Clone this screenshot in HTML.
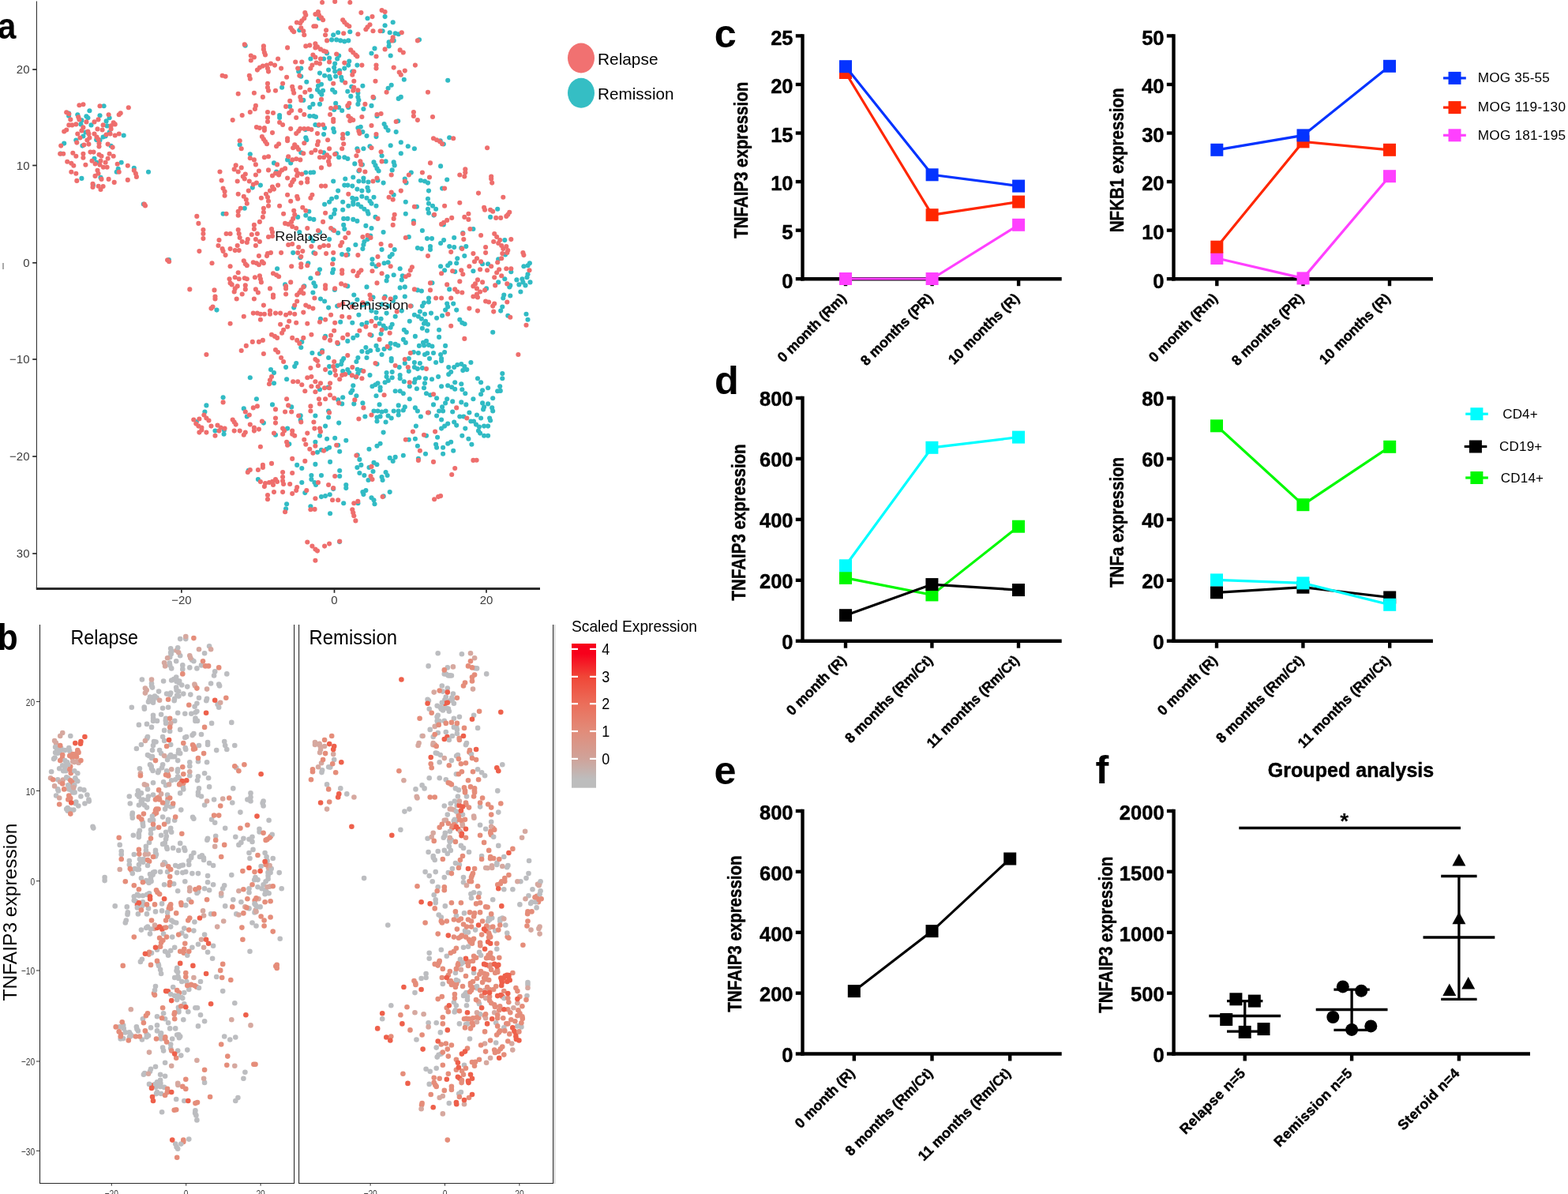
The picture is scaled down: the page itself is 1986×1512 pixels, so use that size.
<!DOCTYPE html>
<html lang="en"><head><meta charset="utf-8"><title>Figure</title>
<style>html,body{margin:0;padding:0;background:#fff}body{width:1986px;height:1512px;overflow:hidden}svg{display:block}text{white-space:pre}</style>
</head><body>
<svg width="1986" height="1512" viewBox="0 0 1986 1512" font-family='"Liberation Sans", sans-serif'>
<rect width="1986" height="1512" fill="#fff"/>
<g id="panel-c">
<text x="904.8" y="60.2" font-size="50.4" fill="#000" font-weight="bold">c</text>
<line x1="1016.5" y1="43.199999999999996" x2="1016.5" y2="355.4" stroke="#000" stroke-width="4.4" stroke-linecap="butt"/>
<line x1="1014.3" y1="353.2" x2="1344.7" y2="353.2" stroke="#000" stroke-width="4.4" stroke-linecap="butt"/>
<g font-weight="bold" stroke="#000" stroke-width="0.45" stroke-linejoin="round">
<line x1="1007.8" y1="353.2" x2="1016.5" y2="353.2" stroke="#000" stroke-width="4.4" stroke-linecap="butt"/>
<text x="1004.5" y="364.5" font-size="25.5" fill="#000" text-anchor="end">0</text>
<line x1="1007.8" y1="291.64" x2="1016.5" y2="291.64" stroke="#000" stroke-width="4.4" stroke-linecap="butt"/>
<text x="1004.5" y="302.94" font-size="25.5" fill="#000" text-anchor="end">5</text>
<line x1="1007.8" y1="230.07999999999998" x2="1016.5" y2="230.07999999999998" stroke="#000" stroke-width="4.4" stroke-linecap="butt"/>
<text x="1004.5" y="241.38" font-size="25.5" fill="#000" text-anchor="end">10</text>
<line x1="1007.8" y1="168.51999999999998" x2="1016.5" y2="168.51999999999998" stroke="#000" stroke-width="4.4" stroke-linecap="butt"/>
<text x="1004.5" y="179.82" font-size="25.5" fill="#000" text-anchor="end">15</text>
<line x1="1007.8" y1="106.95999999999998" x2="1016.5" y2="106.95999999999998" stroke="#000" stroke-width="4.4" stroke-linecap="butt"/>
<text x="1004.5" y="118.25999999999998" font-size="25.5" fill="#000" text-anchor="end">20</text>
<line x1="1007.8" y1="45.39999999999998" x2="1016.5" y2="45.39999999999998" stroke="#000" stroke-width="4.4" stroke-linecap="butt"/>
<text x="1004.5" y="56.699999999999974" font-size="25.5" fill="#000" text-anchor="end">25</text>
<line x1="1071" y1="353.2" x2="1071" y2="362.2" stroke="#000" stroke-width="4.4" stroke-linecap="butt"/>
<text x="1073" y="378.7" font-size="17.8" fill="#000" text-anchor="end" transform="rotate(-45 1073 378.7)">0 month (Rm)</text>
<line x1="1180.6" y1="353.2" x2="1180.6" y2="362.2" stroke="#000" stroke-width="4.4" stroke-linecap="butt"/>
<text x="1182.6" y="378.7" font-size="17.8" fill="#000" text-anchor="end" transform="rotate(-45 1182.6 378.7)">8 months (PR)</text>
<line x1="1290.1" y1="353.2" x2="1290.1" y2="362.2" stroke="#000" stroke-width="4.4" stroke-linecap="butt"/>
<text x="1292.1" y="378.7" font-size="17.8" fill="#000" text-anchor="end" transform="rotate(-45 1292.1 378.7)">10 months (R)</text>
<text font-size="23" text-anchor="middle" textLength="198" lengthAdjust="spacingAndGlyphs" transform="translate(947 202.8) rotate(-90)">TNFAIP3 expression</text>
</g>
<polyline points="1071.0,353.0 1180.6,353.0 1290.1,284.8" fill="none" stroke="#ff40ff" stroke-width="3.2"/>
<rect x="1063.0" y="345.0" width="16" height="16" fill="#ff40ff"/>
<rect x="1172.6" y="345.0" width="16" height="16" fill="#ff40ff"/>
<rect x="1282.1" y="276.8" width="16" height="16" fill="#ff40ff"/>
<polyline points="1071.0,92.0 1180.6,272.2 1290.1,255.6" fill="none" stroke="#ff2600" stroke-width="3.2"/>
<rect x="1063.0" y="84.0" width="16" height="16" fill="#ff2600"/>
<rect x="1172.6" y="264.2" width="16" height="16" fill="#ff2600"/>
<rect x="1282.1" y="247.6" width="16" height="16" fill="#ff2600"/>
<polyline points="1071.0,84.2 1180.6,221.3 1290.1,235.6" fill="none" stroke="#0433ff" stroke-width="3.2"/>
<rect x="1063.0" y="76.2" width="16" height="16" fill="#0433ff"/>
<rect x="1172.6" y="213.3" width="16" height="16" fill="#0433ff"/>
<rect x="1282.1" y="227.6" width="16" height="16" fill="#0433ff"/>
<line x1="1486.5" y1="43.199999999999996" x2="1486.5" y2="355.4" stroke="#000" stroke-width="4.4" stroke-linecap="butt"/>
<line x1="1484.3" y1="353.2" x2="1814.9" y2="353.2" stroke="#000" stroke-width="4.4" stroke-linecap="butt"/>
<g font-weight="bold" stroke="#000" stroke-width="0.45" stroke-linejoin="round">
<line x1="1477.8" y1="353.2" x2="1486.5" y2="353.2" stroke="#000" stroke-width="4.4" stroke-linecap="butt"/>
<text x="1474.5" y="364.5" font-size="25.5" fill="#000" text-anchor="end">0</text>
<line x1="1477.8" y1="291.64" x2="1486.5" y2="291.64" stroke="#000" stroke-width="4.4" stroke-linecap="butt"/>
<text x="1474.5" y="302.94" font-size="25.5" fill="#000" text-anchor="end">10</text>
<line x1="1477.8" y1="230.07999999999998" x2="1486.5" y2="230.07999999999998" stroke="#000" stroke-width="4.4" stroke-linecap="butt"/>
<text x="1474.5" y="241.38" font-size="25.5" fill="#000" text-anchor="end">20</text>
<line x1="1477.8" y1="168.51999999999998" x2="1486.5" y2="168.51999999999998" stroke="#000" stroke-width="4.4" stroke-linecap="butt"/>
<text x="1474.5" y="179.82" font-size="25.5" fill="#000" text-anchor="end">30</text>
<line x1="1477.8" y1="106.95999999999998" x2="1486.5" y2="106.95999999999998" stroke="#000" stroke-width="4.4" stroke-linecap="butt"/>
<text x="1474.5" y="118.25999999999998" font-size="25.5" fill="#000" text-anchor="end">40</text>
<line x1="1477.8" y1="45.39999999999998" x2="1486.5" y2="45.39999999999998" stroke="#000" stroke-width="4.4" stroke-linecap="butt"/>
<text x="1474.5" y="56.699999999999974" font-size="25.5" fill="#000" text-anchor="end">50</text>
<line x1="1541.3" y1="353.2" x2="1541.3" y2="362.2" stroke="#000" stroke-width="4.4" stroke-linecap="butt"/>
<text x="1543.3" y="378.7" font-size="17.8" fill="#000" text-anchor="end" transform="rotate(-45 1543.3 378.7)">0 month (Rm)</text>
<line x1="1650.5" y1="353.2" x2="1650.5" y2="362.2" stroke="#000" stroke-width="4.4" stroke-linecap="butt"/>
<text x="1652.5" y="378.7" font-size="17.8" fill="#000" text-anchor="end" transform="rotate(-45 1652.5 378.7)">8 months (PR)</text>
<line x1="1760" y1="353.2" x2="1760" y2="362.2" stroke="#000" stroke-width="4.4" stroke-linecap="butt"/>
<text x="1762" y="378.7" font-size="17.8" fill="#000" text-anchor="end" transform="rotate(-45 1762 378.7)">10 months (R)</text>
<text font-size="23" text-anchor="middle" textLength="183" lengthAdjust="spacingAndGlyphs" transform="translate(1423 202.8) rotate(-90)">NFKB1 expression</text>
</g>
<polyline points="1541.3,327.0 1650.5,352.4 1760.0,223.2" fill="none" stroke="#ff40ff" stroke-width="3.2"/>
<rect x="1533.3" y="319.0" width="16" height="16" fill="#ff40ff"/>
<rect x="1642.5" y="344.4" width="16" height="16" fill="#ff40ff"/>
<rect x="1752.0" y="215.2" width="16" height="16" fill="#ff40ff"/>
<polyline points="1541.3,312.7 1650.5,179.4 1760.0,189.8" fill="none" stroke="#ff2600" stroke-width="3.2"/>
<rect x="1533.3" y="304.7" width="16" height="16" fill="#ff2600"/>
<rect x="1642.5" y="171.4" width="16" height="16" fill="#ff2600"/>
<rect x="1752.0" y="181.8" width="16" height="16" fill="#ff2600"/>
<polyline points="1541.3,189.8 1650.5,171.4 1760.0,83.8" fill="none" stroke="#0433ff" stroke-width="3.2"/>
<rect x="1533.3" y="181.8" width="16" height="16" fill="#0433ff"/>
<rect x="1642.5" y="163.4" width="16" height="16" fill="#0433ff"/>
<rect x="1752.0" y="75.8" width="16" height="16" fill="#0433ff"/>
<line x1="1828" y1="98.9" x2="1856.8" y2="98.9" stroke="#0433ff" stroke-width="3.2" stroke-linecap="butt"/>
<rect x="1834.5" y="90.9" width="16" height="16" fill="#0433ff"/>
<text x="1871.8" y="104.4" font-size="17.2" textLength="91" lengthAdjust="spacing">MOG 35-55</text>
<line x1="1828" y1="136.1" x2="1856.8" y2="136.1" stroke="#ff2600" stroke-width="3.2" stroke-linecap="butt"/>
<rect x="1834.5" y="128.1" width="16" height="16" fill="#ff2600"/>
<text x="1871.8" y="141.1" font-size="17.2" textLength="111.2" lengthAdjust="spacing">MOG 119-130</text>
<line x1="1828" y1="171.3" x2="1856.8" y2="171.3" stroke="#ff40ff" stroke-width="3.2" stroke-linecap="butt"/>
<rect x="1834.5" y="163.3" width="16" height="16" fill="#ff40ff"/>
<text x="1871.8" y="177.4" font-size="17.2" textLength="111.2" lengthAdjust="spacing">MOG 181-195</text>
</g>
<g id="panel-d">
<text x="904.9" y="498.6" font-size="50.4" fill="#000" font-weight="bold">d</text>
<line x1="1016.5" y1="501.8" x2="1016.5" y2="813.9000000000001" stroke="#000" stroke-width="4.4" stroke-linecap="butt"/>
<line x1="1014.3" y1="811.7" x2="1344.7" y2="811.7" stroke="#000" stroke-width="4.4" stroke-linecap="butt"/>
<g font-weight="bold" stroke="#000" stroke-width="0.45" stroke-linejoin="round">
<line x1="1007.8" y1="811.7" x2="1016.5" y2="811.7" stroke="#000" stroke-width="4.4" stroke-linecap="butt"/>
<text x="1004.5" y="822.0" font-size="25.5" fill="#000" text-anchor="end">0</text>
<line x1="1007.8" y1="734.7750000000001" x2="1016.5" y2="734.7750000000001" stroke="#000" stroke-width="4.4" stroke-linecap="butt"/>
<text x="1004.5" y="745.075" font-size="25.5" fill="#000" text-anchor="end">200</text>
<line x1="1007.8" y1="657.85" x2="1016.5" y2="657.85" stroke="#000" stroke-width="4.4" stroke-linecap="butt"/>
<text x="1004.5" y="668.15" font-size="25.5" fill="#000" text-anchor="end">400</text>
<line x1="1007.8" y1="580.925" x2="1016.5" y2="580.925" stroke="#000" stroke-width="4.4" stroke-linecap="butt"/>
<text x="1004.5" y="591.2249999999999" font-size="25.5" fill="#000" text-anchor="end">600</text>
<line x1="1007.8" y1="504.0" x2="1016.5" y2="504.0" stroke="#000" stroke-width="4.4" stroke-linecap="butt"/>
<text x="1004.5" y="514.3" font-size="25.5" fill="#000" text-anchor="end">800</text>
<line x1="1071" y1="811.7" x2="1071" y2="820.7" stroke="#000" stroke-width="4.4" stroke-linecap="butt"/>
<text x="1073" y="837.2" font-size="17.8" fill="#000" text-anchor="end" transform="rotate(-45 1073 837.2)">0 month (R)</text>
<line x1="1180.4" y1="811.7" x2="1180.4" y2="820.7" stroke="#000" stroke-width="4.4" stroke-linecap="butt"/>
<text x="1182.4" y="837.2" font-size="17.8" fill="#000" text-anchor="end" transform="rotate(-45 1182.4 837.2)">8 months (Rm/Ct)</text>
<line x1="1290" y1="811.7" x2="1290" y2="820.7" stroke="#000" stroke-width="4.4" stroke-linecap="butt"/>
<text x="1292" y="837.2" font-size="17.8" fill="#000" text-anchor="end" transform="rotate(-45 1292 837.2)">11 months (Rm/Ct)</text>
<text font-size="23" text-anchor="middle" textLength="198" lengthAdjust="spacingAndGlyphs" transform="translate(944 661.4) rotate(-90)">TNFAIP3 expression</text>
</g>
<polyline points="1071.0,731.9 1180.4,753.4 1290.0,666.7" fill="none" stroke="#00f900" stroke-width="3.2"/>
<rect x="1063.0" y="723.9" width="16" height="16" fill="#00f900"/>
<rect x="1172.4" y="745.4" width="16" height="16" fill="#00f900"/>
<rect x="1282.0" y="658.7" width="16" height="16" fill="#00f900"/>
<polyline points="1071.0,779.2 1180.4,740.1 1290.0,747.1" fill="none" stroke="#000000" stroke-width="3.2"/>
<rect x="1063.0" y="771.2" width="16" height="16" fill="#000000"/>
<rect x="1172.4" y="732.1" width="16" height="16" fill="#000000"/>
<rect x="1282.0" y="739.1" width="16" height="16" fill="#000000"/>
<polyline points="1071.0,716.3 1180.4,566.8 1290.0,553.6" fill="none" stroke="#00fdff" stroke-width="3.2"/>
<rect x="1063.0" y="708.3" width="16" height="16" fill="#00fdff"/>
<rect x="1172.4" y="558.8" width="16" height="16" fill="#00fdff"/>
<rect x="1282.0" y="545.6" width="16" height="16" fill="#00fdff"/>
<line x1="1486.5" y1="501.8" x2="1486.5" y2="813.9000000000001" stroke="#000" stroke-width="4.4" stroke-linecap="butt"/>
<line x1="1484.3" y1="811.7" x2="1814.9" y2="811.7" stroke="#000" stroke-width="4.4" stroke-linecap="butt"/>
<g font-weight="bold" stroke="#000" stroke-width="0.45" stroke-linejoin="round">
<line x1="1477.8" y1="811.7" x2="1486.5" y2="811.7" stroke="#000" stroke-width="4.4" stroke-linecap="butt"/>
<text x="1474.5" y="822.0" font-size="25.5" fill="#000" text-anchor="end">0</text>
<line x1="1477.8" y1="734.7750000000001" x2="1486.5" y2="734.7750000000001" stroke="#000" stroke-width="4.4" stroke-linecap="butt"/>
<text x="1474.5" y="745.075" font-size="25.5" fill="#000" text-anchor="end">20</text>
<line x1="1477.8" y1="657.85" x2="1486.5" y2="657.85" stroke="#000" stroke-width="4.4" stroke-linecap="butt"/>
<text x="1474.5" y="668.15" font-size="25.5" fill="#000" text-anchor="end">40</text>
<line x1="1477.8" y1="580.925" x2="1486.5" y2="580.925" stroke="#000" stroke-width="4.4" stroke-linecap="butt"/>
<text x="1474.5" y="591.2249999999999" font-size="25.5" fill="#000" text-anchor="end">60</text>
<line x1="1477.8" y1="504.0" x2="1486.5" y2="504.0" stroke="#000" stroke-width="4.4" stroke-linecap="butt"/>
<text x="1474.5" y="514.3" font-size="25.5" fill="#000" text-anchor="end">80</text>
<line x1="1541" y1="811.7" x2="1541" y2="820.7" stroke="#000" stroke-width="4.4" stroke-linecap="butt"/>
<text x="1543" y="837.2" font-size="17.8" fill="#000" text-anchor="end" transform="rotate(-45 1543 837.2)">0 month (R)</text>
<line x1="1650.4" y1="811.7" x2="1650.4" y2="820.7" stroke="#000" stroke-width="4.4" stroke-linecap="butt"/>
<text x="1652.4" y="837.2" font-size="17.8" fill="#000" text-anchor="end" transform="rotate(-45 1652.4 837.2)">8 months (Rm/Ct)</text>
<line x1="1760.2" y1="811.7" x2="1760.2" y2="820.7" stroke="#000" stroke-width="4.4" stroke-linecap="butt"/>
<text x="1762.2" y="837.2" font-size="17.8" fill="#000" text-anchor="end" transform="rotate(-45 1762.2 837.2)">11 months (Rm/Ct)</text>
<text font-size="23" text-anchor="middle" textLength="165" lengthAdjust="spacingAndGlyphs" transform="translate(1423 661.4) rotate(-90)">TNFa expression</text>
</g>
<polyline points="1541.0,539.3 1650.4,639.2 1760.2,565.8" fill="none" stroke="#00f900" stroke-width="3.2"/>
<rect x="1533.0" y="531.3" width="16" height="16" fill="#00f900"/>
<rect x="1642.4" y="631.2" width="16" height="16" fill="#00f900"/>
<rect x="1752.2" y="557.8" width="16" height="16" fill="#00f900"/>
<polyline points="1541.0,750.3 1650.4,743.7 1760.2,756.5" fill="none" stroke="#000000" stroke-width="3.2"/>
<rect x="1533.0" y="742.3" width="16" height="16" fill="#000000"/>
<rect x="1642.4" y="735.7" width="16" height="16" fill="#000000"/>
<rect x="1752.2" y="748.5" width="16" height="16" fill="#000000"/>
<polyline points="1541.0,734.4 1650.4,738.4 1760.2,765.8" fill="none" stroke="#00fdff" stroke-width="3.2"/>
<rect x="1533.0" y="726.4" width="16" height="16" fill="#00fdff"/>
<rect x="1642.4" y="730.4" width="16" height="16" fill="#00fdff"/>
<rect x="1752.2" y="757.8" width="16" height="16" fill="#00fdff"/>
<line x1="1856.2" y1="524.2" x2="1884.8000000000002" y2="524.2" stroke="#00fdff" stroke-width="3.2" stroke-linecap="butt"/>
<rect x="1862.4" y="516.2" width="16" height="16" fill="#00fdff"/>
<text x="1903.3" y="529.5" font-size="17" textLength="44.3" lengthAdjust="spacing">CD4+</text>
<line x1="1854.7" y1="565.5" x2="1883.3000000000002" y2="565.5" stroke="#000000" stroke-width="3.2" stroke-linecap="butt"/>
<rect x="1860.9" y="557.5" width="16" height="16" fill="#000000"/>
<text x="1899.1" y="570.6" font-size="17" textLength="54.1" lengthAdjust="spacing">CD19+</text>
<line x1="1856.2" y1="605.0" x2="1884.8000000000002" y2="605.0" stroke="#00f900" stroke-width="3.2" stroke-linecap="butt"/>
<rect x="1862.4" y="597.0" width="16" height="16" fill="#00f900"/>
<text x="1900.8" y="610.6" font-size="17" textLength="54.2" lengthAdjust="spacing">CD14+</text>
</g>
<g id="panel-e">
<text x="904.5" y="992.7" font-size="50.4" fill="#000" font-weight="bold">e</text>
<line x1="1016.5" y1="1024.8" x2="1016.5" y2="1336.7" stroke="#000" stroke-width="4.4" stroke-linecap="butt"/>
<line x1="1014.3" y1="1334.5" x2="1344.7" y2="1334.5" stroke="#000" stroke-width="4.4" stroke-linecap="butt"/>
<g font-weight="bold" stroke="#000" stroke-width="0.45" stroke-linejoin="round">
<line x1="1007.8" y1="1334.5" x2="1016.5" y2="1334.5" stroke="#000" stroke-width="4.4" stroke-linecap="butt"/>
<text x="1004.5" y="1345.3" font-size="25.5" fill="#000" text-anchor="end">0</text>
<line x1="1007.8" y1="1257.625" x2="1016.5" y2="1257.625" stroke="#000" stroke-width="4.4" stroke-linecap="butt"/>
<text x="1004.5" y="1268.425" font-size="25.5" fill="#000" text-anchor="end">200</text>
<line x1="1007.8" y1="1180.75" x2="1016.5" y2="1180.75" stroke="#000" stroke-width="4.4" stroke-linecap="butt"/>
<text x="1004.5" y="1191.55" font-size="25.5" fill="#000" text-anchor="end">400</text>
<line x1="1007.8" y1="1103.875" x2="1016.5" y2="1103.875" stroke="#000" stroke-width="4.4" stroke-linecap="butt"/>
<text x="1004.5" y="1114.675" font-size="25.5" fill="#000" text-anchor="end">600</text>
<line x1="1007.8" y1="1027.0" x2="1016.5" y2="1027.0" stroke="#000" stroke-width="4.4" stroke-linecap="butt"/>
<text x="1004.5" y="1037.8" font-size="25.5" fill="#000" text-anchor="end">800</text>
<line x1="1081.8" y1="1334.5" x2="1081.8" y2="1343.5" stroke="#000" stroke-width="4.4" stroke-linecap="butt"/>
<text x="1083.8" y="1360.0" font-size="17.8" fill="#000" text-anchor="end" transform="rotate(-45 1083.8 1360.0)">0 month (R)</text>
<line x1="1180.5" y1="1334.5" x2="1180.5" y2="1343.5" stroke="#000" stroke-width="4.4" stroke-linecap="butt"/>
<text x="1182.5" y="1360.0" font-size="17.8" fill="#000" text-anchor="end" transform="rotate(-45 1182.5 1360.0)">8 months (Rm/Ct)</text>
<line x1="1279.2" y1="1334.5" x2="1279.2" y2="1343.5" stroke="#000" stroke-width="4.4" stroke-linecap="butt"/>
<text x="1281.2" y="1360.0" font-size="17.8" fill="#000" text-anchor="end" transform="rotate(-45 1281.2 1360.0)">11 months (Rm/Ct)</text>
<text font-size="23" text-anchor="middle" textLength="198" lengthAdjust="spacingAndGlyphs" transform="translate(939 1182.5) rotate(-90)">TNFAIP3 expression</text>
</g>
<polyline points="1081.8,1255.1 1180.5,1179.1 1279.2,1087.5" fill="none" stroke="#000000" stroke-width="3.2"/>
<rect x="1073.8" y="1247.1" width="16" height="16" fill="#000000"/>
<rect x="1172.5" y="1171.1" width="16" height="16" fill="#000000"/>
<rect x="1271.2" y="1079.5" width="16" height="16" fill="#000000"/>
</g>
<g id="panel-f">
<text x="1387.4" y="992.3" font-size="50.4" fill="#000" font-weight="bold">f</text>
<text x="1711" y="983.5" font-size="25" font-weight="bold" text-anchor="middle" stroke="#000" stroke-width="0.45" textLength="210.5" lengthAdjust="spacing">Grouped analysis</text>
<line x1="1486.6" y1="1024.8" x2="1486.6" y2="1336.7" stroke="#000" stroke-width="4.4" stroke-linecap="butt"/>
<line x1="1484.3999999999999" y1="1334.5" x2="1938" y2="1334.5" stroke="#000" stroke-width="4.4" stroke-linecap="butt"/>
<g font-weight="bold" stroke="#000" stroke-width="0.45" stroke-linejoin="round">
<line x1="1477.8999999999999" y1="1334.5" x2="1486.6" y2="1334.5" stroke="#000" stroke-width="4.4" stroke-linecap="butt"/>
<text x="1474.6" y="1345.3" font-size="25.5" fill="#000" text-anchor="end">0</text>
<line x1="1477.8999999999999" y1="1257.625" x2="1486.6" y2="1257.625" stroke="#000" stroke-width="4.4" stroke-linecap="butt"/>
<text x="1474.6" y="1268.425" font-size="25.5" fill="#000" text-anchor="end">500</text>
<line x1="1477.8999999999999" y1="1180.75" x2="1486.6" y2="1180.75" stroke="#000" stroke-width="4.4" stroke-linecap="butt"/>
<text x="1474.6" y="1191.55" font-size="25.5" fill="#000" text-anchor="end">1000</text>
<line x1="1477.8999999999999" y1="1103.875" x2="1486.6" y2="1103.875" stroke="#000" stroke-width="4.4" stroke-linecap="butt"/>
<text x="1474.6" y="1114.675" font-size="25.5" fill="#000" text-anchor="end">1500</text>
<line x1="1477.8999999999999" y1="1027.0" x2="1486.6" y2="1027.0" stroke="#000" stroke-width="4.4" stroke-linecap="butt"/>
<text x="1474.6" y="1037.8" font-size="25.5" fill="#000" text-anchor="end">2000</text>
<line x1="1576.7" y1="1334.5" x2="1576.7" y2="1343.5" stroke="#000" stroke-width="4.4" stroke-linecap="butt"/>
<text x="1578.7" y="1360.0" font-size="17.8" fill="#000" text-anchor="end" transform="rotate(-45 1578.7 1360.0)" letter-spacing="0.45">Relapse n=5</text>
<line x1="1712.1" y1="1334.5" x2="1712.1" y2="1343.5" stroke="#000" stroke-width="4.4" stroke-linecap="butt"/>
<text x="1714.1" y="1360.0" font-size="17.8" fill="#000" text-anchor="end" transform="rotate(-45 1714.1 1360.0)" letter-spacing="0.45">Remission n=5</text>
<line x1="1847.9" y1="1334.5" x2="1847.9" y2="1343.5" stroke="#000" stroke-width="4.4" stroke-linecap="butt"/>
<text x="1849.9" y="1360.0" font-size="17.8" fill="#000" text-anchor="end" transform="rotate(-45 1849.9 1360.0)" letter-spacing="0.45">Steroid n=4</text>
<text font-size="23" text-anchor="middle" textLength="198" lengthAdjust="spacingAndGlyphs" transform="translate(1409 1183.8) rotate(-90)">TNFAIP3 expression</text>
</g>
<line x1="1569.3" y1="1048.5" x2="1850" y2="1048.5" stroke="#000" stroke-width="3.4" stroke-linecap="butt"/>
<text x="1702.8" y="1049" font-size="28" fill="#000" font-weight="bold" text-anchor="middle">*</text>
<line x1="1531.3" y1="1286.5" x2="1622.1000000000001" y2="1286.5" stroke="#000" stroke-width="3.5" stroke-linecap="butt"/>
<line x1="1554.0" y1="1267.6" x2="1599.4" y2="1267.6" stroke="#000" stroke-width="3.3" stroke-linecap="butt"/>
<line x1="1554.0" y1="1306.2" x2="1599.4" y2="1306.2" stroke="#000" stroke-width="3.3" stroke-linecap="butt"/>
<line x1="1576.7" y1="1267.6" x2="1576.7" y2="1306.2" stroke="#000" stroke-width="3.3" stroke-linecap="butt"/>
<rect x="1557.4" y="1257.3" width="16" height="16" fill="#000"/>
<rect x="1580.8" y="1259.6" width="16" height="16" fill="#000"/>
<rect x="1545.2" y="1283.0" width="16" height="16" fill="#000"/>
<rect x="1568.7" y="1298.9" width="16" height="16" fill="#000"/>
<rect x="1592.5" y="1295.1" width="16" height="16" fill="#000"/>
<line x1="1666.6999999999998" y1="1278.6" x2="1757.5" y2="1278.6" stroke="#000" stroke-width="3.5" stroke-linecap="butt"/>
<line x1="1689.3999999999999" y1="1253.2" x2="1734.8" y2="1253.2" stroke="#000" stroke-width="3.3" stroke-linecap="butt"/>
<line x1="1689.3999999999999" y1="1304.3" x2="1734.8" y2="1304.3" stroke="#000" stroke-width="3.3" stroke-linecap="butt"/>
<line x1="1712.1" y1="1253.2" x2="1712.1" y2="1304.3" stroke="#000" stroke-width="3.3" stroke-linecap="butt"/>
<circle cx="1700.8" cy="1249.4" r="8"/>
<circle cx="1724.2" cy="1254.7" r="8"/>
<circle cx="1688.3" cy="1288" r="8"/>
<circle cx="1712.1" cy="1303.9" r="8"/>
<circle cx="1736.3" cy="1299.4" r="8"/>
<line x1="1802.5" y1="1187" x2="1893.3000000000002" y2="1187" stroke="#000" stroke-width="3.5" stroke-linecap="butt"/>
<line x1="1825.2" y1="1109.5" x2="1870.6000000000001" y2="1109.5" stroke="#000" stroke-width="3.3" stroke-linecap="butt"/>
<line x1="1825.2" y1="1265.3" x2="1870.6000000000001" y2="1265.3" stroke="#000" stroke-width="3.3" stroke-linecap="butt"/>
<line x1="1847.9" y1="1109.5" x2="1847.9" y2="1265.3" stroke="#000" stroke-width="3.3" stroke-linecap="butt"/>
<polygon points="1847.9,1080.9 1856.4,1096.4 1839.4,1096.4"/>
<polygon points="1847.9,1154.7 1856.4,1170.2 1839.4,1170.2"/>
<polygon points="1835.8,1245.5 1844.3,1261 1827.3,1261"/>
<polygon points="1859.7,1237.1 1868.2,1252.6 1851.2,1252.6"/>
</g>
<g id="panel-a">
<text font-size="46.7" font-weight="bold" transform="translate(-3.1 48.6) scale(0.9 1)">a</text>
<line x1="46.4" y1="1.5" x2="46.4" y2="745" stroke="#2e2e2e" stroke-width="1.1" stroke-linecap="butt"/>
<line x1="45.8" y1="745.5" x2="684" y2="745.5" stroke="#2a2a2a" stroke-width="2.9" stroke-linecap="butt"/>
<line x1="41.2" y1="88" x2="46.4" y2="88" stroke="#2a2a2a" stroke-width="1.7" stroke-linecap="butt"/>
<text x="37.5" y="93.2" font-size="15" fill="#3c3c3c" text-anchor="end">20</text>
<line x1="41.2" y1="209.5" x2="46.4" y2="209.5" stroke="#2a2a2a" stroke-width="1.7" stroke-linecap="butt"/>
<text x="37.5" y="214.7" font-size="15" fill="#3c3c3c" text-anchor="end">10</text>
<line x1="41.2" y1="332.8" x2="46.4" y2="332.8" stroke="#2a2a2a" stroke-width="1.7" stroke-linecap="butt"/>
<text x="37.5" y="338.0" font-size="15" fill="#3c3c3c" text-anchor="end">0</text>
<line x1="41.2" y1="455" x2="46.4" y2="455" stroke="#2a2a2a" stroke-width="1.7" stroke-linecap="butt"/>
<text x="37.5" y="460.2" font-size="15" fill="#3c3c3c" text-anchor="end">−10</text>
<line x1="41.2" y1="578" x2="46.4" y2="578" stroke="#2a2a2a" stroke-width="1.7" stroke-linecap="butt"/>
<text x="37.5" y="583.2" font-size="15" fill="#3c3c3c" text-anchor="end">−20</text>
<line x1="41.2" y1="701" x2="46.4" y2="701" stroke="#2a2a2a" stroke-width="1.7" stroke-linecap="butt"/>
<text x="37.5" y="706.2" font-size="15" fill="#3c3c3c" text-anchor="end">30</text>
<line x1="229.9" y1="745.5" x2="229.9" y2="750.8" stroke="#2a2a2a" stroke-width="1.7" stroke-linecap="butt"/>
<text x="229.9" y="764.8" font-size="15" fill="#3c3c3c" text-anchor="middle">−20</text>
<line x1="423.5" y1="745.5" x2="423.5" y2="750.8" stroke="#2a2a2a" stroke-width="1.7" stroke-linecap="butt"/>
<text x="423.5" y="764.8" font-size="15" fill="#3c3c3c" text-anchor="middle">0</text>
<line x1="616" y1="745.5" x2="616" y2="750.8" stroke="#2a2a2a" stroke-width="1.7" stroke-linecap="butt"/>
<text x="616" y="764.8" font-size="15" fill="#3c3c3c" text-anchor="middle">20</text>
<line x1="4" y1="333" x2="4" y2="341" stroke="#555" stroke-width="1" stroke-linecap="butt"/>
<ellipse cx="736" cy="73.5" rx="17" ry="19" fill="#f17171"/>
<ellipse cx="736" cy="117.8" rx="17" ry="19" fill="#35bec4"/>
<text x="757" y="82" font-size="21" fill="#000" textLength="76.5" lengthAdjust="spacingAndGlyphs">Relapse</text>
<text x="757" y="125.5" font-size="21" fill="#000" textLength="96.5" lengthAdjust="spacingAndGlyphs">Remission</text>
<g fill="#31bbc4"><circle cx="87.1" cy="143.5" r="3.05"/><circle cx="531.0" cy="50.2" r="3.05"/><circle cx="407.4" cy="119.7" r="3.05"/><circle cx="473.3" cy="124.0" r="3.05"/><circle cx="310.7" cy="57.8" r="3.05"/><circle cx="430.1" cy="89.3" r="3.05"/><circle cx="122.1" cy="177.1" r="3.05"/><circle cx="87.1" cy="146.7" r="3.05"/><circle cx="117.9" cy="234.6" r="3.05"/><circle cx="140.6" cy="184.7" r="3.05"/><circle cx="76.8" cy="194.5" r="3.05"/><circle cx="181.8" cy="258.5" r="3.05"/><circle cx="403.3" cy="158.7" r="3.05"/><circle cx="456.8" cy="160.8" r="3.05"/><circle cx="426.0" cy="194.5" r="3.05"/><circle cx="458.9" cy="208.6" r="3.05"/><circle cx="514.5" cy="231.4" r="3.05"/><circle cx="549.5" cy="272.6" r="3.05"/><circle cx="561.8" cy="284.5" r="3.05"/><circle cx="421.8" cy="291.0" r="3.05"/><circle cx="440.4" cy="234.6" r="3.05"/><circle cx="434.2" cy="174.9" r="3.05"/><circle cx="440.4" cy="201.0" r="3.05"/><circle cx="397.1" cy="218.3" r="3.05"/><circle cx="469.2" cy="298.6" r="3.05"/><circle cx="504.2" cy="153.2" r="3.05"/><circle cx="386.8" cy="164.1" r="3.05"/><circle cx="557.7" cy="178.2" r="3.05"/><circle cx="561.8" cy="182.5" r="3.05"/><circle cx="213.9" cy="329.0" r="3.05"/><circle cx="576.3" cy="344.1" r="3.05"/><circle cx="547.4" cy="358.2" r="3.05"/><circle cx="423.9" cy="366.9" r="3.05"/><circle cx="428.0" cy="435.3" r="3.05"/><circle cx="469.2" cy="444.0" r="3.05"/><circle cx="452.7" cy="467.8" r="3.05"/><circle cx="440.4" cy="322.4" r="3.05"/><circle cx="570.1" cy="333.3" r="3.05"/><circle cx="403.3" cy="346.3" r="3.05"/><circle cx="487.7" cy="375.6" r="3.05"/><circle cx="498.0" cy="381.0" r="3.05"/><circle cx="446.5" cy="385.4" r="3.05"/><circle cx="458.9" cy="386.5" r="3.05"/><circle cx="465.1" cy="384.3" r="3.05"/><circle cx="483.6" cy="385.4" r="3.05"/><circle cx="491.8" cy="387.5" r="3.05"/><circle cx="520.7" cy="387.5" r="3.05"/><circle cx="588.6" cy="410.3" r="3.05"/><circle cx="485.7" cy="412.5" r="3.05"/><circle cx="504.2" cy="437.5" r="3.05"/><circle cx="537.1" cy="437.5" r="3.05"/><circle cx="547.4" cy="438.5" r="3.05"/><circle cx="541.3" cy="447.2" r="3.05"/><circle cx="432.1" cy="461.3" r="3.05"/><circle cx="640.0" cy="322.4" r="3.05"/><circle cx="670.9" cy="333.3" r="3.05"/><circle cx="475.4" cy="487.3" r="3.05"/><circle cx="481.6" cy="490.6" r="3.05"/><circle cx="380.7" cy="526.4" r="3.05"/><circle cx="481.6" cy="527.4" r="3.05"/><circle cx="413.6" cy="568.7" r="3.05"/><circle cx="380.7" cy="531.8" r="3.05"/><circle cx="417.7" cy="626.2" r="3.05"/><circle cx="450.7" cy="477.5" r="3.05"/><circle cx="491.8" cy="481.9" r="3.05"/><circle cx="415.7" cy="490.6" r="3.05"/><circle cx="283.9" cy="544.8" r="3.05"/><circle cx="452.7" cy="576.3" r="3.05"/><circle cx="477.4" cy="588.2" r="3.05"/><circle cx="314.8" cy="595.8" r="3.05"/><circle cx="485.7" cy="628.4" r="3.05"/><circle cx="248.9" cy="534.0" r="3.05"/><circle cx="366.3" cy="562.2" r="3.05"/><circle cx="576.2" cy="492.7" r="3.05"/><circle cx="633.8" cy="494.9" r="3.05"/><circle cx="430.1" cy="686.1" r="3.05"/></g>
<g fill="#31bbc4"><circle cx="131.6" cy="134.2" r="3.05"/><circle cx="113.4" cy="140.3" r="3.05"/><circle cx="98.3" cy="145.3" r="3.05"/><circle cx="109.4" cy="147.3" r="3.05"/><circle cx="111.4" cy="149.3" r="3.05"/><circle cx="126.5" cy="146.3" r="3.05"/><circle cx="138.6" cy="149.3" r="3.05"/><circle cx="103.4" cy="152.4" r="3.05"/><circle cx="134.6" cy="153.4" r="3.05"/><circle cx="102.4" cy="157.4" r="3.05"/><circle cx="115.5" cy="158.4" r="3.05"/><circle cx="135.6" cy="159.4" r="3.05"/><circle cx="108.4" cy="167.5" r="3.05"/><circle cx="138.6" cy="167.5" r="3.05"/><circle cx="156.7" cy="171.5" r="3.05"/><circle cx="105.4" cy="172.5" r="3.05"/><circle cx="130.6" cy="173.5" r="3.05"/><circle cx="133.6" cy="172.5" r="3.05"/><circle cx="96.3" cy="177.5" r="3.05"/><circle cx="126.5" cy="177.5" r="3.05"/><circle cx="104.4" cy="184.6" r="3.05"/><circle cx="81.2" cy="181.6" r="3.05"/><circle cx="119.5" cy="200.7" r="3.05"/><circle cx="122.5" cy="205.7" r="3.05"/><circle cx="153.7" cy="205.7" r="3.05"/><circle cx="149.7" cy="213.8" r="3.05"/><circle cx="147.7" cy="217.8" r="3.05"/><circle cx="169.8" cy="212.8" r="3.05"/><circle cx="188.0" cy="217.8" r="3.05"/><circle cx="103.4" cy="225.9" r="3.05"/><circle cx="127.5" cy="224.9" r="3.05"/><circle cx="379.3" cy="38.3" r="3.05"/><circle cx="393.4" cy="74.5" r="3.05"/><circle cx="381.3" cy="86.6" r="3.05"/><circle cx="378.2" cy="90.6" r="3.05"/><circle cx="381.3" cy="96.7" r="3.05"/><circle cx="388.3" cy="103.7" r="3.05"/><circle cx="357.1" cy="110.8" r="3.05"/><circle cx="394.4" cy="121.9" r="3.05"/><circle cx="384.3" cy="126.9" r="3.05"/><circle cx="367.2" cy="134.9" r="3.05"/><circle cx="392.3" cy="136.0" r="3.05"/><circle cx="396.4" cy="131.9" r="3.05"/><circle cx="354.1" cy="146.0" r="3.05"/><circle cx="354.1" cy="149.0" r="3.05"/><circle cx="392.3" cy="147.0" r="3.05"/><circle cx="397.4" cy="147.0" r="3.05"/><circle cx="404.0" cy="23.2" r="3.05"/><circle cx="465.5" cy="23.2" r="3.05"/><circle cx="487.6" cy="21.1" r="3.05"/><circle cx="497.7" cy="28.2" r="3.05"/><circle cx="487.6" cy="32.2" r="3.05"/><circle cx="443.3" cy="40.3" r="3.05"/><circle cx="428.2" cy="41.3" r="3.05"/><circle cx="422.2" cy="44.3" r="3.05"/><circle cx="484.6" cy="39.3" r="3.05"/><circle cx="493.7" cy="41.3" r="3.05"/><circle cx="500.7" cy="42.3" r="3.05"/><circle cx="504.7" cy="43.3" r="3.05"/><circle cx="420.1" cy="50.4" r="3.05"/><circle cx="426.2" cy="50.4" r="3.05"/><circle cx="431.2" cy="51.4" r="3.05"/><circle cx="436.3" cy="52.4" r="3.05"/><circle cx="441.3" cy="51.4" r="3.05"/><circle cx="498.7" cy="51.4" r="3.05"/><circle cx="492.6" cy="53.4" r="3.05"/><circle cx="492.6" cy="58.4" r="3.05"/><circle cx="474.5" cy="61.4" r="3.05"/><circle cx="470.5" cy="67.5" r="3.05"/><circle cx="414.1" cy="67.5" r="3.05"/><circle cx="429.2" cy="70.5" r="3.05"/><circle cx="427.2" cy="74.5" r="3.05"/><circle cx="417.1" cy="73.5" r="3.05"/><circle cx="410.1" cy="74.5" r="3.05"/><circle cx="494.7" cy="70.5" r="3.05"/><circle cx="442.3" cy="77.5" r="3.05"/><circle cx="441.3" cy="82.6" r="3.05"/><circle cx="436.3" cy="86.6" r="3.05"/><circle cx="452.4" cy="82.6" r="3.05"/><circle cx="424.2" cy="80.6" r="3.05"/><circle cx="423.2" cy="85.6" r="3.05"/><circle cx="424.2" cy="90.6" r="3.05"/><circle cx="416.1" cy="88.6" r="3.05"/><circle cx="446.3" cy="90.6" r="3.05"/><circle cx="405.0" cy="92.6" r="3.05"/><circle cx="411.1" cy="95.7" r="3.05"/><circle cx="417.1" cy="96.7" r="3.05"/><circle cx="418.1" cy="99.7" r="3.05"/><circle cx="425.2" cy="96.7" r="3.05"/><circle cx="432.2" cy="97.7" r="3.05"/><circle cx="433.2" cy="101.7" r="3.05"/><circle cx="511.8" cy="100.7" r="3.05"/><circle cx="567.2" cy="101.7" r="3.05"/><circle cx="407.0" cy="106.7" r="3.05"/><circle cx="403.0" cy="108.8" r="3.05"/><circle cx="445.3" cy="109.8" r="3.05"/><circle cx="459.4" cy="108.8" r="3.05"/><circle cx="495.7" cy="107.8" r="3.05"/><circle cx="491.6" cy="111.8" r="3.05"/><circle cx="402.0" cy="113.8" r="3.05"/><circle cx="405.0" cy="116.8" r="3.05"/><circle cx="409.1" cy="114.8" r="3.05"/><circle cx="421.1" cy="113.8" r="3.05"/><circle cx="424.2" cy="116.8" r="3.05"/><circle cx="440.3" cy="115.8" r="3.05"/><circle cx="453.4" cy="117.8" r="3.05"/><circle cx="453.4" cy="122.9" r="3.05"/><circle cx="454.4" cy="126.9" r="3.05"/><circle cx="453.4" cy="131.9" r="3.05"/><circle cx="444.3" cy="121.9" r="3.05"/><circle cx="504.7" cy="124.9" r="3.05"/><circle cx="507.8" cy="122.9" r="3.05"/><circle cx="405.0" cy="131.9" r="3.05"/><circle cx="425.2" cy="130.9" r="3.05"/><circle cx="470.5" cy="133.9" r="3.05"/><circle cx="460.4" cy="138.0" r="3.05"/><circle cx="441.3" cy="136.0" r="3.05"/><circle cx="429.2" cy="136.0" r="3.05"/><circle cx="433.2" cy="140.0" r="3.05"/><circle cx="423.2" cy="139.0" r="3.05"/><circle cx="477.5" cy="147.0" r="3.05"/><circle cx="400.0" cy="148.0" r="3.05"/><circle cx="399.4" cy="158.0" r="3.05"/><circle cx="387.3" cy="174.2" r="3.05"/><circle cx="388.3" cy="177.2" r="3.05"/><circle cx="303.7" cy="183.2" r="3.05"/><circle cx="381.3" cy="193.3" r="3.05"/><circle cx="316.8" cy="195.3" r="3.05"/><circle cx="347.0" cy="206.4" r="3.05"/><circle cx="364.1" cy="202.4" r="3.05"/><circle cx="368.2" cy="206.4" r="3.05"/><circle cx="350.1" cy="217.5" r="3.05"/><circle cx="387.3" cy="218.5" r="3.05"/><circle cx="393.4" cy="218.5" r="3.05"/><circle cx="329.9" cy="234.6" r="3.05"/><circle cx="319.8" cy="237.6" r="3.05"/><circle cx="309.8" cy="263.8" r="3.05"/><circle cx="282.6" cy="270.8" r="3.05"/><circle cx="391.3" cy="267.8" r="3.05"/><circle cx="387.3" cy="272.8" r="3.05"/><circle cx="377.2" cy="274.9" r="3.05"/><circle cx="392.3" cy="276.9" r="3.05"/><circle cx="397.4" cy="277.9" r="3.05"/><circle cx="379.3" cy="294.0" r="3.05"/><circle cx="393.4" cy="301.0" r="3.05"/><circle cx="486.6" cy="157.0" r="3.05"/><circle cx="488.6" cy="161.1" r="3.05"/><circle cx="491.6" cy="165.1" r="3.05"/><circle cx="411.1" cy="162.1" r="3.05"/><circle cx="422.2" cy="163.1" r="3.05"/><circle cx="423.2" cy="167.1" r="3.05"/><circle cx="453.4" cy="162.1" r="3.05"/><circle cx="459.4" cy="167.1" r="3.05"/><circle cx="501.7" cy="167.1" r="3.05"/><circle cx="410.1" cy="170.1" r="3.05"/><circle cx="440.3" cy="169.1" r="3.05"/><circle cx="464.5" cy="172.1" r="3.05"/><circle cx="476.5" cy="173.1" r="3.05"/><circle cx="569.2" cy="174.2" r="3.05"/><circle cx="507.8" cy="180.2" r="3.05"/><circle cx="494.7" cy="184.2" r="3.05"/><circle cx="516.8" cy="185.2" r="3.05"/><circle cx="524.9" cy="188.3" r="3.05"/><circle cx="468.5" cy="185.2" r="3.05"/><circle cx="452.4" cy="188.3" r="3.05"/><circle cx="460.4" cy="188.3" r="3.05"/><circle cx="507.8" cy="194.3" r="3.05"/><circle cx="410.1" cy="193.3" r="3.05"/><circle cx="483.6" cy="197.3" r="3.05"/><circle cx="429.2" cy="199.3" r="3.05"/><circle cx="436.3" cy="199.3" r="3.05"/><circle cx="488.6" cy="204.4" r="3.05"/><circle cx="498.7" cy="205.4" r="3.05"/><circle cx="499.7" cy="209.4" r="3.05"/><circle cx="449.3" cy="207.4" r="3.05"/><circle cx="473.5" cy="205.4" r="3.05"/><circle cx="475.5" cy="209.4" r="3.05"/><circle cx="477.5" cy="213.4" r="3.05"/><circle cx="479.6" cy="216.5" r="3.05"/><circle cx="558.1" cy="210.4" r="3.05"/><circle cx="496.7" cy="215.4" r="3.05"/><circle cx="454.4" cy="216.5" r="3.05"/><circle cx="520.8" cy="218.5" r="3.05"/><circle cx="447.3" cy="224.5" r="3.05"/><circle cx="454.4" cy="229.5" r="3.05"/><circle cx="460.4" cy="225.5" r="3.05"/><circle cx="460.4" cy="229.5" r="3.05"/><circle cx="466.5" cy="230.5" r="3.05"/><circle cx="437.3" cy="226.5" r="3.05"/><circle cx="422.2" cy="229.5" r="3.05"/><circle cx="478.5" cy="228.5" r="3.05"/><circle cx="485.6" cy="231.6" r="3.05"/><circle cx="512.8" cy="226.5" r="3.05"/><circle cx="532.9" cy="228.5" r="3.05"/><circle cx="538.0" cy="229.5" r="3.05"/><circle cx="542.0" cy="231.6" r="3.05"/><circle cx="566.2" cy="227.5" r="3.05"/><circle cx="436.3" cy="234.6" r="3.05"/><circle cx="446.3" cy="235.6" r="3.05"/><circle cx="452.4" cy="239.6" r="3.05"/><circle cx="458.4" cy="241.6" r="3.05"/><circle cx="465.5" cy="237.6" r="3.05"/><circle cx="466.5" cy="241.6" r="3.05"/><circle cx="560.1" cy="238.6" r="3.05"/><circle cx="543.0" cy="241.6" r="3.05"/><circle cx="428.2" cy="241.6" r="3.05"/><circle cx="498.7" cy="246.7" r="3.05"/><circle cx="473.5" cy="249.7" r="3.05"/><circle cx="458.4" cy="248.7" r="3.05"/><circle cx="464.5" cy="250.7" r="3.05"/><circle cx="468.5" cy="254.7" r="3.05"/><circle cx="470.5" cy="257.7" r="3.05"/><circle cx="476.5" cy="260.8" r="3.05"/><circle cx="426.2" cy="249.7" r="3.05"/><circle cx="420.1" cy="251.7" r="3.05"/><circle cx="417.1" cy="255.7" r="3.05"/><circle cx="411.1" cy="258.7" r="3.05"/><circle cx="446.3" cy="250.7" r="3.05"/><circle cx="451.4" cy="251.7" r="3.05"/><circle cx="447.3" cy="255.7" r="3.05"/><circle cx="447.3" cy="258.7" r="3.05"/><circle cx="453.4" cy="258.7" r="3.05"/><circle cx="434.2" cy="255.7" r="3.05"/><circle cx="441.3" cy="260.8" r="3.05"/><circle cx="457.4" cy="261.8" r="3.05"/><circle cx="461.4" cy="264.8" r="3.05"/><circle cx="465.5" cy="267.8" r="3.05"/><circle cx="466.5" cy="270.8" r="3.05"/><circle cx="542.0" cy="251.7" r="3.05"/><circle cx="543.0" cy="257.7" r="3.05"/><circle cx="513.8" cy="255.7" r="3.05"/><circle cx="548.0" cy="260.8" r="3.05"/><circle cx="552.1" cy="264.8" r="3.05"/><circle cx="542.0" cy="264.8" r="3.05"/><circle cx="527.9" cy="261.8" r="3.05"/><circle cx="424.2" cy="265.8" r="3.05"/><circle cx="423.2" cy="270.8" r="3.05"/><circle cx="434.2" cy="265.8" r="3.05"/><circle cx="513.8" cy="270.8" r="3.05"/><circle cx="543.0" cy="269.8" r="3.05"/><circle cx="419.1" cy="274.9" r="3.05"/><circle cx="475.5" cy="274.9" r="3.05"/><circle cx="435.2" cy="276.9" r="3.05"/><circle cx="440.3" cy="276.9" r="3.05"/><circle cx="447.3" cy="277.9" r="3.05"/><circle cx="452.4" cy="279.9" r="3.05"/><circle cx="523.9" cy="279.9" r="3.05"/><circle cx="435.2" cy="284.9" r="3.05"/><circle cx="436.3" cy="290.0" r="3.05"/><circle cx="463.4" cy="285.9" r="3.05"/><circle cx="470.5" cy="289.0" r="3.05"/><circle cx="534.9" cy="292.0" r="3.05"/><circle cx="428.2" cy="295.0" r="3.05"/><circle cx="485.6" cy="294.0" r="3.05"/><circle cx="405.0" cy="294.0" r="3.05"/><circle cx="517.8" cy="300.0" r="3.05"/><circle cx="541.0" cy="302.1" r="3.05"/><circle cx="547.0" cy="302.1" r="3.05"/><circle cx="562.1" cy="304.1" r="3.05"/><circle cx="575.2" cy="301.0" r="3.05"/><circle cx="465.5" cy="303.1" r="3.05"/><circle cx="417.1" cy="303.1" r="3.05"/><circle cx="586.3" cy="295.0" r="3.05"/><circle cx="599.4" cy="290.0" r="3.05"/><circle cx="630.2" cy="264.8" r="3.05"/><circle cx="621.1" cy="274.9" r="3.05"/><circle cx="639.3" cy="304.1" r="3.05"/><circle cx="396.4" cy="305.0" r="3.05"/><circle cx="371.2" cy="320.1" r="3.05"/><circle cx="397.4" cy="320.1" r="3.05"/><circle cx="380.3" cy="326.2" r="3.05"/><circle cx="390.3" cy="333.2" r="3.05"/><circle cx="351.1" cy="340.3" r="3.05"/><circle cx="393.4" cy="352.3" r="3.05"/><circle cx="397.4" cy="358.4" r="3.05"/><circle cx="399.4" cy="362.4" r="3.05"/><circle cx="361.1" cy="360.4" r="3.05"/><circle cx="385.3" cy="362.4" r="3.05"/><circle cx="396.4" cy="370.5" r="3.05"/><circle cx="372.2" cy="389.6" r="3.05"/><circle cx="274.5" cy="392.6" r="3.05"/><circle cx="382.3" cy="432.9" r="3.05"/><circle cx="381.3" cy="440.0" r="3.05"/><circle cx="395.4" cy="447.0" r="3.05"/><circle cx="461.4" cy="306.0" r="3.05"/><circle cx="460.4" cy="310.0" r="3.05"/><circle cx="450.4" cy="310.0" r="3.05"/><circle cx="459.4" cy="315.1" r="3.05"/><circle cx="441.3" cy="316.1" r="3.05"/><circle cx="483.6" cy="316.1" r="3.05"/><circle cx="499.7" cy="316.1" r="3.05"/><circle cx="433.2" cy="322.1" r="3.05"/><circle cx="496.7" cy="322.1" r="3.05"/><circle cx="493.7" cy="325.1" r="3.05"/><circle cx="528.9" cy="314.1" r="3.05"/><circle cx="533.9" cy="315.1" r="3.05"/><circle cx="545.0" cy="312.1" r="3.05"/><circle cx="545.0" cy="316.1" r="3.05"/><circle cx="558.1" cy="308.0" r="3.05"/><circle cx="569.2" cy="312.1" r="3.05"/><circle cx="575.2" cy="313.1" r="3.05"/><circle cx="590.3" cy="312.1" r="3.05"/><circle cx="584.3" cy="314.1" r="3.05"/><circle cx="588.3" cy="324.1" r="3.05"/><circle cx="579.3" cy="327.2" r="3.05"/><circle cx="471.5" cy="328.2" r="3.05"/><circle cx="422.2" cy="328.2" r="3.05"/><circle cx="471.5" cy="334.2" r="3.05"/><circle cx="476.5" cy="337.2" r="3.05"/><circle cx="486.6" cy="333.2" r="3.05"/><circle cx="491.6" cy="332.2" r="3.05"/><circle cx="578.2" cy="333.2" r="3.05"/><circle cx="558.1" cy="337.2" r="3.05"/><circle cx="567.2" cy="336.2" r="3.05"/><circle cx="563.1" cy="342.3" r="3.05"/><circle cx="506.7" cy="340.3" r="3.05"/><circle cx="405.0" cy="341.3" r="3.05"/><circle cx="422.2" cy="341.3" r="3.05"/><circle cx="421.1" cy="345.3" r="3.05"/><circle cx="599.4" cy="343.3" r="3.05"/><circle cx="498.7" cy="348.3" r="3.05"/><circle cx="490.6" cy="350.3" r="3.05"/><circle cx="489.6" cy="355.4" r="3.05"/><circle cx="509.8" cy="349.3" r="3.05"/><circle cx="508.8" cy="354.4" r="3.05"/><circle cx="464.5" cy="363.4" r="3.05"/><circle cx="440.3" cy="362.4" r="3.05"/><circle cx="506.7" cy="364.4" r="3.05"/><circle cx="512.8" cy="363.4" r="3.05"/><circle cx="528.9" cy="367.4" r="3.05"/><circle cx="533.9" cy="368.5" r="3.05"/><circle cx="569.2" cy="366.4" r="3.05"/><circle cx="448.3" cy="373.5" r="3.05"/><circle cx="452.4" cy="379.5" r="3.05"/><circle cx="406.0" cy="378.5" r="3.05"/><circle cx="411.1" cy="381.5" r="3.05"/><circle cx="472.5" cy="376.5" r="3.05"/><circle cx="500.7" cy="376.5" r="3.05"/><circle cx="512.8" cy="375.5" r="3.05"/><circle cx="543.0" cy="377.5" r="3.05"/><circle cx="543.0" cy="382.5" r="3.05"/><circle cx="537.0" cy="383.6" r="3.05"/><circle cx="534.9" cy="387.6" r="3.05"/><circle cx="566.2" cy="384.6" r="3.05"/><circle cx="567.2" cy="388.6" r="3.05"/><circle cx="564.1" cy="392.6" r="3.05"/><circle cx="574.2" cy="384.6" r="3.05"/><circle cx="427.2" cy="387.6" r="3.05"/><circle cx="416.1" cy="389.6" r="3.05"/><circle cx="578.2" cy="392.6" r="3.05"/><circle cx="470.5" cy="393.6" r="3.05"/><circle cx="476.5" cy="395.6" r="3.05"/><circle cx="489.6" cy="396.6" r="3.05"/><circle cx="508.8" cy="393.6" r="3.05"/><circle cx="531.9" cy="394.6" r="3.05"/><circle cx="538.0" cy="397.7" r="3.05"/><circle cx="546.0" cy="396.6" r="3.05"/><circle cx="454.4" cy="398.7" r="3.05"/><circle cx="500.7" cy="400.7" r="3.05"/><circle cx="476.5" cy="402.7" r="3.05"/><circle cx="482.6" cy="403.7" r="3.05"/><circle cx="524.9" cy="398.7" r="3.05"/><circle cx="529.9" cy="400.7" r="3.05"/><circle cx="533.9" cy="403.7" r="3.05"/><circle cx="539.0" cy="406.7" r="3.05"/><circle cx="542.0" cy="410.7" r="3.05"/><circle cx="537.0" cy="409.7" r="3.05"/><circle cx="553.1" cy="402.7" r="3.05"/><circle cx="560.1" cy="399.7" r="3.05"/><circle cx="582.3" cy="404.7" r="3.05"/><circle cx="585.3" cy="408.7" r="3.05"/><circle cx="518.8" cy="406.7" r="3.05"/><circle cx="406.0" cy="403.7" r="3.05"/><circle cx="431.2" cy="407.7" r="3.05"/><circle cx="446.3" cy="408.7" r="3.05"/><circle cx="458.4" cy="410.7" r="3.05"/><circle cx="464.5" cy="408.7" r="3.05"/><circle cx="480.6" cy="409.7" r="3.05"/><circle cx="496.7" cy="410.7" r="3.05"/><circle cx="494.7" cy="414.8" r="3.05"/><circle cx="488.6" cy="415.8" r="3.05"/><circle cx="534.9" cy="415.8" r="3.05"/><circle cx="541.0" cy="418.8" r="3.05"/><circle cx="511.8" cy="417.8" r="3.05"/><circle cx="514.8" cy="420.8" r="3.05"/><circle cx="556.1" cy="417.8" r="3.05"/><circle cx="482.6" cy="422.8" r="3.05"/><circle cx="525.9" cy="425.9" r="3.05"/><circle cx="556.1" cy="426.9" r="3.05"/><circle cx="452.4" cy="424.8" r="3.05"/><circle cx="447.3" cy="427.9" r="3.05"/><circle cx="440.3" cy="431.9" r="3.05"/><circle cx="412.1" cy="425.9" r="3.05"/><circle cx="470.5" cy="424.8" r="3.05"/><circle cx="510.8" cy="429.9" r="3.05"/><circle cx="513.8" cy="433.9" r="3.05"/><circle cx="536.0" cy="433.9" r="3.05"/><circle cx="540.0" cy="431.9" r="3.05"/><circle cx="543.0" cy="436.9" r="3.05"/><circle cx="530.9" cy="437.9" r="3.05"/><circle cx="564.1" cy="437.9" r="3.05"/><circle cx="494.7" cy="434.9" r="3.05"/><circle cx="500.7" cy="435.9" r="3.05"/><circle cx="476.5" cy="437.9" r="3.05"/><circle cx="478.5" cy="443.0" r="3.05"/><circle cx="463.4" cy="440.0" r="3.05"/><circle cx="458.4" cy="445.0" r="3.05"/><circle cx="465.5" cy="446.0" r="3.05"/><circle cx="486.6" cy="442.0" r="3.05"/><circle cx="493.7" cy="441.0" r="3.05"/><circle cx="408.1" cy="444.0" r="3.05"/><circle cx="405.0" cy="448.0" r="3.05"/><circle cx="483.6" cy="449.0" r="3.05"/><circle cx="523.9" cy="446.0" r="3.05"/><circle cx="529.9" cy="447.0" r="3.05"/><circle cx="538.0" cy="449.0" r="3.05"/><circle cx="549.0" cy="447.0" r="3.05"/><circle cx="563.1" cy="446.0" r="3.05"/><circle cx="558.1" cy="449.0" r="3.05"/><circle cx="416.1" cy="453.0" r="3.05"/><circle cx="435.2" cy="454.1" r="3.05"/><circle cx="453.4" cy="453.0" r="3.05"/><circle cx="464.5" cy="453.0" r="3.05"/><circle cx="495.7" cy="454.1" r="3.05"/><circle cx="517.8" cy="454.1" r="3.05"/><circle cx="544.0" cy="454.1" r="3.05"/><circle cx="559.1" cy="454.1" r="3.05"/><circle cx="631.2" cy="328.2" r="3.05"/><circle cx="611.1" cy="334.2" r="3.05"/><circle cx="618.1" cy="334.2" r="3.05"/><circle cx="647.3" cy="344.3" r="3.05"/><circle cx="663.4" cy="337.2" r="3.05"/><circle cx="668.5" cy="336.2" r="3.05"/><circle cx="668.5" cy="347.3" r="3.05"/><circle cx="667.5" cy="351.3" r="3.05"/><circle cx="639.3" cy="353.3" r="3.05"/><circle cx="631.2" cy="357.4" r="3.05"/><circle cx="654.4" cy="354.4" r="3.05"/><circle cx="657.4" cy="360.4" r="3.05"/><circle cx="661.4" cy="353.3" r="3.05"/><circle cx="662.4" cy="357.4" r="3.05"/><circle cx="665.5" cy="361.4" r="3.05"/><circle cx="671.5" cy="357.4" r="3.05"/><circle cx="646.3" cy="361.4" r="3.05"/><circle cx="645.3" cy="363.4" r="3.05"/><circle cx="616.1" cy="365.4" r="3.05"/><circle cx="659.4" cy="369.5" r="3.05"/><circle cx="638.3" cy="373.5" r="3.05"/><circle cx="637.3" cy="377.5" r="3.05"/><circle cx="646.3" cy="374.5" r="3.05"/><circle cx="636.3" cy="388.6" r="3.05"/><circle cx="634.2" cy="393.6" r="3.05"/><circle cx="643.3" cy="399.7" r="3.05"/><circle cx="666.5" cy="397.7" r="3.05"/><circle cx="668.5" cy="404.7" r="3.05"/><circle cx="624.2" cy="420.8" r="3.05"/><circle cx="375.2" cy="460.0" r="3.05"/><circle cx="373.2" cy="464.1" r="3.05"/><circle cx="362.1" cy="465.1" r="3.05"/><circle cx="343.0" cy="468.1" r="3.05"/><circle cx="347.0" cy="472.1" r="3.05"/><circle cx="316.8" cy="478.2" r="3.05"/><circle cx="363.1" cy="480.2" r="3.05"/><circle cx="347.0" cy="485.2" r="3.05"/><circle cx="282.6" cy="503.3" r="3.05"/><circle cx="324.9" cy="505.3" r="3.05"/><circle cx="261.4" cy="513.4" r="3.05"/><circle cx="345.0" cy="512.4" r="3.05"/><circle cx="308.8" cy="517.4" r="3.05"/><circle cx="259.4" cy="521.5" r="3.05"/><circle cx="369.2" cy="515.4" r="3.05"/><circle cx="312.8" cy="527.5" r="3.05"/><circle cx="399.4" cy="526.5" r="3.05"/><circle cx="333.9" cy="535.6" r="3.05"/><circle cx="272.5" cy="545.6" r="3.05"/><circle cx="283.6" cy="549.7" r="3.05"/><circle cx="364.1" cy="542.6" r="3.05"/><circle cx="349.0" cy="550.7" r="3.05"/><circle cx="399.4" cy="559.7" r="3.05"/><circle cx="376.2" cy="588.9" r="3.05"/><circle cx="382.3" cy="593.0" r="3.05"/><circle cx="399.4" cy="587.9" r="3.05"/><circle cx="394.4" cy="602.0" r="3.05"/><circle cx="394.4" cy="607.1" r="3.05"/><circle cx="326.9" cy="607.1" r="3.05"/><circle cx="433.2" cy="457.0" r="3.05"/><circle cx="451.4" cy="458.0" r="3.05"/><circle cx="495.7" cy="457.0" r="3.05"/><circle cx="512.8" cy="460.0" r="3.05"/><circle cx="524.9" cy="459.0" r="3.05"/><circle cx="531.9" cy="460.0" r="3.05"/><circle cx="552.1" cy="459.0" r="3.05"/><circle cx="559.1" cy="457.0" r="3.05"/><circle cx="596.4" cy="459.0" r="3.05"/><circle cx="417.1" cy="464.1" r="3.05"/><circle cx="427.2" cy="463.0" r="3.05"/><circle cx="477.5" cy="461.0" r="3.05"/><circle cx="505.7" cy="465.1" r="3.05"/><circle cx="524.9" cy="465.1" r="3.05"/><circle cx="528.9" cy="467.1" r="3.05"/><circle cx="534.9" cy="466.1" r="3.05"/><circle cx="568.2" cy="465.1" r="3.05"/><circle cx="575.2" cy="465.1" r="3.05"/><circle cx="579.3" cy="462.0" r="3.05"/><circle cx="584.3" cy="461.0" r="3.05"/><circle cx="588.3" cy="464.1" r="3.05"/><circle cx="591.3" cy="468.1" r="3.05"/><circle cx="586.3" cy="469.1" r="3.05"/><circle cx="571.2" cy="471.1" r="3.05"/><circle cx="568.2" cy="474.1" r="3.05"/><circle cx="440.3" cy="468.1" r="3.05"/><circle cx="434.2" cy="470.1" r="3.05"/><circle cx="442.3" cy="472.1" r="3.05"/><circle cx="418.1" cy="472.1" r="3.05"/><circle cx="457.4" cy="469.1" r="3.05"/><circle cx="453.4" cy="473.1" r="3.05"/><circle cx="517.8" cy="470.1" r="3.05"/><circle cx="489.6" cy="472.1" r="3.05"/><circle cx="496.7" cy="471.1" r="3.05"/><circle cx="468.5" cy="475.1" r="3.05"/><circle cx="489.6" cy="477.1" r="3.05"/><circle cx="496.7" cy="478.2" r="3.05"/><circle cx="506.7" cy="475.1" r="3.05"/><circle cx="506.7" cy="479.2" r="3.05"/><circle cx="555.1" cy="477.1" r="3.05"/><circle cx="530.9" cy="478.2" r="3.05"/><circle cx="525.9" cy="480.2" r="3.05"/><circle cx="524.9" cy="484.2" r="3.05"/><circle cx="539.0" cy="479.2" r="3.05"/><circle cx="538.0" cy="485.2" r="3.05"/><circle cx="547.0" cy="480.2" r="3.05"/><circle cx="511.8" cy="483.2" r="3.05"/><circle cx="487.6" cy="484.2" r="3.05"/><circle cx="478.5" cy="485.2" r="3.05"/><circle cx="471.5" cy="489.2" r="3.05"/><circle cx="447.3" cy="488.2" r="3.05"/><circle cx="518.8" cy="489.2" r="3.05"/><circle cx="527.9" cy="492.3" r="3.05"/><circle cx="537.0" cy="491.2" r="3.05"/><circle cx="559.1" cy="489.2" r="3.05"/><circle cx="567.2" cy="488.2" r="3.05"/><circle cx="572.2" cy="490.2" r="3.05"/><circle cx="576.2" cy="484.2" r="3.05"/><circle cx="584.3" cy="486.2" r="3.05"/><circle cx="585.3" cy="493.3" r="3.05"/><circle cx="589.3" cy="498.3" r="3.05"/><circle cx="405.0" cy="493.3" r="3.05"/><circle cx="446.3" cy="494.3" r="3.05"/><circle cx="444.3" cy="497.3" r="3.05"/><circle cx="451.4" cy="501.3" r="3.05"/><circle cx="481.6" cy="494.3" r="3.05"/><circle cx="500.7" cy="495.3" r="3.05"/><circle cx="506.7" cy="495.3" r="3.05"/><circle cx="510.8" cy="498.3" r="3.05"/><circle cx="476.5" cy="501.3" r="3.05"/><circle cx="434.2" cy="503.3" r="3.05"/><circle cx="540.0" cy="498.3" r="3.05"/><circle cx="545.0" cy="500.3" r="3.05"/><circle cx="553.1" cy="504.3" r="3.05"/><circle cx="518.8" cy="505.3" r="3.05"/><circle cx="566.2" cy="505.3" r="3.05"/><circle cx="564.1" cy="510.4" r="3.05"/><circle cx="573.2" cy="508.4" r="3.05"/><circle cx="584.3" cy="509.4" r="3.05"/><circle cx="590.3" cy="512.4" r="3.05"/><circle cx="599.4" cy="505.3" r="3.05"/><circle cx="428.2" cy="506.4" r="3.05"/><circle cx="433.2" cy="511.4" r="3.05"/><circle cx="448.3" cy="511.4" r="3.05"/><circle cx="459.4" cy="510.4" r="3.05"/><circle cx="480.6" cy="512.4" r="3.05"/><circle cx="504.7" cy="513.4" r="3.05"/><circle cx="549.0" cy="512.4" r="3.05"/><circle cx="512.8" cy="515.4" r="3.05"/><circle cx="510.8" cy="519.4" r="3.05"/><circle cx="525.9" cy="516.4" r="3.05"/><circle cx="528.9" cy="520.5" r="3.05"/><circle cx="560.1" cy="515.4" r="3.05"/><circle cx="561.1" cy="520.5" r="3.05"/><circle cx="556.1" cy="520.5" r="3.05"/><circle cx="473.5" cy="520.5" r="3.05"/><circle cx="478.5" cy="520.5" r="3.05"/><circle cx="483.6" cy="521.5" r="3.05"/><circle cx="488.6" cy="520.5" r="3.05"/><circle cx="498.7" cy="520.5" r="3.05"/><circle cx="504.7" cy="520.5" r="3.05"/><circle cx="504.7" cy="525.5" r="3.05"/><circle cx="573.2" cy="521.5" r="3.05"/><circle cx="594.4" cy="522.5" r="3.05"/><circle cx="416.1" cy="520.5" r="3.05"/><circle cx="416.1" cy="528.5" r="3.05"/><circle cx="462.4" cy="527.5" r="3.05"/><circle cx="477.5" cy="528.5" r="3.05"/><circle cx="477.5" cy="533.5" r="3.05"/><circle cx="491.6" cy="526.5" r="3.05"/><circle cx="495.7" cy="529.5" r="3.05"/><circle cx="532.9" cy="527.5" r="3.05"/><circle cx="543.0" cy="522.5" r="3.05"/><circle cx="553.1" cy="526.5" r="3.05"/><circle cx="559.1" cy="531.5" r="3.05"/><circle cx="582.3" cy="527.5" r="3.05"/><circle cx="587.3" cy="527.5" r="3.05"/><circle cx="596.4" cy="533.5" r="3.05"/><circle cx="429.2" cy="535.6" r="3.05"/><circle cx="488.6" cy="534.5" r="3.05"/><circle cx="412.1" cy="539.6" r="3.05"/><circle cx="567.2" cy="536.6" r="3.05"/><circle cx="563.1" cy="539.6" r="3.05"/><circle cx="559.1" cy="542.6" r="3.05"/><circle cx="575.2" cy="534.5" r="3.05"/><circle cx="578.2" cy="538.6" r="3.05"/><circle cx="526.9" cy="539.6" r="3.05"/><circle cx="589.3" cy="542.6" r="3.05"/><circle cx="485.6" cy="547.6" r="3.05"/><circle cx="405.0" cy="551.7" r="3.05"/><circle cx="414.1" cy="555.7" r="3.05"/><circle cx="424.2" cy="554.7" r="3.05"/><circle cx="438.3" cy="557.7" r="3.05"/><circle cx="540.0" cy="551.7" r="3.05"/><circle cx="554.1" cy="553.7" r="3.05"/><circle cx="585.3" cy="551.7" r="3.05"/><circle cx="525.9" cy="555.7" r="3.05"/><circle cx="517.8" cy="556.7" r="3.05"/><circle cx="593.4" cy="555.7" r="3.05"/><circle cx="571.2" cy="559.7" r="3.05"/><circle cx="567.2" cy="561.7" r="3.05"/><circle cx="597.4" cy="562.7" r="3.05"/><circle cx="428.2" cy="563.8" r="3.05"/><circle cx="481.6" cy="561.7" r="3.05"/><circle cx="477.5" cy="564.8" r="3.05"/><circle cx="552.1" cy="562.7" r="3.05"/><circle cx="553.1" cy="566.8" r="3.05"/><circle cx="528.9" cy="564.8" r="3.05"/><circle cx="561.1" cy="566.8" r="3.05"/><circle cx="417.1" cy="566.8" r="3.05"/><circle cx="467.5" cy="568.8" r="3.05"/><circle cx="407.0" cy="569.8" r="3.05"/><circle cx="430.2" cy="571.8" r="3.05"/><circle cx="402.0" cy="572.8" r="3.05"/><circle cx="574.2" cy="570.8" r="3.05"/><circle cx="539.0" cy="574.8" r="3.05"/><circle cx="561.1" cy="574.8" r="3.05"/><circle cx="510.8" cy="576.8" r="3.05"/><circle cx="493.7" cy="579.9" r="3.05"/><circle cx="500.7" cy="578.9" r="3.05"/><circle cx="497.7" cy="583.9" r="3.05"/><circle cx="455.4" cy="581.9" r="3.05"/><circle cx="529.9" cy="580.9" r="3.05"/><circle cx="418.1" cy="584.9" r="3.05"/><circle cx="473.5" cy="585.9" r="3.05"/><circle cx="457.4" cy="588.9" r="3.05"/><circle cx="452.4" cy="592.0" r="3.05"/><circle cx="467.5" cy="592.0" r="3.05"/><circle cx="430.2" cy="596.0" r="3.05"/><circle cx="472.5" cy="597.0" r="3.05"/><circle cx="488.6" cy="598.0" r="3.05"/><circle cx="490.6" cy="602.0" r="3.05"/><circle cx="455.4" cy="599.0" r="3.05"/><circle cx="461.4" cy="602.0" r="3.05"/><circle cx="407.0" cy="602.0" r="3.05"/><circle cx="430.2" cy="603.0" r="3.05"/><circle cx="483.6" cy="604.0" r="3.05"/><circle cx="636.3" cy="473.1" r="3.05"/><circle cx="636.3" cy="479.2" r="3.05"/><circle cx="605.0" cy="479.2" r="3.05"/><circle cx="609.1" cy="484.2" r="3.05"/><circle cx="633.2" cy="489.2" r="3.05"/><circle cx="630.2" cy="495.3" r="3.05"/><circle cx="618.1" cy="491.2" r="3.05"/><circle cx="611.1" cy="494.3" r="3.05"/><circle cx="609.1" cy="499.3" r="3.05"/><circle cx="624.2" cy="504.3" r="3.05"/><circle cx="611.1" cy="510.4" r="3.05"/><circle cx="618.1" cy="511.4" r="3.05"/><circle cx="613.1" cy="515.4" r="3.05"/><circle cx="612.1" cy="518.4" r="3.05"/><circle cx="623.2" cy="516.4" r="3.05"/><circle cx="624.2" cy="520.5" r="3.05"/><circle cx="604.0" cy="525.5" r="3.05"/><circle cx="609.1" cy="529.5" r="3.05"/><circle cx="620.1" cy="529.5" r="3.05"/><circle cx="621.1" cy="532.5" r="3.05"/><circle cx="600.0" cy="533.5" r="3.05"/><circle cx="603.0" cy="537.6" r="3.05"/><circle cx="607.0" cy="540.6" r="3.05"/><circle cx="613.1" cy="539.6" r="3.05"/><circle cx="618.1" cy="539.6" r="3.05"/><circle cx="606.0" cy="545.6" r="3.05"/><circle cx="608.1" cy="548.6" r="3.05"/><circle cx="613.1" cy="551.7" r="3.05"/><circle cx="618.1" cy="551.7" r="3.05"/><circle cx="382.3" cy="611.0" r="3.05"/><circle cx="398.4" cy="611.0" r="3.05"/><circle cx="386.3" cy="624.1" r="3.05"/><circle cx="363.1" cy="638.2" r="3.05"/><circle cx="362.1" cy="644.3" r="3.05"/><circle cx="393.4" cy="641.2" r="3.05"/><circle cx="400.0" cy="614.0" r="3.05"/><circle cx="466.5" cy="608.0" r="3.05"/><circle cx="484.6" cy="608.0" r="3.05"/><circle cx="422.2" cy="619.1" r="3.05"/><circle cx="438.3" cy="614.0" r="3.05"/><circle cx="438.3" cy="618.1" r="3.05"/><circle cx="459.4" cy="623.1" r="3.05"/><circle cx="463.4" cy="621.1" r="3.05"/><circle cx="460.4" cy="626.1" r="3.05"/><circle cx="493.7" cy="623.1" r="3.05"/><circle cx="407.0" cy="629.1" r="3.05"/><circle cx="412.1" cy="628.1" r="3.05"/><circle cx="470.5" cy="630.2" r="3.05"/><circle cx="473.5" cy="633.2" r="3.05"/><circle cx="474.5" cy="638.2" r="3.05"/><circle cx="435.2" cy="637.2" r="3.05"/><circle cx="453.4" cy="637.2" r="3.05"/><circle cx="418.1" cy="650.3" r="3.05"/></g>
<g fill="#ee6e6d"><circle cx="100.4" cy="133.2" r="3.05"/><circle cx="105.4" cy="132.2" r="3.05"/><circle cx="126.5" cy="134.2" r="3.05"/><circle cx="162.8" cy="136.3" r="3.05"/><circle cx="84.2" cy="142.3" r="3.05"/><circle cx="87.3" cy="144.3" r="3.05"/><circle cx="137.6" cy="145.3" r="3.05"/><circle cx="152.7" cy="143.3" r="3.05"/><circle cx="150.7" cy="145.3" r="3.05"/><circle cx="89.3" cy="151.4" r="3.05"/><circle cx="99.3" cy="148.3" r="3.05"/><circle cx="100.4" cy="151.4" r="3.05"/><circle cx="109.4" cy="154.4" r="3.05"/><circle cx="119.5" cy="154.4" r="3.05"/><circle cx="124.5" cy="151.4" r="3.05"/><circle cx="143.7" cy="155.4" r="3.05"/><circle cx="145.7" cy="157.4" r="3.05"/><circle cx="87.3" cy="158.4" r="3.05"/><circle cx="91.3" cy="158.4" r="3.05"/><circle cx="96.3" cy="157.4" r="3.05"/><circle cx="130.6" cy="158.4" r="3.05"/><circle cx="140.6" cy="159.4" r="3.05"/><circle cx="140.6" cy="163.4" r="3.05"/><circle cx="84.2" cy="164.5" r="3.05"/><circle cx="81.2" cy="166.5" r="3.05"/><circle cx="105.4" cy="161.4" r="3.05"/><circle cx="103.4" cy="165.5" r="3.05"/><circle cx="123.5" cy="163.4" r="3.05"/><circle cx="129.6" cy="164.5" r="3.05"/><circle cx="111.4" cy="166.5" r="3.05"/><circle cx="98.3" cy="169.5" r="3.05"/><circle cx="112.4" cy="169.5" r="3.05"/><circle cx="119.5" cy="169.5" r="3.05"/><circle cx="134.6" cy="170.5" r="3.05"/><circle cx="139.6" cy="169.5" r="3.05"/><circle cx="145.7" cy="171.5" r="3.05"/><circle cx="150.7" cy="169.5" r="3.05"/><circle cx="101.4" cy="174.5" r="3.05"/><circle cx="113.4" cy="174.5" r="3.05"/><circle cx="122.5" cy="173.5" r="3.05"/><circle cx="124.5" cy="176.5" r="3.05"/><circle cx="97.3" cy="180.6" r="3.05"/><circle cx="110.4" cy="177.5" r="3.05"/><circle cx="112.4" cy="182.6" r="3.05"/><circle cx="106.4" cy="183.6" r="3.05"/><circle cx="125.5" cy="181.6" r="3.05"/><circle cx="125.5" cy="185.6" r="3.05"/><circle cx="136.6" cy="182.6" r="3.05"/><circle cx="142.6" cy="186.6" r="3.05"/><circle cx="77.2" cy="184.6" r="3.05"/><circle cx="76.2" cy="194.7" r="3.05"/><circle cx="80.2" cy="194.7" r="3.05"/><circle cx="92.3" cy="193.7" r="3.05"/><circle cx="96.3" cy="197.7" r="3.05"/><circle cx="105.4" cy="194.7" r="3.05"/><circle cx="105.4" cy="199.7" r="3.05"/><circle cx="114.5" cy="192.6" r="3.05"/><circle cx="118.5" cy="192.6" r="3.05"/><circle cx="125.5" cy="195.7" r="3.05"/><circle cx="128.5" cy="197.7" r="3.05"/><circle cx="138.6" cy="194.7" r="3.05"/><circle cx="143.7" cy="197.7" r="3.05"/><circle cx="136.6" cy="200.7" r="3.05"/><circle cx="85.2" cy="204.7" r="3.05"/><circle cx="90.3" cy="206.7" r="3.05"/><circle cx="93.3" cy="209.8" r="3.05"/><circle cx="116.5" cy="203.7" r="3.05"/><circle cx="108.4" cy="208.8" r="3.05"/><circle cx="127.5" cy="203.7" r="3.05"/><circle cx="133.6" cy="205.7" r="3.05"/><circle cx="126.5" cy="208.8" r="3.05"/><circle cx="135.6" cy="211.8" r="3.05"/><circle cx="148.7" cy="207.8" r="3.05"/><circle cx="161.8" cy="209.8" r="3.05"/><circle cx="150.7" cy="217.8" r="3.05"/><circle cx="169.8" cy="215.8" r="3.05"/><circle cx="171.9" cy="219.8" r="3.05"/><circle cx="172.9" cy="223.9" r="3.05"/><circle cx="90.3" cy="217.8" r="3.05"/><circle cx="96.3" cy="219.8" r="3.05"/><circle cx="123.5" cy="215.8" r="3.05"/><circle cx="124.5" cy="219.8" r="3.05"/><circle cx="120.5" cy="222.9" r="3.05"/><circle cx="97.3" cy="228.9" r="3.05"/><circle cx="128.5" cy="226.9" r="3.05"/><circle cx="137.6" cy="226.9" r="3.05"/><circle cx="144.7" cy="230.9" r="3.05"/><circle cx="161.8" cy="227.9" r="3.05"/><circle cx="117.5" cy="232.9" r="3.05"/><circle cx="117.5" cy="237.0" r="3.05"/><circle cx="130.6" cy="236.0" r="3.05"/><circle cx="127.5" cy="240.0" r="3.05"/><circle cx="386.3" cy="16.1" r="3.05"/><circle cx="387.3" cy="19.1" r="3.05"/><circle cx="385.3" cy="23.2" r="3.05"/><circle cx="382.3" cy="26.2" r="3.05"/><circle cx="380.3" cy="29.2" r="3.05"/><circle cx="399.4" cy="18.1" r="3.05"/><circle cx="397.4" cy="33.2" r="3.05"/><circle cx="368.2" cy="35.2" r="3.05"/><circle cx="370.2" cy="38.3" r="3.05"/><circle cx="372.2" cy="40.3" r="3.05"/><circle cx="381.3" cy="35.2" r="3.05"/><circle cx="384.3" cy="39.3" r="3.05"/><circle cx="385.3" cy="44.3" r="3.05"/><circle cx="309.8" cy="56.4" r="3.05"/><circle cx="333.9" cy="58.4" r="3.05"/><circle cx="333.9" cy="62.4" r="3.05"/><circle cx="334.9" cy="66.5" r="3.05"/><circle cx="336.0" cy="69.5" r="3.05"/><circle cx="364.1" cy="60.4" r="3.05"/><circle cx="387.3" cy="58.4" r="3.05"/><circle cx="392.3" cy="57.4" r="3.05"/><circle cx="399.4" cy="55.4" r="3.05"/><circle cx="399.4" cy="60.4" r="3.05"/><circle cx="317.8" cy="70.5" r="3.05"/><circle cx="321.9" cy="72.5" r="3.05"/><circle cx="317.8" cy="76.5" r="3.05"/><circle cx="352.1" cy="74.5" r="3.05"/><circle cx="396.4" cy="69.5" r="3.05"/><circle cx="399.4" cy="72.5" r="3.05"/><circle cx="374.2" cy="78.5" r="3.05"/><circle cx="382.3" cy="78.5" r="3.05"/><circle cx="348.0" cy="82.6" r="3.05"/><circle cx="356.1" cy="86.6" r="3.05"/><circle cx="325.9" cy="88.6" r="3.05"/><circle cx="328.9" cy="85.6" r="3.05"/><circle cx="332.9" cy="83.6" r="3.05"/><circle cx="338.0" cy="82.6" r="3.05"/><circle cx="339.0" cy="86.6" r="3.05"/><circle cx="340.0" cy="90.6" r="3.05"/><circle cx="395.4" cy="82.6" r="3.05"/><circle cx="393.4" cy="86.6" r="3.05"/><circle cx="377.2" cy="86.6" r="3.05"/><circle cx="281.6" cy="95.7" r="3.05"/><circle cx="285.6" cy="96.7" r="3.05"/><circle cx="315.8" cy="95.7" r="3.05"/><circle cx="316.8" cy="99.7" r="3.05"/><circle cx="363.1" cy="97.7" r="3.05"/><circle cx="379.3" cy="95.7" r="3.05"/><circle cx="339.0" cy="105.7" r="3.05"/><circle cx="339.0" cy="110.8" r="3.05"/><circle cx="340.0" cy="114.8" r="3.05"/><circle cx="358.1" cy="105.7" r="3.05"/><circle cx="349.0" cy="114.8" r="3.05"/><circle cx="370.2" cy="109.8" r="3.05"/><circle cx="371.2" cy="113.8" r="3.05"/><circle cx="372.2" cy="117.8" r="3.05"/><circle cx="380.3" cy="110.8" r="3.05"/><circle cx="386.3" cy="116.8" r="3.05"/><circle cx="392.3" cy="113.8" r="3.05"/><circle cx="301.7" cy="118.8" r="3.05"/><circle cx="321.9" cy="117.8" r="3.05"/><circle cx="332.9" cy="122.9" r="3.05"/><circle cx="380.3" cy="122.9" r="3.05"/><circle cx="381.3" cy="126.9" r="3.05"/><circle cx="367.2" cy="127.9" r="3.05"/><circle cx="362.1" cy="134.9" r="3.05"/><circle cx="323.9" cy="133.9" r="3.05"/><circle cx="322.9" cy="138.0" r="3.05"/><circle cx="316.8" cy="142.0" r="3.05"/><circle cx="339.0" cy="142.0" r="3.05"/><circle cx="346.0" cy="143.0" r="3.05"/><circle cx="306.7" cy="146.0" r="3.05"/><circle cx="369.2" cy="140.0" r="3.05"/><circle cx="366.2" cy="143.0" r="3.05"/><circle cx="380.3" cy="140.0" r="3.05"/><circle cx="385.3" cy="145.0" r="3.05"/><circle cx="339.0" cy="149.0" r="3.05"/><circle cx="375.2" cy="149.0" r="3.05"/><circle cx="294.7" cy="152.1" r="3.05"/><circle cx="408.1" cy="3.0" r="3.05"/><circle cx="424.2" cy="2.0" r="3.05"/><circle cx="443.3" cy="3.0" r="3.05"/><circle cx="403.0" cy="15.1" r="3.05"/><circle cx="404.0" cy="19.1" r="3.05"/><circle cx="407.0" cy="22.2" r="3.05"/><circle cx="409.1" cy="25.2" r="3.05"/><circle cx="457.4" cy="16.1" r="3.05"/><circle cx="483.6" cy="13.1" r="3.05"/><circle cx="487.6" cy="15.1" r="3.05"/><circle cx="471.5" cy="21.1" r="3.05"/><circle cx="434.2" cy="25.2" r="3.05"/><circle cx="436.3" cy="28.2" r="3.05"/><circle cx="439.3" cy="31.2" r="3.05"/><circle cx="442.3" cy="33.2" r="3.05"/><circle cx="400.0" cy="33.2" r="3.05"/><circle cx="468.5" cy="31.2" r="3.05"/><circle cx="465.5" cy="34.2" r="3.05"/><circle cx="463.4" cy="37.3" r="3.05"/><circle cx="413.1" cy="38.3" r="3.05"/><circle cx="412.1" cy="44.3" r="3.05"/><circle cx="435.2" cy="42.3" r="3.05"/><circle cx="453.4" cy="43.3" r="3.05"/><circle cx="472.5" cy="39.3" r="3.05"/><circle cx="481.6" cy="39.3" r="3.05"/><circle cx="508.8" cy="41.3" r="3.05"/><circle cx="497.7" cy="47.3" r="3.05"/><circle cx="496.7" cy="51.4" r="3.05"/><circle cx="414.1" cy="51.4" r="3.05"/><circle cx="528.9" cy="51.4" r="3.05"/><circle cx="402.0" cy="59.4" r="3.05"/><circle cx="406.0" cy="62.4" r="3.05"/><circle cx="410.1" cy="64.5" r="3.05"/><circle cx="413.1" cy="65.5" r="3.05"/><circle cx="444.3" cy="63.4" r="3.05"/><circle cx="447.3" cy="66.5" r="3.05"/><circle cx="450.4" cy="69.5" r="3.05"/><circle cx="452.4" cy="71.5" r="3.05"/><circle cx="487.6" cy="62.4" r="3.05"/><circle cx="506.7" cy="63.4" r="3.05"/><circle cx="510.8" cy="66.5" r="3.05"/><circle cx="426.2" cy="68.5" r="3.05"/><circle cx="406.0" cy="74.5" r="3.05"/><circle cx="476.5" cy="71.5" r="3.05"/><circle cx="405.0" cy="80.6" r="3.05"/><circle cx="417.1" cy="78.5" r="3.05"/><circle cx="436.3" cy="79.6" r="3.05"/><circle cx="458.4" cy="82.6" r="3.05"/><circle cx="476.5" cy="82.6" r="3.05"/><circle cx="476.5" cy="86.6" r="3.05"/><circle cx="498.7" cy="85.6" r="3.05"/><circle cx="525.9" cy="82.6" r="3.05"/><circle cx="512.8" cy="89.6" r="3.05"/><circle cx="505.7" cy="91.6" r="3.05"/><circle cx="507.8" cy="94.7" r="3.05"/><circle cx="430.2" cy="92.6" r="3.05"/><circle cx="448.3" cy="90.6" r="3.05"/><circle cx="446.3" cy="94.7" r="3.05"/><circle cx="448.3" cy="102.7" r="3.05"/><circle cx="475.5" cy="102.7" r="3.05"/><circle cx="422.2" cy="105.7" r="3.05"/><circle cx="437.3" cy="104.7" r="3.05"/><circle cx="403.0" cy="102.7" r="3.05"/><circle cx="448.3" cy="110.8" r="3.05"/><circle cx="447.3" cy="114.8" r="3.05"/><circle cx="489.6" cy="116.8" r="3.05"/><circle cx="542.0" cy="116.8" r="3.05"/><circle cx="407.0" cy="125.9" r="3.05"/><circle cx="472.5" cy="122.9" r="3.05"/><circle cx="442.3" cy="130.9" r="3.05"/><circle cx="440.3" cy="133.9" r="3.05"/><circle cx="462.4" cy="131.9" r="3.05"/><circle cx="419.1" cy="137.0" r="3.05"/><circle cx="425.2" cy="136.0" r="3.05"/><circle cx="418.1" cy="145.0" r="3.05"/><circle cx="441.3" cy="147.0" r="3.05"/><circle cx="444.3" cy="150.1" r="3.05"/><circle cx="458.4" cy="148.0" r="3.05"/><circle cx="477.5" cy="145.0" r="3.05"/><circle cx="482.6" cy="144.0" r="3.05"/><circle cx="523.9" cy="142.0" r="3.05"/><circle cx="523.9" cy="147.0" r="3.05"/><circle cx="548.0" cy="148.0" r="3.05"/><circle cx="528.9" cy="152.1" r="3.05"/><circle cx="422.2" cy="151.1" r="3.05"/><circle cx="339.0" cy="154.0" r="3.05"/><circle cx="354.1" cy="155.0" r="3.05"/><circle cx="358.1" cy="158.0" r="3.05"/><circle cx="324.9" cy="161.1" r="3.05"/><circle cx="328.9" cy="162.1" r="3.05"/><circle cx="334.9" cy="162.1" r="3.05"/><circle cx="334.9" cy="165.1" r="3.05"/><circle cx="368.2" cy="163.1" r="3.05"/><circle cx="380.3" cy="163.1" r="3.05"/><circle cx="385.3" cy="163.1" r="3.05"/><circle cx="390.3" cy="163.1" r="3.05"/><circle cx="394.4" cy="164.1" r="3.05"/><circle cx="378.2" cy="166.1" r="3.05"/><circle cx="375.2" cy="169.1" r="3.05"/><circle cx="345.0" cy="168.1" r="3.05"/><circle cx="331.9" cy="173.1" r="3.05"/><circle cx="333.9" cy="176.2" r="3.05"/><circle cx="336.0" cy="179.2" r="3.05"/><circle cx="338.0" cy="182.2" r="3.05"/><circle cx="364.1" cy="175.2" r="3.05"/><circle cx="364.1" cy="178.2" r="3.05"/><circle cx="303.7" cy="178.2" r="3.05"/><circle cx="385.3" cy="181.2" r="3.05"/><circle cx="305.7" cy="188.3" r="3.05"/><circle cx="353.1" cy="182.2" r="3.05"/><circle cx="350.1" cy="185.2" r="3.05"/><circle cx="373.2" cy="183.2" r="3.05"/><circle cx="371.2" cy="187.2" r="3.05"/><circle cx="376.2" cy="186.2" r="3.05"/><circle cx="378.2" cy="189.3" r="3.05"/><circle cx="399.4" cy="190.3" r="3.05"/><circle cx="394.4" cy="193.3" r="3.05"/><circle cx="384.3" cy="194.3" r="3.05"/><circle cx="334.9" cy="199.3" r="3.05"/><circle cx="340.0" cy="198.3" r="3.05"/><circle cx="365.2" cy="198.3" r="3.05"/><circle cx="316.8" cy="200.3" r="3.05"/><circle cx="321.9" cy="202.4" r="3.05"/><circle cx="323.9" cy="208.4" r="3.05"/><circle cx="370.2" cy="202.4" r="3.05"/><circle cx="375.2" cy="201.3" r="3.05"/><circle cx="380.3" cy="202.4" r="3.05"/><circle cx="351.1" cy="208.4" r="3.05"/><circle cx="298.7" cy="209.4" r="3.05"/><circle cx="296.7" cy="214.4" r="3.05"/><circle cx="301.7" cy="217.5" r="3.05"/><circle cx="305.7" cy="212.4" r="3.05"/><circle cx="278.5" cy="217.5" r="3.05"/><circle cx="340.0" cy="215.4" r="3.05"/><circle cx="327.9" cy="216.5" r="3.05"/><circle cx="323.9" cy="221.5" r="3.05"/><circle cx="361.1" cy="213.4" r="3.05"/><circle cx="357.1" cy="215.4" r="3.05"/><circle cx="354.1" cy="218.5" r="3.05"/><circle cx="349.0" cy="219.5" r="3.05"/><circle cx="345.0" cy="222.5" r="3.05"/><circle cx="353.1" cy="221.5" r="3.05"/><circle cx="375.2" cy="215.4" r="3.05"/><circle cx="377.2" cy="219.5" r="3.05"/><circle cx="382.3" cy="220.5" r="3.05"/><circle cx="376.2" cy="222.5" r="3.05"/><circle cx="310.8" cy="220.5" r="3.05"/><circle cx="307.8" cy="223.5" r="3.05"/><circle cx="309.8" cy="226.5" r="3.05"/><circle cx="280.6" cy="228.5" r="3.05"/><circle cx="300.7" cy="229.5" r="3.05"/><circle cx="315.8" cy="229.5" r="3.05"/><circle cx="320.8" cy="233.6" r="3.05"/><circle cx="324.9" cy="231.6" r="3.05"/><circle cx="364.1" cy="225.5" r="3.05"/><circle cx="372.2" cy="227.5" r="3.05"/><circle cx="370.2" cy="230.5" r="3.05"/><circle cx="389.3" cy="226.5" r="3.05"/><circle cx="389.3" cy="230.5" r="3.05"/><circle cx="381.3" cy="231.6" r="3.05"/><circle cx="368.2" cy="234.6" r="3.05"/><circle cx="352.1" cy="234.6" r="3.05"/><circle cx="345.0" cy="236.6" r="3.05"/><circle cx="347.0" cy="239.6" r="3.05"/><circle cx="342.0" cy="241.6" r="3.05"/><circle cx="282.6" cy="238.6" r="3.05"/><circle cx="284.6" cy="242.6" r="3.05"/><circle cx="284.6" cy="247.7" r="3.05"/><circle cx="314.8" cy="241.6" r="3.05"/><circle cx="301.7" cy="245.7" r="3.05"/><circle cx="308.8" cy="248.7" r="3.05"/><circle cx="311.8" cy="252.7" r="3.05"/><circle cx="312.8" cy="257.7" r="3.05"/><circle cx="337.0" cy="245.7" r="3.05"/><circle cx="339.0" cy="249.7" r="3.05"/><circle cx="340.0" cy="254.7" r="3.05"/><circle cx="330.9" cy="250.7" r="3.05"/><circle cx="364.1" cy="246.7" r="3.05"/><circle cx="376.2" cy="248.7" r="3.05"/><circle cx="377.2" cy="251.7" r="3.05"/><circle cx="395.4" cy="246.7" r="3.05"/><circle cx="393.4" cy="250.7" r="3.05"/><circle cx="368.2" cy="254.7" r="3.05"/><circle cx="340.0" cy="260.8" r="3.05"/><circle cx="354.1" cy="260.8" r="3.05"/><circle cx="333.9" cy="263.8" r="3.05"/><circle cx="333.9" cy="268.8" r="3.05"/><circle cx="332.9" cy="274.9" r="3.05"/><circle cx="304.7" cy="263.8" r="3.05"/><circle cx="301.7" cy="267.8" r="3.05"/><circle cx="301.7" cy="272.8" r="3.05"/><circle cx="286.6" cy="270.8" r="3.05"/><circle cx="249.3" cy="273.9" r="3.05"/><circle cx="383.3" cy="262.8" r="3.05"/><circle cx="387.3" cy="266.8" r="3.05"/><circle cx="372.2" cy="266.8" r="3.05"/><circle cx="359.1" cy="270.8" r="3.05"/><circle cx="373.2" cy="271.8" r="3.05"/><circle cx="371.2" cy="276.9" r="3.05"/><circle cx="369.2" cy="280.9" r="3.05"/><circle cx="328.9" cy="280.9" r="3.05"/><circle cx="251.4" cy="282.9" r="3.05"/><circle cx="361.1" cy="282.9" r="3.05"/><circle cx="365.2" cy="283.9" r="3.05"/><circle cx="370.2" cy="286.9" r="3.05"/><circle cx="375.2" cy="289.0" r="3.05"/><circle cx="321.9" cy="284.9" r="3.05"/><circle cx="321.9" cy="290.0" r="3.05"/><circle cx="325.9" cy="296.0" r="3.05"/><circle cx="318.8" cy="297.0" r="3.05"/><circle cx="389.3" cy="289.0" r="3.05"/><circle cx="257.4" cy="291.0" r="3.05"/><circle cx="257.4" cy="296.0" r="3.05"/><circle cx="257.4" cy="302.1" r="3.05"/><circle cx="301.7" cy="291.0" r="3.05"/><circle cx="302.7" cy="296.0" r="3.05"/><circle cx="303.7" cy="301.0" r="3.05"/><circle cx="286.6" cy="296.0" r="3.05"/><circle cx="291.6" cy="296.0" r="3.05"/><circle cx="344.0" cy="290.0" r="3.05"/><circle cx="345.0" cy="294.0" r="3.05"/><circle cx="345.0" cy="299.0" r="3.05"/><circle cx="340.0" cy="300.0" r="3.05"/><circle cx="313.8" cy="303.1" r="3.05"/><circle cx="323.9" cy="303.1" r="3.05"/><circle cx="277.5" cy="304.1" r="3.05"/><circle cx="422.2" cy="154.0" r="3.05"/><circle cx="443.3" cy="153.0" r="3.05"/><circle cx="447.3" cy="152.0" r="3.05"/><circle cx="501.7" cy="154.0" r="3.05"/><circle cx="404.0" cy="158.0" r="3.05"/><circle cx="409.1" cy="158.0" r="3.05"/><circle cx="470.5" cy="159.0" r="3.05"/><circle cx="402.0" cy="169.1" r="3.05"/><circle cx="434.2" cy="170.1" r="3.05"/><circle cx="434.2" cy="175.2" r="3.05"/><circle cx="454.4" cy="166.1" r="3.05"/><circle cx="455.4" cy="169.1" r="3.05"/><circle cx="476.5" cy="170.1" r="3.05"/><circle cx="415.1" cy="177.2" r="3.05"/><circle cx="403.0" cy="179.2" r="3.05"/><circle cx="402.0" cy="183.2" r="3.05"/><circle cx="435.2" cy="182.2" r="3.05"/><circle cx="433.2" cy="188.3" r="3.05"/><circle cx="417.1" cy="188.3" r="3.05"/><circle cx="406.0" cy="192.3" r="3.05"/><circle cx="470.5" cy="187.2" r="3.05"/><circle cx="453.4" cy="191.3" r="3.05"/><circle cx="451.4" cy="197.3" r="3.05"/><circle cx="482.6" cy="192.3" r="3.05"/><circle cx="424.2" cy="195.3" r="3.05"/><circle cx="414.1" cy="196.3" r="3.05"/><circle cx="405.0" cy="199.3" r="3.05"/><circle cx="410.1" cy="199.3" r="3.05"/><circle cx="417.1" cy="199.3" r="3.05"/><circle cx="483.6" cy="204.4" r="3.05"/><circle cx="416.1" cy="204.4" r="3.05"/><circle cx="417.1" cy="208.4" r="3.05"/><circle cx="456.4" cy="204.4" r="3.05"/><circle cx="457.4" cy="208.4" r="3.05"/><circle cx="407.0" cy="212.4" r="3.05"/><circle cx="455.4" cy="215.4" r="3.05"/><circle cx="462.4" cy="217.5" r="3.05"/><circle cx="549.0" cy="175.2" r="3.05"/><circle cx="553.1" cy="177.2" r="3.05"/><circle cx="557.1" cy="179.2" r="3.05"/><circle cx="560.1" cy="182.2" r="3.05"/><circle cx="574.2" cy="175.2" r="3.05"/><circle cx="545.0" cy="206.4" r="3.05"/><circle cx="534.9" cy="218.5" r="3.05"/><circle cx="589.3" cy="214.4" r="3.05"/><circle cx="589.3" cy="218.5" r="3.05"/><circle cx="588.3" cy="223.5" r="3.05"/><circle cx="582.3" cy="221.5" r="3.05"/><circle cx="495.7" cy="221.5" r="3.05"/><circle cx="517.8" cy="221.5" r="3.05"/><circle cx="477.5" cy="225.5" r="3.05"/><circle cx="472.5" cy="229.5" r="3.05"/><circle cx="544.0" cy="224.5" r="3.05"/><circle cx="512.8" cy="229.5" r="3.05"/><circle cx="407.0" cy="235.6" r="3.05"/><circle cx="412.1" cy="235.6" r="3.05"/><circle cx="563.1" cy="238.6" r="3.05"/><circle cx="495.7" cy="243.6" r="3.05"/><circle cx="507.8" cy="241.6" r="3.05"/><circle cx="492.6" cy="249.7" r="3.05"/><circle cx="497.7" cy="252.7" r="3.05"/><circle cx="441.3" cy="245.7" r="3.05"/><circle cx="582.3" cy="256.7" r="3.05"/><circle cx="563.1" cy="260.8" r="3.05"/><circle cx="524.9" cy="261.8" r="3.05"/><circle cx="412.1" cy="269.8" r="3.05"/><circle cx="499.7" cy="271.8" r="3.05"/><circle cx="498.7" cy="276.9" r="3.05"/><circle cx="550.1" cy="271.8" r="3.05"/><circle cx="478.5" cy="276.9" r="3.05"/><circle cx="593.4" cy="270.8" r="3.05"/><circle cx="588.3" cy="274.9" r="3.05"/><circle cx="593.4" cy="277.9" r="3.05"/><circle cx="572.2" cy="275.9" r="3.05"/><circle cx="566.2" cy="278.9" r="3.05"/><circle cx="562.1" cy="281.9" r="3.05"/><circle cx="559.1" cy="283.9" r="3.05"/><circle cx="409.1" cy="280.9" r="3.05"/><circle cx="523.9" cy="282.9" r="3.05"/><circle cx="497.7" cy="284.9" r="3.05"/><circle cx="419.1" cy="289.0" r="3.05"/><circle cx="423.2" cy="292.0" r="3.05"/><circle cx="403.0" cy="292.0" r="3.05"/><circle cx="595.4" cy="290.0" r="3.05"/><circle cx="441.3" cy="295.0" r="3.05"/><circle cx="586.3" cy="296.0" r="3.05"/><circle cx="437.3" cy="301.0" r="3.05"/><circle cx="459.4" cy="300.0" r="3.05"/><circle cx="465.5" cy="298.0" r="3.05"/><circle cx="469.5" cy="301.0" r="3.05"/><circle cx="513.8" cy="301.0" r="3.05"/><circle cx="587.3" cy="303.1" r="3.05"/><circle cx="617.1" cy="187.2" r="3.05"/><circle cx="622.2" cy="223.5" r="3.05"/><circle cx="622.2" cy="226.5" r="3.05"/><circle cx="623.2" cy="231.6" r="3.05"/><circle cx="606.0" cy="244.6" r="3.05"/><circle cx="637.3" cy="249.7" r="3.05"/><circle cx="613.1" cy="262.8" r="3.05"/><circle cx="614.1" cy="265.8" r="3.05"/><circle cx="621.1" cy="265.8" r="3.05"/><circle cx="624.2" cy="267.8" r="3.05"/><circle cx="645.3" cy="268.8" r="3.05"/><circle cx="643.3" cy="271.8" r="3.05"/><circle cx="641.3" cy="273.9" r="3.05"/><circle cx="628.2" cy="275.9" r="3.05"/><circle cx="634.2" cy="275.9" r="3.05"/><circle cx="609.1" cy="298.0" r="3.05"/><circle cx="626.2" cy="296.0" r="3.05"/><circle cx="629.2" cy="300.0" r="3.05"/><circle cx="633.2" cy="304.1" r="3.05"/><circle cx="647.3" cy="303.1" r="3.05"/><circle cx="276.5" cy="311.0" r="3.05"/><circle cx="300.7" cy="311.0" r="3.05"/><circle cx="323.9" cy="311.0" r="3.05"/><circle cx="306.7" cy="306.0" r="3.05"/><circle cx="312.8" cy="307.0" r="3.05"/><circle cx="328.9" cy="306.0" r="3.05"/><circle cx="365.2" cy="310.0" r="3.05"/><circle cx="370.2" cy="309.0" r="3.05"/><circle cx="281.6" cy="315.1" r="3.05"/><circle cx="282.6" cy="318.1" r="3.05"/><circle cx="291.6" cy="315.1" r="3.05"/><circle cx="297.7" cy="317.1" r="3.05"/><circle cx="302.7" cy="317.1" r="3.05"/><circle cx="252.4" cy="318.1" r="3.05"/><circle cx="285.6" cy="323.1" r="3.05"/><circle cx="378.2" cy="313.1" r="3.05"/><circle cx="394.4" cy="312.1" r="3.05"/><circle cx="356.1" cy="320.1" r="3.05"/><circle cx="339.0" cy="321.1" r="3.05"/><circle cx="343.0" cy="320.1" r="3.05"/><circle cx="338.0" cy="324.1" r="3.05"/><circle cx="327.9" cy="324.1" r="3.05"/><circle cx="377.2" cy="320.1" r="3.05"/><circle cx="383.3" cy="318.1" r="3.05"/><circle cx="381.3" cy="325.1" r="3.05"/><circle cx="399.4" cy="321.1" r="3.05"/><circle cx="212.1" cy="329.2" r="3.05"/><circle cx="214.1" cy="331.2" r="3.05"/><circle cx="268.5" cy="333.2" r="3.05"/><circle cx="308.8" cy="330.2" r="3.05"/><circle cx="310.8" cy="334.2" r="3.05"/><circle cx="312.8" cy="336.2" r="3.05"/><circle cx="320.8" cy="332.2" r="3.05"/><circle cx="324.9" cy="333.2" r="3.05"/><circle cx="327.9" cy="335.2" r="3.05"/><circle cx="331.9" cy="331.2" r="3.05"/><circle cx="333.9" cy="333.2" r="3.05"/><circle cx="291.6" cy="337.2" r="3.05"/><circle cx="369.2" cy="337.2" r="3.05"/><circle cx="381.3" cy="334.2" r="3.05"/><circle cx="381.3" cy="338.2" r="3.05"/><circle cx="389.3" cy="336.2" r="3.05"/><circle cx="301.7" cy="345.3" r="3.05"/><circle cx="346.0" cy="346.3" r="3.05"/><circle cx="350.1" cy="348.3" r="3.05"/><circle cx="353.1" cy="350.3" r="3.05"/><circle cx="290.6" cy="353.3" r="3.05"/><circle cx="291.6" cy="358.4" r="3.05"/><circle cx="293.7" cy="360.4" r="3.05"/><circle cx="297.7" cy="351.3" r="3.05"/><circle cx="302.7" cy="353.3" r="3.05"/><circle cx="309.8" cy="352.3" r="3.05"/><circle cx="312.8" cy="353.3" r="3.05"/><circle cx="322.9" cy="351.3" r="3.05"/><circle cx="328.9" cy="349.3" r="3.05"/><circle cx="329.9" cy="353.3" r="3.05"/><circle cx="330.9" cy="357.4" r="3.05"/><circle cx="368.2" cy="357.4" r="3.05"/><circle cx="362.1" cy="362.4" r="3.05"/><circle cx="362.1" cy="365.4" r="3.05"/><circle cx="310.8" cy="361.4" r="3.05"/><circle cx="310.8" cy="366.4" r="3.05"/><circle cx="300.7" cy="362.4" r="3.05"/><circle cx="297.7" cy="365.4" r="3.05"/><circle cx="296.7" cy="369.5" r="3.05"/><circle cx="323.9" cy="366.4" r="3.05"/><circle cx="326.9" cy="370.5" r="3.05"/><circle cx="342.0" cy="365.4" r="3.05"/><circle cx="384.3" cy="363.4" r="3.05"/><circle cx="381.3" cy="367.4" r="3.05"/><circle cx="379.3" cy="370.5" r="3.05"/><circle cx="384.3" cy="371.5" r="3.05"/><circle cx="376.2" cy="373.5" r="3.05"/><circle cx="240.3" cy="366.4" r="3.05"/><circle cx="271.5" cy="367.4" r="3.05"/><circle cx="306.7" cy="372.5" r="3.05"/><circle cx="346.0" cy="373.5" r="3.05"/><circle cx="346.0" cy="376.5" r="3.05"/><circle cx="362.1" cy="372.5" r="3.05"/><circle cx="272.5" cy="375.5" r="3.05"/><circle cx="272.5" cy="378.5" r="3.05"/><circle cx="299.7" cy="378.5" r="3.05"/><circle cx="321.9" cy="378.5" r="3.05"/><circle cx="398.4" cy="377.5" r="3.05"/><circle cx="376.2" cy="381.5" r="3.05"/><circle cx="373.2" cy="386.6" r="3.05"/><circle cx="333.9" cy="386.6" r="3.05"/><circle cx="269.5" cy="388.6" r="3.05"/><circle cx="267.5" cy="390.6" r="3.05"/><circle cx="387.3" cy="386.6" r="3.05"/><circle cx="391.3" cy="388.6" r="3.05"/><circle cx="396.4" cy="390.6" r="3.05"/><circle cx="320.8" cy="396.6" r="3.05"/><circle cx="325.9" cy="396.6" r="3.05"/><circle cx="329.9" cy="397.7" r="3.05"/><circle cx="334.9" cy="397.7" r="3.05"/><circle cx="342.0" cy="393.6" r="3.05"/><circle cx="342.0" cy="397.7" r="3.05"/><circle cx="349.0" cy="396.6" r="3.05"/><circle cx="355.1" cy="396.6" r="3.05"/><circle cx="362.1" cy="398.7" r="3.05"/><circle cx="367.2" cy="396.6" r="3.05"/><circle cx="373.2" cy="397.7" r="3.05"/><circle cx="384.3" cy="395.6" r="3.05"/><circle cx="308.8" cy="400.7" r="3.05"/><circle cx="329.9" cy="404.7" r="3.05"/><circle cx="291.6" cy="409.7" r="3.05"/><circle cx="366.2" cy="406.7" r="3.05"/><circle cx="375.2" cy="408.7" r="3.05"/><circle cx="389.3" cy="409.7" r="3.05"/><circle cx="355.1" cy="410.7" r="3.05"/><circle cx="364.1" cy="413.8" r="3.05"/><circle cx="359.1" cy="417.8" r="3.05"/><circle cx="357.1" cy="421.8" r="3.05"/><circle cx="394.4" cy="423.8" r="3.05"/><circle cx="344.0" cy="423.8" r="3.05"/><circle cx="348.0" cy="425.9" r="3.05"/><circle cx="351.1" cy="427.9" r="3.05"/><circle cx="370.2" cy="427.9" r="3.05"/><circle cx="376.2" cy="430.9" r="3.05"/><circle cx="379.3" cy="434.9" r="3.05"/><circle cx="384.3" cy="427.9" r="3.05"/><circle cx="319.8" cy="432.9" r="3.05"/><circle cx="327.9" cy="432.9" r="3.05"/><circle cx="332.9" cy="430.9" r="3.05"/><circle cx="311.8" cy="437.9" r="3.05"/><circle cx="305.7" cy="444.0" r="3.05"/><circle cx="349.0" cy="443.0" r="3.05"/><circle cx="352.1" cy="446.0" r="3.05"/><circle cx="356.1" cy="453.0" r="3.05"/><circle cx="333.9" cy="448.0" r="3.05"/><circle cx="261.4" cy="449.0" r="3.05"/><circle cx="399.4" cy="455.1" r="3.05"/><circle cx="433.2" cy="307.0" r="3.05"/><circle cx="431.2" cy="311.0" r="3.05"/><circle cx="405.0" cy="313.1" r="3.05"/><circle cx="410.1" cy="311.0" r="3.05"/><circle cx="416.1" cy="311.0" r="3.05"/><circle cx="482.6" cy="309.0" r="3.05"/><circle cx="494.7" cy="311.0" r="3.05"/><circle cx="413.1" cy="321.1" r="3.05"/><circle cx="422.2" cy="320.1" r="3.05"/><circle cx="438.3" cy="323.1" r="3.05"/><circle cx="453.4" cy="323.1" r="3.05"/><circle cx="478.5" cy="325.1" r="3.05"/><circle cx="542.0" cy="324.1" r="3.05"/><circle cx="571.2" cy="319.1" r="3.05"/><circle cx="585.3" cy="315.1" r="3.05"/><circle cx="599.4" cy="321.1" r="3.05"/><circle cx="421.1" cy="334.2" r="3.05"/><circle cx="479.6" cy="335.2" r="3.05"/><circle cx="494.7" cy="337.2" r="3.05"/><circle cx="521.9" cy="338.2" r="3.05"/><circle cx="519.8" cy="342.3" r="3.05"/><circle cx="594.4" cy="337.2" r="3.05"/><circle cx="433.2" cy="342.3" r="3.05"/><circle cx="433.2" cy="346.3" r="3.05"/><circle cx="447.3" cy="343.3" r="3.05"/><circle cx="457.4" cy="342.3" r="3.05"/><circle cx="454.4" cy="345.3" r="3.05"/><circle cx="452.4" cy="349.3" r="3.05"/><circle cx="471.5" cy="343.3" r="3.05"/><circle cx="483.6" cy="346.3" r="3.05"/><circle cx="402.0" cy="346.3" r="3.05"/><circle cx="559.1" cy="346.3" r="3.05"/><circle cx="573.2" cy="343.3" r="3.05"/><circle cx="584.3" cy="342.3" r="3.05"/><circle cx="586.3" cy="347.3" r="3.05"/><circle cx="517.8" cy="348.3" r="3.05"/><circle cx="513.8" cy="350.3" r="3.05"/><circle cx="477.5" cy="358.4" r="3.05"/><circle cx="545.0" cy="358.4" r="3.05"/><circle cx="566.2" cy="360.4" r="3.05"/><circle cx="582.3" cy="356.4" r="3.05"/><circle cx="412.1" cy="361.4" r="3.05"/><circle cx="412.1" cy="365.4" r="3.05"/><circle cx="424.2" cy="365.4" r="3.05"/><circle cx="432.2" cy="359.4" r="3.05"/><circle cx="437.3" cy="361.4" r="3.05"/><circle cx="524.9" cy="366.4" r="3.05"/><circle cx="545.0" cy="367.4" r="3.05"/><circle cx="576.2" cy="366.4" r="3.05"/><circle cx="579.3" cy="369.5" r="3.05"/><circle cx="585.3" cy="370.5" r="3.05"/><circle cx="599.4" cy="362.4" r="3.05"/><circle cx="468.5" cy="373.5" r="3.05"/><circle cx="469.5" cy="378.5" r="3.05"/><circle cx="486.6" cy="377.5" r="3.05"/><circle cx="494.7" cy="378.5" r="3.05"/><circle cx="552.1" cy="377.5" r="3.05"/><circle cx="559.1" cy="377.5" r="3.05"/><circle cx="571.2" cy="377.5" r="3.05"/><circle cx="599.4" cy="375.5" r="3.05"/><circle cx="434.2" cy="384.6" r="3.05"/><circle cx="519.8" cy="387.6" r="3.05"/><circle cx="594.4" cy="390.6" r="3.05"/><circle cx="419.1" cy="398.7" r="3.05"/><circle cx="433.2" cy="400.7" r="3.05"/><circle cx="442.3" cy="401.7" r="3.05"/><circle cx="502.7" cy="394.6" r="3.05"/><circle cx="567.2" cy="397.7" r="3.05"/><circle cx="412.1" cy="404.7" r="3.05"/><circle cx="405.0" cy="407.7" r="3.05"/><circle cx="424.2" cy="408.7" r="3.05"/><circle cx="470.5" cy="406.7" r="3.05"/><circle cx="463.4" cy="413.8" r="3.05"/><circle cx="475.5" cy="412.8" r="3.05"/><circle cx="571.2" cy="412.8" r="3.05"/><circle cx="423.2" cy="418.8" r="3.05"/><circle cx="455.4" cy="418.8" r="3.05"/><circle cx="483.6" cy="417.8" r="3.05"/><circle cx="493.7" cy="421.8" r="3.05"/><circle cx="440.3" cy="423.8" r="3.05"/><circle cx="468.5" cy="423.8" r="3.05"/><circle cx="419.1" cy="424.8" r="3.05"/><circle cx="411.1" cy="427.9" r="3.05"/><circle cx="418.1" cy="430.9" r="3.05"/><circle cx="434.2" cy="427.9" r="3.05"/><circle cx="480.6" cy="429.9" r="3.05"/><circle cx="588.3" cy="428.9" r="3.05"/><circle cx="427.2" cy="433.9" r="3.05"/><circle cx="490.6" cy="438.9" r="3.05"/><circle cx="408.1" cy="446.0" r="3.05"/><circle cx="519.8" cy="447.0" r="3.05"/><circle cx="440.3" cy="450.0" r="3.05"/><circle cx="512.8" cy="455.1" r="3.05"/><circle cx="625.2" cy="306.0" r="3.05"/><circle cx="631.2" cy="308.0" r="3.05"/><circle cx="635.2" cy="311.0" r="3.05"/><circle cx="641.3" cy="312.1" r="3.05"/><circle cx="637.3" cy="315.1" r="3.05"/><circle cx="643.3" cy="317.1" r="3.05"/><circle cx="642.3" cy="320.1" r="3.05"/><circle cx="636.3" cy="321.1" r="3.05"/><circle cx="615.1" cy="313.1" r="3.05"/><circle cx="615.1" cy="320.1" r="3.05"/><circle cx="662.4" cy="320.1" r="3.05"/><circle cx="663.4" cy="323.1" r="3.05"/><circle cx="635.2" cy="327.2" r="3.05"/><circle cx="630.2" cy="332.2" r="3.05"/><circle cx="604.0" cy="327.2" r="3.05"/><circle cx="601.0" cy="331.2" r="3.05"/><circle cx="609.1" cy="331.2" r="3.05"/><circle cx="622.2" cy="337.2" r="3.05"/><circle cx="608.1" cy="341.3" r="3.05"/><circle cx="617.1" cy="342.3" r="3.05"/><circle cx="632.2" cy="341.3" r="3.05"/><circle cx="629.2" cy="345.3" r="3.05"/><circle cx="626.2" cy="351.3" r="3.05"/><circle cx="641.3" cy="340.3" r="3.05"/><circle cx="647.3" cy="340.3" r="3.05"/><circle cx="635.2" cy="349.3" r="3.05"/><circle cx="670.5" cy="342.3" r="3.05"/><circle cx="605.0" cy="354.4" r="3.05"/><circle cx="611.1" cy="357.4" r="3.05"/><circle cx="602.0" cy="359.4" r="3.05"/><circle cx="627.2" cy="361.4" r="3.05"/><circle cx="642.3" cy="359.4" r="3.05"/><circle cx="604.0" cy="365.4" r="3.05"/><circle cx="614.1" cy="367.4" r="3.05"/><circle cx="608.1" cy="369.5" r="3.05"/><circle cx="604.0" cy="372.5" r="3.05"/><circle cx="605.0" cy="376.5" r="3.05"/><circle cx="615.1" cy="381.5" r="3.05"/><circle cx="619.1" cy="382.5" r="3.05"/><circle cx="626.2" cy="384.6" r="3.05"/><circle cx="624.2" cy="387.6" r="3.05"/><circle cx="642.3" cy="382.5" r="3.05"/><circle cx="605.0" cy="393.6" r="3.05"/><circle cx="625.2" cy="394.6" r="3.05"/><circle cx="646.3" cy="401.7" r="3.05"/><circle cx="666.5" cy="411.8" r="3.05"/><circle cx="656.4" cy="449.0" r="3.05"/><circle cx="359.1" cy="458.0" r="3.05"/><circle cx="393.4" cy="466.1" r="3.05"/><circle cx="344.0" cy="477.1" r="3.05"/><circle cx="342.0" cy="481.2" r="3.05"/><circle cx="341.0" cy="486.2" r="3.05"/><circle cx="389.3" cy="478.2" r="3.05"/><circle cx="394.4" cy="477.1" r="3.05"/><circle cx="371.2" cy="483.2" r="3.05"/><circle cx="377.2" cy="483.2" r="3.05"/><circle cx="382.3" cy="487.2" r="3.05"/><circle cx="399.4" cy="483.2" r="3.05"/><circle cx="394.4" cy="489.2" r="3.05"/><circle cx="386.3" cy="495.3" r="3.05"/><circle cx="399.4" cy="496.3" r="3.05"/><circle cx="282.6" cy="509.4" r="3.05"/><circle cx="363.1" cy="505.3" r="3.05"/><circle cx="320.8" cy="516.4" r="3.05"/><circle cx="325.9" cy="514.4" r="3.05"/><circle cx="365.2" cy="513.4" r="3.05"/><circle cx="393.4" cy="514.4" r="3.05"/><circle cx="393.4" cy="520.5" r="3.05"/><circle cx="349.0" cy="518.4" r="3.05"/><circle cx="310.8" cy="521.5" r="3.05"/><circle cx="315.8" cy="525.5" r="3.05"/><circle cx="361.1" cy="521.5" r="3.05"/><circle cx="369.2" cy="521.5" r="3.05"/><circle cx="258.4" cy="525.5" r="3.05"/><circle cx="261.4" cy="529.5" r="3.05"/><circle cx="264.5" cy="532.5" r="3.05"/><circle cx="245.3" cy="531.5" r="3.05"/><circle cx="252.4" cy="530.5" r="3.05"/><circle cx="248.3" cy="536.6" r="3.05"/><circle cx="251.4" cy="539.6" r="3.05"/><circle cx="255.4" cy="541.6" r="3.05"/><circle cx="294.7" cy="531.5" r="3.05"/><circle cx="296.7" cy="534.5" r="3.05"/><circle cx="298.7" cy="537.6" r="3.05"/><circle cx="331.9" cy="533.5" r="3.05"/><circle cx="378.2" cy="526.5" r="3.05"/><circle cx="349.0" cy="529.5" r="3.05"/><circle cx="349.0" cy="535.6" r="3.05"/><circle cx="381.3" cy="534.5" r="3.05"/><circle cx="397.4" cy="534.5" r="3.05"/><circle cx="316.8" cy="537.6" r="3.05"/><circle cx="321.9" cy="541.6" r="3.05"/><circle cx="327.9" cy="543.6" r="3.05"/><circle cx="321.9" cy="545.6" r="3.05"/><circle cx="267.5" cy="539.6" r="3.05"/><circle cx="275.5" cy="538.6" r="3.05"/><circle cx="279.6" cy="541.6" r="3.05"/><circle cx="284.6" cy="542.6" r="3.05"/><circle cx="277.5" cy="545.6" r="3.05"/><circle cx="255.4" cy="544.6" r="3.05"/><circle cx="252.4" cy="547.6" r="3.05"/><circle cx="261.4" cy="547.6" r="3.05"/><circle cx="296.7" cy="545.6" r="3.05"/><circle cx="303.7" cy="545.6" r="3.05"/><circle cx="310.8" cy="547.6" r="3.05"/><circle cx="308.8" cy="550.7" r="3.05"/><circle cx="272.5" cy="551.7" r="3.05"/><circle cx="358.1" cy="542.6" r="3.05"/><circle cx="360.1" cy="545.6" r="3.05"/><circle cx="358.1" cy="549.7" r="3.05"/><circle cx="370.2" cy="545.6" r="3.05"/><circle cx="370.2" cy="549.7" r="3.05"/><circle cx="373.2" cy="551.7" r="3.05"/><circle cx="347.0" cy="548.6" r="3.05"/><circle cx="389.3" cy="548.6" r="3.05"/><circle cx="398.4" cy="542.6" r="3.05"/><circle cx="385.3" cy="556.7" r="3.05"/><circle cx="387.3" cy="562.7" r="3.05"/><circle cx="363.1" cy="559.7" r="3.05"/><circle cx="364.1" cy="563.8" r="3.05"/><circle cx="329.9" cy="565.8" r="3.05"/><circle cx="392.3" cy="568.8" r="3.05"/><circle cx="396.4" cy="573.8" r="3.05"/><circle cx="399.4" cy="564.8" r="3.05"/><circle cx="370.2" cy="580.9" r="3.05"/><circle cx="386.3" cy="583.9" r="3.05"/><circle cx="344.0" cy="586.9" r="3.05"/><circle cx="332.9" cy="588.9" r="3.05"/><circle cx="332.9" cy="592.0" r="3.05"/><circle cx="326.9" cy="595.0" r="3.05"/><circle cx="316.8" cy="595.0" r="3.05"/><circle cx="313.8" cy="598.0" r="3.05"/><circle cx="358.1" cy="598.0" r="3.05"/><circle cx="370.2" cy="599.0" r="3.05"/><circle cx="358.1" cy="604.0" r="3.05"/><circle cx="349.0" cy="607.1" r="3.05"/><circle cx="402.0" cy="457.0" r="3.05"/><circle cx="423.2" cy="458.0" r="3.05"/><circle cx="403.0" cy="463.0" r="3.05"/><circle cx="475.5" cy="460.0" r="3.05"/><circle cx="422.2" cy="464.1" r="3.05"/><circle cx="424.2" cy="469.1" r="3.05"/><circle cx="446.3" cy="465.1" r="3.05"/><circle cx="412.1" cy="468.1" r="3.05"/><circle cx="500.7" cy="463.0" r="3.05"/><circle cx="516.8" cy="465.1" r="3.05"/><circle cx="540.0" cy="467.1" r="3.05"/><circle cx="460.4" cy="470.1" r="3.05"/><circle cx="425.2" cy="475.1" r="3.05"/><circle cx="433.2" cy="475.1" r="3.05"/><circle cx="437.3" cy="474.1" r="3.05"/><circle cx="430.2" cy="480.2" r="3.05"/><circle cx="451.4" cy="477.1" r="3.05"/><circle cx="458.4" cy="479.2" r="3.05"/><circle cx="406.0" cy="485.2" r="3.05"/><circle cx="418.1" cy="485.2" r="3.05"/><circle cx="411.1" cy="491.2" r="3.05"/><circle cx="417.1" cy="491.2" r="3.05"/><circle cx="518.8" cy="484.2" r="3.05"/><circle cx="418.1" cy="500.3" r="3.05"/><circle cx="423.2" cy="504.3" r="3.05"/><circle cx="486.6" cy="500.3" r="3.05"/><circle cx="549.0" cy="499.3" r="3.05"/><circle cx="404.0" cy="505.3" r="3.05"/><circle cx="412.1" cy="505.3" r="3.05"/><circle cx="405.0" cy="511.4" r="3.05"/><circle cx="429.2" cy="510.4" r="3.05"/><circle cx="449.3" cy="506.4" r="3.05"/><circle cx="460.4" cy="516.4" r="3.05"/><circle cx="417.1" cy="522.5" r="3.05"/><circle cx="470.5" cy="525.5" r="3.05"/><circle cx="454.4" cy="530.5" r="3.05"/><circle cx="578.2" cy="516.4" r="3.05"/><circle cx="542.0" cy="522.5" r="3.05"/><circle cx="591.3" cy="529.5" r="3.05"/><circle cx="405.0" cy="542.6" r="3.05"/><circle cx="406.0" cy="546.6" r="3.05"/><circle cx="522.9" cy="546.6" r="3.05"/><circle cx="551.1" cy="546.6" r="3.05"/><circle cx="537.0" cy="550.7" r="3.05"/><circle cx="513.8" cy="556.7" r="3.05"/><circle cx="426.2" cy="563.8" r="3.05"/><circle cx="410.1" cy="570.8" r="3.05"/><circle cx="531.9" cy="570.8" r="3.05"/><circle cx="451.4" cy="576.8" r="3.05"/><circle cx="529.9" cy="582.9" r="3.05"/><circle cx="549.0" cy="584.9" r="3.05"/><circle cx="599.4" cy="582.9" r="3.05"/><circle cx="470.5" cy="590.9" r="3.05"/><circle cx="576.2" cy="593.0" r="3.05"/><circle cx="572.2" cy="601.0" r="3.05"/><circle cx="424.2" cy="603.0" r="3.05"/><circle cx="469.5" cy="603.0" r="3.05"/><circle cx="471.5" cy="607.1" r="3.05"/><circle cx="329.9" cy="610.0" r="3.05"/><circle cx="336.0" cy="612.0" r="3.05"/><circle cx="341.0" cy="611.0" r="3.05"/><circle cx="334.9" cy="616.1" r="3.05"/><circle cx="346.0" cy="614.0" r="3.05"/><circle cx="351.1" cy="610.0" r="3.05"/><circle cx="358.1" cy="609.0" r="3.05"/><circle cx="359.1" cy="613.0" r="3.05"/><circle cx="367.2" cy="613.0" r="3.05"/><circle cx="376.2" cy="617.1" r="3.05"/><circle cx="375.2" cy="621.1" r="3.05"/><circle cx="347.0" cy="623.1" r="3.05"/><circle cx="358.1" cy="623.1" r="3.05"/><circle cx="370.2" cy="625.1" r="3.05"/><circle cx="388.3" cy="621.1" r="3.05"/><circle cx="339.0" cy="627.1" r="3.05"/><circle cx="339.0" cy="632.2" r="3.05"/><circle cx="399.4" cy="631.2" r="3.05"/><circle cx="361.1" cy="648.3" r="3.05"/><circle cx="393.4" cy="645.3" r="3.05"/><circle cx="389.3" cy="686.5" r="3.05"/><circle cx="395.4" cy="691.6" r="3.05"/><circle cx="399.4" cy="695.6" r="3.05"/><circle cx="399.4" cy="709.7" r="3.05"/><circle cx="403.0" cy="611.0" r="3.05"/><circle cx="416.1" cy="614.0" r="3.05"/><circle cx="422.2" cy="618.1" r="3.05"/><circle cx="421.1" cy="633.2" r="3.05"/><circle cx="428.2" cy="633.2" r="3.05"/><circle cx="448.3" cy="637.2" r="3.05"/><circle cx="484.6" cy="629.1" r="3.05"/><circle cx="550.1" cy="632.2" r="3.05"/><circle cx="555.1" cy="629.1" r="3.05"/><circle cx="558.1" cy="628.1" r="3.05"/><circle cx="446.3" cy="645.3" r="3.05"/><circle cx="447.3" cy="649.3" r="3.05"/><circle cx="448.3" cy="653.3" r="3.05"/><circle cx="450.4" cy="659.4" r="3.05"/><circle cx="430.2" cy="685.5" r="3.05"/><circle cx="417.1" cy="688.6" r="3.05"/><circle cx="411.1" cy="691.6" r="3.05"/><circle cx="402.0" cy="697.6" r="3.05"/><circle cx="182.8" cy="258.5" r="3.05"/><circle cx="184.0" cy="260.5" r="3.05"/><circle cx="400.6" cy="79.5" r="3.05"/><circle cx="343.0" cy="80.6" r="3.05"/><circle cx="375.9" cy="28.5" r="3.05"/><circle cx="453.3" cy="114.2" r="3.05"/><circle cx="120.6" cy="207.5" r="3.05"/><circle cx="130.9" cy="211.8" r="3.05"/><circle cx="124.7" cy="235.7" r="3.05"/><circle cx="445.9" cy="388.6" r="3.05"/><circle cx="429.5" cy="386.5" r="3.05"/><circle cx="459.5" cy="383.2" r="3.05"/><circle cx="402.7" cy="489.5" r="3.05"/><circle cx="345.1" cy="609.9" r="3.05"/><circle cx="445.9" cy="475.4" r="3.05"/><circle cx="603.6" cy="582.8" r="3.05"/><circle cx="453.3" cy="634.9" r="3.05"/><circle cx="398.6" cy="644.9" r="3.05"/></g>
<text x="348.3" y="304.8" font-size="17" fill="#111" textLength="66.5" lengthAdjust="spacingAndGlyphs">Relapse</text>
<text x="431.6" y="392" font-size="17" fill="#111" textLength="85.8" lengthAdjust="spacingAndGlyphs">Remission</text>
</g>
<g id="panel-b">
<text font-size="46.7" font-weight="bold" transform="translate(-3.1 822.6) scale(0.9 1)">b</text>
<path d="M50.5 791 V1498.5 H372.6 V791" fill="none" stroke="#2a2a2a" stroke-width="1.1"/>
<path d="M378.6 791 V1498.5 H700.6 V791" fill="none" stroke="#2a2a2a" stroke-width="1.1"/>
<rect x="701.2" y="791" width="2.2" height="708" fill="#d4d4d4"/>
<text x="89.5" y="815.7" font-size="25.3" fill="#000" textLength="85.5" lengthAdjust="spacingAndGlyphs">Relapse</text>
<text x="391.5" y="815.7" font-size="25.3" fill="#000" textLength="111.5" lengthAdjust="spacingAndGlyphs">Remission</text>
<line x1="46" y1="888.4" x2="50.5" y2="888.4" stroke="#2a2a2a" stroke-width="1" stroke-linecap="butt"/>
<text font-size="13.7" fill="#3c3c3c" text-anchor="end" transform="translate(44.2 893.8) scale(0.75 1)">20</text>
<line x1="46" y1="1001.4" x2="50.5" y2="1001.4" stroke="#2a2a2a" stroke-width="1" stroke-linecap="butt"/>
<text font-size="13.7" fill="#3c3c3c" text-anchor="end" transform="translate(44.2 1006.8) scale(0.75 1)">10</text>
<line x1="46" y1="1115.7" x2="50.5" y2="1115.7" stroke="#2a2a2a" stroke-width="1" stroke-linecap="butt"/>
<text font-size="13.7" fill="#3c3c3c" text-anchor="end" transform="translate(44.2 1121.1000000000001) scale(0.75 1)">0</text>
<line x1="46" y1="1229" x2="50.5" y2="1229" stroke="#2a2a2a" stroke-width="1" stroke-linecap="butt"/>
<text font-size="13.7" fill="#3c3c3c" text-anchor="end" transform="translate(44.2 1234.4) scale(0.75 1)">−10</text>
<line x1="46" y1="1344" x2="50.5" y2="1344" stroke="#2a2a2a" stroke-width="1" stroke-linecap="butt"/>
<text font-size="13.7" fill="#3c3c3c" text-anchor="end" transform="translate(44.2 1349.4) scale(0.75 1)">−20</text>
<line x1="46" y1="1457.3" x2="50.5" y2="1457.3" stroke="#2a2a2a" stroke-width="1" stroke-linecap="butt"/>
<text font-size="13.7" fill="#3c3c3c" text-anchor="end" transform="translate(44.2 1462.7) scale(0.75 1)">−30</text>
<line x1="141.3" y1="1498.5" x2="141.3" y2="1501.6" stroke="#2a2a2a" stroke-width="1" stroke-linecap="butt"/>
<text font-size="13.7" fill="#3c3c3c" text-anchor="middle" transform="translate(141.3 1516.3) scale(0.75 1)">−20</text>
<line x1="235.70000000000002" y1="1498.5" x2="235.70000000000002" y2="1501.6" stroke="#2a2a2a" stroke-width="1" stroke-linecap="butt"/>
<text font-size="13.7" fill="#3c3c3c" text-anchor="middle" transform="translate(235.70000000000002 1516.3) scale(0.75 1)">0</text>
<line x1="330.1" y1="1498.5" x2="330.1" y2="1501.6" stroke="#2a2a2a" stroke-width="1" stroke-linecap="butt"/>
<text font-size="13.7" fill="#3c3c3c" text-anchor="middle" transform="translate(330.1 1516.3) scale(0.75 1)">20</text>
<line x1="469.1" y1="1498.5" x2="469.1" y2="1501.6" stroke="#2a2a2a" stroke-width="1" stroke-linecap="butt"/>
<text font-size="13.7" fill="#3c3c3c" text-anchor="middle" transform="translate(469.1 1516.3) scale(0.75 1)">−20</text>
<line x1="563.5" y1="1498.5" x2="563.5" y2="1501.6" stroke="#2a2a2a" stroke-width="1" stroke-linecap="butt"/>
<text font-size="13.7" fill="#3c3c3c" text-anchor="middle" transform="translate(563.5 1516.3) scale(0.75 1)">0</text>
<line x1="657.9000000000001" y1="1498.5" x2="657.9000000000001" y2="1501.6" stroke="#2a2a2a" stroke-width="1" stroke-linecap="butt"/>
<text font-size="13.7" fill="#3c3c3c" text-anchor="middle" transform="translate(657.9000000000001 1516.3) scale(0.75 1)">20</text>
<text font-size="24.5" text-anchor="middle" textLength="225" lengthAdjust="spacingAndGlyphs" transform="translate(20.5 1155) rotate(-90)">TNFAIP3 expression</text>
<g fill="#bcbdc0"><circle cx="71.9" cy="947.3" r="3.3"/><circle cx="77.3" cy="947.3" r="3.3"/><circle cx="72.9" cy="953.8" r="3.3"/><circle cx="75.4" cy="952.9" r="3.3"/><circle cx="69.5" cy="959.5" r="3.3"/><circle cx="83.7" cy="968.8" r="3.3"/><circle cx="82.3" cy="971.6" r="3.3"/><circle cx="83.3" cy="976.3" r="3.3"/><circle cx="86.2" cy="985.6" r="3.3"/><circle cx="96.1" cy="987.5" r="3.3"/><circle cx="73.9" cy="1001.5" r="3.3"/><circle cx="90.1" cy="1000.6" r="3.3"/><circle cx="94.6" cy="1003.4" r="3.3"/><circle cx="112.8" cy="1014.6" r="3.3"/><circle cx="95.6" cy="1017.4" r="3.3"/><circle cx="85.7" cy="1023.0" r="3.3"/><circle cx="85.7" cy="1026.7" r="3.3"/><circle cx="217.7" cy="824.6" r="3.3"/><circle cx="216.7" cy="828.3" r="3.3"/><circle cx="214.7" cy="839.5" r="3.3"/><circle cx="192.1" cy="868.5" r="3.3"/><circle cx="220.2" cy="860.1" r="3.3"/><circle cx="223.6" cy="862.9" r="3.3"/><circle cx="223.6" cy="874.1" r="3.3"/><circle cx="215.2" cy="879.7" r="3.3"/><circle cx="198.5" cy="883.5" r="3.3"/><circle cx="189.1" cy="886.3" r="3.3"/><circle cx="191.1" cy="884.4" r="3.3"/><circle cx="193.6" cy="883.5" r="3.3"/><circle cx="194.1" cy="887.2" r="3.3"/><circle cx="220.7" cy="887.2" r="3.3"/><circle cx="182.7" cy="895.6" r="3.3"/><circle cx="194.1" cy="909.6" r="3.3"/><circle cx="209.8" cy="912.4" r="3.3"/><circle cx="186.2" cy="934.9" r="3.3"/><circle cx="197.5" cy="939.5" r="3.3"/><circle cx="243.1" cy="835.8" r="3.3"/><circle cx="224.9" cy="862.0" r="3.3"/><circle cx="226.9" cy="864.8" r="3.3"/><circle cx="278.1" cy="868.5" r="3.3"/><circle cx="226.4" cy="881.6" r="3.3"/><circle cx="261.3" cy="887.2" r="3.3"/><circle cx="275.6" cy="891.9" r="3.3"/><circle cx="246.6" cy="894.7" r="3.3"/><circle cx="247.5" cy="902.2" r="3.3"/><circle cx="247.5" cy="909.6" r="3.3"/><circle cx="243.6" cy="931.1" r="3.3"/><circle cx="236.2" cy="933.0" r="3.3"/><circle cx="234.7" cy="947.0" r="3.3"/><circle cx="189.1" cy="957.2" r="3.3"/><circle cx="192.1" cy="960.0" r="3.3"/><circle cx="214.3" cy="958.2" r="3.3"/><circle cx="216.7" cy="958.2" r="3.3"/><circle cx="219.2" cy="958.2" r="3.3"/><circle cx="191.6" cy="970.3" r="3.3"/><circle cx="193.6" cy="975.9" r="3.3"/><circle cx="201.0" cy="975.9" r="3.3"/><circle cx="175.8" cy="1008.7" r="3.3"/><circle cx="212.3" cy="1013.3" r="3.3"/><circle cx="178.8" cy="1014.3" r="3.3"/><circle cx="179.8" cy="1017.1" r="3.3"/><circle cx="210.3" cy="1018.0" r="3.3"/><circle cx="218.7" cy="1020.8" r="3.3"/><circle cx="167.5" cy="1032.0" r="3.3"/><circle cx="180.8" cy="1041.4" r="3.3"/><circle cx="181.2" cy="1046.0" r="3.3"/><circle cx="194.1" cy="1038.6" r="3.3"/><circle cx="212.8" cy="1040.4" r="3.3"/><circle cx="194.5" cy="1048.8" r="3.3"/><circle cx="175.8" cy="1055.4" r="3.3"/><circle cx="175.8" cy="1060.1" r="3.3"/><circle cx="215.7" cy="1050.7" r="3.3"/><circle cx="210.8" cy="1059.1" r="3.3"/><circle cx="208.8" cy="1067.5" r="3.3"/><circle cx="211.8" cy="1075.0" r="3.3"/><circle cx="197.0" cy="1079.7" r="3.3"/><circle cx="197.0" cy="1084.4" r="3.3"/><circle cx="181.7" cy="1088.1" r="3.3"/><circle cx="225.9" cy="953.5" r="3.3"/><circle cx="224.9" cy="976.9" r="3.3"/><circle cx="226.9" cy="985.3" r="3.3"/><circle cx="231.8" cy="996.5" r="3.3"/><circle cx="251.0" cy="1006.8" r="3.3"/><circle cx="244.1" cy="1034.8" r="3.3"/><circle cx="262.3" cy="1063.8" r="3.3"/><circle cx="242.1" cy="1086.2" r="3.3"/><circle cx="255.9" cy="1083.4" r="3.3"/><circle cx="257.9" cy="1086.2" r="3.3"/><circle cx="332.6" cy="1017.1" r="3.3"/><circle cx="328.6" cy="1053.5" r="3.3"/><circle cx="178.3" cy="1090.8" r="3.3"/><circle cx="181.2" cy="1091.8" r="3.3"/><circle cx="209.3" cy="1093.6" r="3.3"/><circle cx="173.9" cy="1101.1" r="3.3"/><circle cx="194.1" cy="1104.9" r="3.3"/><circle cx="193.6" cy="1107.7" r="3.3"/><circle cx="185.2" cy="1115.1" r="3.3"/><circle cx="188.6" cy="1117.9" r="3.3"/><circle cx="190.6" cy="1114.2" r="3.3"/><circle cx="191.6" cy="1116.1" r="3.3"/><circle cx="171.9" cy="1141.3" r="3.3"/><circle cx="173.9" cy="1132.9" r="3.3"/><circle cx="186.2" cy="1132.9" r="3.3"/><circle cx="180.3" cy="1146.9" r="3.3"/><circle cx="161.5" cy="1158.1" r="3.3"/><circle cx="219.7" cy="1167.5" r="3.3"/><circle cx="185.2" cy="1175.0" r="3.3"/><circle cx="212.3" cy="1206.7" r="3.3"/><circle cx="200.5" cy="1220.8" r="3.3"/><circle cx="223.6" cy="1229.2" r="3.3"/><circle cx="226.4" cy="1097.4" r="3.3"/><circle cx="231.8" cy="1095.5" r="3.3"/><circle cx="250.5" cy="1127.3" r="3.3"/><circle cx="249.5" cy="1131.0" r="3.3"/><circle cx="339.5" cy="1104.9" r="3.3"/><circle cx="322.2" cy="1114.2" r="3.3"/><circle cx="336.0" cy="1127.3" r="3.3"/><circle cx="323.7" cy="1146.0" r="3.3"/><circle cx="221.1" cy="1260.9" r="3.3"/><circle cx="156.1" cy="1298.3" r="3.3"/><circle cx="173.4" cy="1302.9" r="3.3"/><circle cx="185.7" cy="1309.5" r="3.3"/><circle cx="185.7" cy="1313.2" r="3.3"/><circle cx="165.0" cy="1309.5" r="3.3"/><circle cx="164.0" cy="1313.2" r="3.3"/><circle cx="156.1" cy="1315.1" r="3.3"/><circle cx="203.4" cy="1310.4" r="3.3"/><circle cx="204.4" cy="1313.2" r="3.3"/><circle cx="183.2" cy="1359.0" r="3.3"/><circle cx="199.0" cy="1370.2" r="3.3"/><circle cx="225.4" cy="1236.6" r="3.3"/><circle cx="229.3" cy="1262.8" r="3.3"/><circle cx="225.9" cy="1275.8" r="3.3"/><circle cx="226.4" cy="1281.4" r="3.3"/><circle cx="226.4" cy="1310.4" r="3.3"/><circle cx="226.9" cy="1314.2" r="3.3"/><circle cx="195.0" cy="1373.9" r="3.3"/><circle cx="197.5" cy="1376.7" r="3.3"/><circle cx="200.0" cy="1373.0" r="3.3"/><circle cx="203.4" cy="1372.0" r="3.3"/><circle cx="198.0" cy="1385.1" r="3.3"/><circle cx="223.6" cy="1452.4" r="3.3"/><circle cx="247.1" cy="1409.4" r="3.3"/><circle cx="118.3" cy="1048.6" r="3.3"/><circle cx="418.3" cy="971.6" r="3.3"/><circle cx="407.5" cy="978.1" r="3.3"/><circle cx="542.9" cy="887.2" r="3.3"/><circle cx="601.4" cy="846.1" r="3.3"/><circle cx="564.9" cy="853.6" r="3.3"/><circle cx="569.8" cy="855.4" r="3.3"/><circle cx="572.3" cy="883.5" r="3.3"/><circle cx="569.8" cy="887.2" r="3.3"/><circle cx="563.4" cy="886.3" r="3.3"/><circle cx="557.5" cy="895.6" r="3.3"/><circle cx="560.5" cy="896.6" r="3.3"/><circle cx="561.0" cy="899.4" r="3.3"/><circle cx="567.9" cy="897.5" r="3.3"/><circle cx="553.6" cy="907.8" r="3.3"/><circle cx="554.6" cy="915.2" r="3.3"/><circle cx="556.5" cy="913.4" r="3.3"/><circle cx="578.2" cy="920.9" r="3.3"/><circle cx="590.0" cy="943.3" r="3.3"/><circle cx="551.8" cy="953.5" r="3.3"/><circle cx="548.9" cy="1086.2" r="3.3"/><circle cx="578.2" cy="957.2" r="3.3"/><circle cx="578.7" cy="1019.9" r="3.3"/><circle cx="574.8" cy="1039.5" r="3.3"/><circle cx="577.2" cy="1040.4" r="3.3"/><circle cx="563.4" cy="1058.2" r="3.3"/><circle cx="569.3" cy="1063.8" r="3.3"/><circle cx="571.8" cy="1063.8" r="3.3"/><circle cx="629.4" cy="1092.7" r="3.3"/><circle cx="642.2" cy="1098.3" r="3.3"/><circle cx="596.4" cy="1132.0" r="3.3"/><circle cx="619.1" cy="1162.8" r="3.3"/><circle cx="618.1" cy="1166.5" r="3.3"/><circle cx="633.4" cy="1163.7" r="3.3"/><circle cx="589.5" cy="1180.6" r="3.3"/><circle cx="584.1" cy="1220.8" r="3.3"/><circle cx="672.1" cy="1144.1" r="3.3"/><circle cx="580.2" cy="1242.2" r="3.3"/><circle cx="604.3" cy="1251.5" r="3.3"/><circle cx="590.5" cy="1257.1" r="3.3"/><circle cx="587.1" cy="1260.9" r="3.3"/><circle cx="575.7" cy="1281.4" r="3.3"/><circle cx="590.0" cy="1297.3" r="3.3"/><circle cx="555.6" cy="1335.7" r="3.3"/><circle cx="659.8" cy="1298.3" r="3.3"/><circle cx="581.2" cy="1385.1" r="3.3"/></g>
<g fill="#d6a89f"><circle cx="70.9" cy="940.8" r="3.3"/><circle cx="94.1" cy="965.1" r="3.3"/><circle cx="99.5" cy="966.0" r="3.3"/><circle cx="79.8" cy="987.5" r="3.3"/><circle cx="90.6" cy="995.9" r="3.3"/><circle cx="223.6" cy="823.7" r="3.3"/><circle cx="185.7" cy="874.1" r="3.3"/><circle cx="247.1" cy="868.5" r="3.3"/><circle cx="185.7" cy="994.6" r="3.3"/><circle cx="187.7" cy="1081.6" r="3.3"/><circle cx="195.5" cy="1175.9" r="3.3"/><circle cx="240.2" cy="1128.2" r="3.3"/><circle cx="340.0" cy="1099.3" r="3.3"/><circle cx="341.9" cy="1122.6" r="3.3"/><circle cx="323.7" cy="1152.5" r="3.3"/><circle cx="225.4" cy="1373.9" r="3.3"/><circle cx="404.6" cy="941.7" r="3.3"/><circle cx="548.4" cy="943.3" r="3.3"/><circle cx="527.7" cy="1008.7" r="3.3"/><circle cx="569.8" cy="1024.5" r="3.3"/><circle cx="574.8" cy="1025.5" r="3.3"/><circle cx="600.4" cy="1035.8" r="3.3"/><circle cx="585.6" cy="1043.2" r="3.3"/><circle cx="564.9" cy="1038.6" r="3.3"/><circle cx="617.6" cy="1099.3" r="3.3"/><circle cx="623.0" cy="1096.4" r="3.3"/><circle cx="681.0" cy="1119.8" r="3.3"/><circle cx="683.4" cy="1118.9" r="3.3"/><circle cx="682.4" cy="1175.9" r="3.3"/></g>
<g fill="#e58d7a"><circle cx="99.5" cy="952.9" r="3.3"/><circle cx="97.0" cy="958.5" r="3.3"/><circle cx="78.8" cy="960.4" r="3.3"/><circle cx="91.6" cy="959.5" r="3.3"/><circle cx="89.2" cy="970.7" r="3.3"/><circle cx="89.7" cy="979.1" r="3.3"/><circle cx="91.1" cy="990.3" r="3.3"/><circle cx="89.2" cy="1010.9" r="3.3"/><circle cx="244.1" cy="943.3" r="3.3"/><circle cx="212.3" cy="979.7" r="3.3"/><circle cx="213.3" cy="982.5" r="3.3"/><circle cx="201.4" cy="1009.6" r="3.3"/><circle cx="199.0" cy="1010.5" r="3.3"/><circle cx="212.8" cy="1010.5" r="3.3"/><circle cx="200.5" cy="1024.5" r="3.3"/><circle cx="197.0" cy="1026.4" r="3.3"/><circle cx="195.5" cy="1031.1" r="3.3"/><circle cx="179.3" cy="1037.6" r="3.3"/><circle cx="176.3" cy="1081.6" r="3.3"/><circle cx="245.1" cy="948.8" r="3.3"/><circle cx="247.1" cy="947.9" r="3.3"/><circle cx="228.8" cy="991.8" r="3.3"/><circle cx="232.3" cy="991.8" r="3.3"/><circle cx="342.9" cy="1059.1" r="3.3"/><circle cx="338.5" cy="1062.9" r="3.3"/><circle cx="189.1" cy="1090.8" r="3.3"/><circle cx="166.5" cy="1102.1" r="3.3"/><circle cx="213.3" cy="1097.4" r="3.3"/><circle cx="214.7" cy="1120.7" r="3.3"/><circle cx="199.5" cy="1130.1" r="3.3"/><circle cx="214.7" cy="1147.9" r="3.3"/><circle cx="213.8" cy="1150.7" r="3.3"/><circle cx="212.3" cy="1160.9" r="3.3"/><circle cx="207.8" cy="1175.0" r="3.3"/><circle cx="206.4" cy="1190.8" r="3.3"/><circle cx="188.6" cy="1208.6" r="3.3"/><circle cx="229.8" cy="1146.0" r="3.3"/><circle cx="232.8" cy="1206.7" r="3.3"/><circle cx="339.0" cy="1095.5" r="3.3"/><circle cx="322.7" cy="1140.4" r="3.3"/><circle cx="349.3" cy="1223.6" r="3.3"/><circle cx="195.0" cy="1258.1" r="3.3"/><circle cx="220.7" cy="1284.3" r="3.3"/><circle cx="153.2" cy="1309.5" r="3.3"/><circle cx="209.3" cy="1313.2" r="3.3"/><circle cx="240.2" cy="1247.8" r="3.3"/><circle cx="242.1" cy="1246.9" r="3.3"/><circle cx="249.0" cy="1249.7" r="3.3"/><circle cx="226.9" cy="1257.1" r="3.3"/><circle cx="321.4" cy="1347.8" r="3.3"/><circle cx="211.8" cy="1383.3" r="3.3"/><circle cx="220.7" cy="1405.7" r="3.3"/><circle cx="232.3" cy="1445.9" r="3.3"/><circle cx="550.8" cy="943.3" r="3.3"/><circle cx="581.7" cy="934.9" r="3.3"/><circle cx="594.5" cy="952.6" r="3.3"/><circle cx="569.8" cy="991.8" r="3.3"/><circle cx="600.9" cy="1001.2" r="3.3"/><circle cx="589.0" cy="1001.2" r="3.3"/><circle cx="590.5" cy="1018.9" r="3.3"/><circle cx="580.7" cy="1031.1" r="3.3"/><circle cx="580.7" cy="1037.6" r="3.3"/><circle cx="575.3" cy="1044.2" r="3.3"/><circle cx="572.3" cy="1048.8" r="3.3"/><circle cx="624.5" cy="1048.8" r="3.3"/><circle cx="621.6" cy="1052.6" r="3.3"/><circle cx="622.1" cy="1057.3" r="3.3"/><circle cx="621.1" cy="1087.2" r="3.3"/><circle cx="597.9" cy="1108.6" r="3.3"/><circle cx="594.5" cy="1116.1" r="3.3"/><circle cx="639.3" cy="1116.1" r="3.3"/><circle cx="633.9" cy="1118.9" r="3.3"/><circle cx="617.6" cy="1148.8" r="3.3"/><circle cx="560.0" cy="1168.4" r="3.3"/><circle cx="620.1" cy="1184.3" r="3.3"/><circle cx="619.1" cy="1187.1" r="3.3"/><circle cx="642.7" cy="1186.2" r="3.3"/><circle cx="583.6" cy="1186.2" r="3.3"/><circle cx="598.4" cy="1191.8" r="3.3"/><circle cx="595.5" cy="1192.7" r="3.3"/><circle cx="608.3" cy="1197.4" r="3.3"/><circle cx="618.6" cy="1209.5" r="3.3"/><circle cx="622.1" cy="1212.3" r="3.3"/><circle cx="616.1" cy="1213.3" r="3.3"/><circle cx="590.5" cy="1218.0" r="3.3"/><circle cx="580.7" cy="1219.8" r="3.3"/><circle cx="556.0" cy="1218.9" r="3.3"/><circle cx="554.6" cy="1222.6" r="3.3"/><circle cx="619.6" cy="1223.6" r="3.3"/><circle cx="629.9" cy="1228.2" r="3.3"/><circle cx="680.0" cy="1134.8" r="3.3"/><circle cx="680.5" cy="1138.5" r="3.3"/><circle cx="681.9" cy="1142.2" r="3.3"/><circle cx="668.2" cy="1157.2" r="3.3"/><circle cx="526.2" cy="1245.0" r="3.3"/><circle cx="607.3" cy="1233.8" r="3.3"/><circle cx="613.2" cy="1232.8" r="3.3"/><circle cx="616.6" cy="1233.8" r="3.3"/><circle cx="613.2" cy="1238.5" r="3.3"/><circle cx="615.2" cy="1240.3" r="3.3"/><circle cx="568.9" cy="1243.1" r="3.3"/><circle cx="572.8" cy="1245.0" r="3.3"/><circle cx="578.2" cy="1245.9" r="3.3"/><circle cx="595.9" cy="1245.0" r="3.3"/><circle cx="599.4" cy="1250.6" r="3.3"/><circle cx="595.0" cy="1256.2" r="3.3"/><circle cx="627.0" cy="1274.9" r="3.3"/><circle cx="606.3" cy="1288.9" r="3.3"/><circle cx="613.7" cy="1286.1" r="3.3"/><circle cx="590.5" cy="1289.9" r="3.3"/><circle cx="598.9" cy="1298.3" r="3.3"/><circle cx="641.3" cy="1296.4" r="3.3"/><circle cx="631.9" cy="1307.6" r="3.3"/><circle cx="633.9" cy="1328.2" r="3.3"/><circle cx="627.0" cy="1332.9" r="3.3"/><circle cx="597.9" cy="1345.0" r="3.3"/><circle cx="585.1" cy="1356.2" r="3.3"/><circle cx="661.8" cy="1289.9" r="3.3"/><circle cx="551.3" cy="1373.9" r="3.3"/><circle cx="534.1" cy="1399.2" r="3.3"/><circle cx="584.6" cy="1371.1" r="3.3"/></g>
<g fill="#ee604b"><circle cx="102.0" cy="941.7" r="3.3"/><circle cx="230.8" cy="989.0" r="3.3"/><circle cx="190.1" cy="1138.5" r="3.3"/><circle cx="173.9" cy="1146.0" r="3.3"/><circle cx="199.0" cy="1175.0" r="3.3"/><circle cx="205.4" cy="1176.8" r="3.3"/><circle cx="337.0" cy="1092.7" r="3.3"/><circle cx="212.8" cy="1255.3" r="3.3"/><circle cx="192.6" cy="1374.9" r="3.3"/><circle cx="563.9" cy="890.9" r="3.3"/><circle cx="566.4" cy="933.0" r="3.3"/><circle cx="581.7" cy="1019.9" r="3.3"/><circle cx="575.3" cy="1047.0" r="3.3"/><circle cx="580.2" cy="1049.8" r="3.3"/><circle cx="584.6" cy="1058.2" r="3.3"/><circle cx="615.6" cy="1178.7" r="3.3"/><circle cx="618.1" cy="1192.7" r="3.3"/><circle cx="615.6" cy="1221.7" r="3.3"/><circle cx="629.4" cy="1223.6" r="3.3"/><circle cx="634.4" cy="1238.5" r="3.3"/><circle cx="637.8" cy="1238.5" r="3.3"/><circle cx="639.8" cy="1235.7" r="3.3"/><circle cx="642.2" cy="1234.7" r="3.3"/><circle cx="644.2" cy="1237.5" r="3.3"/><circle cx="645.7" cy="1241.3" r="3.3"/><circle cx="635.8" cy="1244.1" r="3.3"/><circle cx="636.3" cy="1261.8" r="3.3"/><circle cx="582.2" cy="1365.6" r="3.3"/><circle cx="651.4" cy="1305.7" r="3.3"/><circle cx="653.4" cy="1308.6" r="3.3"/><circle cx="653.9" cy="1316.0" r="3.3"/><circle cx="593.5" cy="1371.1" r="3.3"/><circle cx="578.2" cy="1398.2" r="3.3"/></g>
<g fill="#bcbdc0"><circle cx="228.2" cy="809.1" r="3.3"/><circle cx="235.3" cy="809.1" r="3.3"/><circle cx="216.2" cy="821.2" r="3.3"/><circle cx="225.2" cy="820.2" r="3.3"/><circle cx="216.2" cy="826.3" r="3.3"/><circle cx="215.2" cy="832.3" r="3.3"/><circle cx="228.2" cy="830.3" r="3.3"/><circle cx="223.2" cy="837.3" r="3.3"/><circle cx="245.4" cy="837.3" r="3.3"/><circle cx="215.2" cy="842.4" r="3.3"/><circle cx="217.2" cy="846.4" r="3.3"/><circle cx="231.3" cy="842.4" r="3.3"/><circle cx="231.3" cy="847.4" r="3.3"/><circle cx="240.3" cy="845.4" r="3.3"/><circle cx="249.4" cy="846.4" r="3.3"/><circle cx="179.9" cy="860.5" r="3.3"/><circle cx="192.0" cy="865.5" r="3.3"/><circle cx="193.0" cy="870.6" r="3.3"/><circle cx="207.1" cy="862.5" r="3.3"/><circle cx="217.2" cy="861.5" r="3.3"/><circle cx="223.2" cy="857.5" r="3.3"/><circle cx="227.2" cy="862.5" r="3.3"/><circle cx="230.3" cy="867.5" r="3.3"/><circle cx="237.3" cy="869.6" r="3.3"/><circle cx="201.1" cy="875.6" r="3.3"/><circle cx="223.2" cy="870.6" r="3.3"/><circle cx="226.2" cy="875.6" r="3.3"/><circle cx="232.3" cy="878.6" r="3.3"/><circle cx="224.2" cy="880.6" r="3.3"/><circle cx="221.2" cy="884.7" r="3.3"/><circle cx="211.1" cy="878.6" r="3.3"/><circle cx="216.2" cy="877.6" r="3.3"/><circle cx="241.3" cy="879.6" r="3.3"/><circle cx="190.0" cy="882.6" r="3.3"/><circle cx="196.0" cy="881.6" r="3.3"/><circle cx="188.0" cy="888.7" r="3.3"/><circle cx="194.0" cy="889.7" r="3.3"/><circle cx="249.4" cy="890.7" r="3.3"/><circle cx="166.8" cy="895.7" r="3.3"/><circle cx="182.9" cy="897.8" r="3.3"/><circle cx="206.1" cy="896.7" r="3.3"/><circle cx="213.1" cy="895.7" r="3.3"/><circle cx="225.2" cy="902.8" r="3.3"/><circle cx="234.3" cy="903.8" r="3.3"/><circle cx="242.3" cy="903.8" r="3.3"/><circle cx="249.4" cy="900.8" r="3.3"/><circle cx="194.0" cy="905.8" r="3.3"/><circle cx="204.1" cy="904.8" r="3.3"/><circle cx="194.0" cy="912.9" r="3.3"/><circle cx="199.0" cy="912.9" r="3.3"/><circle cx="210.1" cy="909.8" r="3.3"/><circle cx="210.1" cy="915.9" r="3.3"/><circle cx="221.2" cy="912.9" r="3.3"/><circle cx="247.4" cy="912.9" r="3.3"/><circle cx="175.9" cy="917.9" r="3.3"/><circle cx="186.0" cy="916.9" r="3.3"/><circle cx="192.0" cy="920.9" r="3.3"/><circle cx="208.1" cy="924.9" r="3.3"/><circle cx="215.2" cy="926.0" r="3.3"/><circle cx="228.2" cy="923.9" r="3.3"/><circle cx="245.4" cy="929.0" r="3.3"/><circle cx="89.3" cy="932.0" r="3.3"/><circle cx="187.0" cy="933.0" r="3.3"/><circle cx="206.1" cy="933.0" r="3.3"/><circle cx="208.1" cy="938.0" r="3.3"/><circle cx="234.3" cy="934.0" r="3.3"/><circle cx="195.0" cy="939.0" r="3.3"/><circle cx="265.1" cy="818.2" r="3.3"/><circle cx="259.1" cy="827.3" r="3.3"/><circle cx="255.0" cy="842.4" r="3.3"/><circle cx="272.2" cy="850.4" r="3.3"/><circle cx="271.1" cy="855.5" r="3.3"/><circle cx="287.3" cy="853.4" r="3.3"/><circle cx="267.1" cy="865.5" r="3.3"/><circle cx="277.2" cy="866.5" r="3.3"/><circle cx="252.0" cy="883.7" r="3.3"/><circle cx="262.1" cy="884.7" r="3.3"/><circle cx="277.2" cy="895.7" r="3.3"/><circle cx="250.0" cy="912.9" r="3.3"/><circle cx="268.1" cy="915.9" r="3.3"/><circle cx="293.3" cy="914.9" r="3.3"/><circle cx="255.0" cy="930.0" r="3.3"/><circle cx="263.1" cy="940.1" r="3.3"/><circle cx="284.2" cy="939.0" r="3.3"/><circle cx="554.7" cy="827.3" r="3.3"/><circle cx="584.9" cy="828.3" r="3.3"/><circle cx="604.1" cy="846.4" r="3.3"/><circle cx="542.6" cy="843.4" r="3.3"/><circle cx="566.8" cy="845.4" r="3.3"/><circle cx="562.8" cy="853.4" r="3.3"/><circle cx="567.8" cy="855.5" r="3.3"/><circle cx="571.9" cy="855.5" r="3.3"/><circle cx="616.2" cy="853.4" r="3.3"/><circle cx="559.8" cy="868.5" r="3.3"/><circle cx="566.8" cy="871.6" r="3.3"/><circle cx="560.8" cy="875.6" r="3.3"/><circle cx="573.9" cy="878.6" r="3.3"/><circle cx="564.8" cy="882.6" r="3.3"/><circle cx="541.6" cy="885.7" r="3.3"/><circle cx="572.9" cy="885.7" r="3.3"/><circle cx="574.9" cy="890.7" r="3.3"/><circle cx="559.8" cy="889.7" r="3.3"/><circle cx="553.7" cy="893.7" r="3.3"/><circle cx="558.8" cy="897.8" r="3.3"/><circle cx="565.8" cy="896.7" r="3.3"/><circle cx="568.8" cy="900.8" r="3.3"/><circle cx="543.7" cy="897.8" r="3.3"/><circle cx="554.7" cy="905.8" r="3.3"/><circle cx="600.1" cy="905.8" r="3.3"/><circle cx="581.9" cy="907.8" r="3.3"/><circle cx="574.9" cy="909.8" r="3.3"/><circle cx="553.7" cy="912.9" r="3.3"/><circle cx="562.8" cy="912.9" r="3.3"/><circle cx="574.9" cy="920.9" r="3.3"/><circle cx="544.7" cy="923.9" r="3.3"/><circle cx="605.1" cy="921.9" r="3.3"/><circle cx="578.9" cy="923.9" r="3.3"/><circle cx="578.9" cy="929.0" r="3.3"/><circle cx="554.7" cy="928.0" r="3.3"/><circle cx="564.8" cy="927.0" r="3.3"/><circle cx="534.6" cy="932.0" r="3.3"/><circle cx="548.7" cy="933.0" r="3.3"/><circle cx="572.9" cy="932.0" r="3.3"/><circle cx="568.8" cy="937.0" r="3.3"/><circle cx="591.0" cy="941.1" r="3.3"/><circle cx="70.1" cy="946.0" r="3.3"/><circle cx="72.2" cy="950.1" r="3.3"/><circle cx="70.1" cy="953.1" r="3.3"/><circle cx="77.2" cy="950.1" r="3.3"/><circle cx="82.2" cy="950.1" r="3.3"/><circle cx="87.3" cy="947.0" r="3.3"/><circle cx="88.3" cy="951.1" r="3.3"/><circle cx="68.1" cy="961.1" r="3.3"/><circle cx="82.2" cy="963.1" r="3.3"/><circle cx="85.2" cy="965.2" r="3.3"/><circle cx="79.2" cy="969.2" r="3.3"/><circle cx="86.3" cy="968.2" r="3.3"/><circle cx="75.2" cy="973.2" r="3.3"/><circle cx="80.2" cy="976.2" r="3.3"/><circle cx="94.3" cy="976.2" r="3.3"/><circle cx="98.3" cy="979.3" r="3.3"/><circle cx="65.1" cy="977.2" r="3.3"/><circle cx="84.2" cy="984.3" r="3.3"/><circle cx="95.3" cy="985.3" r="3.3"/><circle cx="98.3" cy="989.3" r="3.3"/><circle cx="73.2" cy="987.3" r="3.3"/><circle cx="94.3" cy="994.4" r="3.3"/><circle cx="86.3" cy="994.4" r="3.3"/><circle cx="73.2" cy="999.4" r="3.3"/><circle cx="87.3" cy="999.4" r="3.3"/><circle cx="92.3" cy="1003.4" r="3.3"/><circle cx="101.4" cy="999.4" r="3.3"/><circle cx="106.4" cy="1000.4" r="3.3"/><circle cx="71.1" cy="1007.5" r="3.3"/><circle cx="102.4" cy="1008.5" r="3.3"/><circle cx="110.4" cy="1006.5" r="3.3"/><circle cx="112.4" cy="1012.5" r="3.3"/><circle cx="96.3" cy="1015.5" r="3.3"/><circle cx="99.3" cy="1020.5" r="3.3"/><circle cx="107.4" cy="1017.5" r="3.3"/><circle cx="84.2" cy="1024.6" r="3.3"/><circle cx="89.3" cy="1025.6" r="3.3"/><circle cx="93.3" cy="1025.6" r="3.3"/><circle cx="117.5" cy="1046.7" r="3.3"/><circle cx="178.9" cy="943.0" r="3.3"/><circle cx="194.0" cy="944.0" r="3.3"/><circle cx="216.2" cy="943.0" r="3.3"/><circle cx="172.9" cy="948.0" r="3.3"/><circle cx="193.0" cy="950.1" r="3.3"/><circle cx="202.1" cy="950.1" r="3.3"/><circle cx="204.1" cy="954.1" r="3.3"/><circle cx="226.2" cy="950.1" r="3.3"/><circle cx="228.2" cy="954.1" r="3.3"/><circle cx="235.3" cy="949.0" r="3.3"/><circle cx="187.0" cy="956.1" r="3.3"/><circle cx="193.0" cy="958.1" r="3.3"/><circle cx="216.2" cy="956.1" r="3.3"/><circle cx="221.2" cy="958.1" r="3.3"/><circle cx="212.1" cy="962.1" r="3.3"/><circle cx="225.2" cy="963.1" r="3.3"/><circle cx="240.3" cy="965.2" r="3.3"/><circle cx="240.3" cy="970.2" r="3.3"/><circle cx="190.0" cy="968.2" r="3.3"/><circle cx="192.0" cy="973.2" r="3.3"/><circle cx="206.1" cy="968.2" r="3.3"/><circle cx="205.1" cy="972.2" r="3.3"/><circle cx="176.9" cy="973.2" r="3.3"/><circle cx="211.1" cy="976.2" r="3.3"/><circle cx="225.2" cy="974.2" r="3.3"/><circle cx="200.1" cy="978.3" r="3.3"/><circle cx="240.3" cy="982.3" r="3.3"/><circle cx="225.2" cy="983.3" r="3.3"/><circle cx="222.2" cy="987.3" r="3.3"/><circle cx="217.2" cy="988.3" r="3.3"/><circle cx="194.0" cy="991.3" r="3.3"/><circle cx="207.1" cy="990.3" r="3.3"/><circle cx="210.1" cy="994.4" r="3.3"/><circle cx="187.0" cy="999.4" r="3.3"/><circle cx="232.3" cy="999.4" r="3.3"/><circle cx="228.2" cy="1004.4" r="3.3"/><circle cx="174.9" cy="1001.4" r="3.3"/><circle cx="173.9" cy="1006.5" r="3.3"/><circle cx="178.9" cy="1004.4" r="3.3"/><circle cx="163.8" cy="1008.5" r="3.3"/><circle cx="188.0" cy="1008.5" r="3.3"/><circle cx="194.0" cy="1006.5" r="3.3"/><circle cx="212.1" cy="1006.5" r="3.3"/><circle cx="180.9" cy="1012.5" r="3.3"/><circle cx="187.0" cy="1012.5" r="3.3"/><circle cx="212.1" cy="1015.5" r="3.3"/><circle cx="211.1" cy="1020.5" r="3.3"/><circle cx="216.2" cy="1021.6" r="3.3"/><circle cx="164.8" cy="1017.5" r="3.3"/><circle cx="175.9" cy="1019.5" r="3.3"/><circle cx="182.9" cy="1019.5" r="3.3"/><circle cx="186.0" cy="1022.6" r="3.3"/><circle cx="229.3" cy="1025.6" r="3.3"/><circle cx="209.1" cy="1024.6" r="3.3"/><circle cx="167.8" cy="1029.6" r="3.3"/><circle cx="167.8" cy="1035.7" r="3.3"/><circle cx="193.0" cy="1033.6" r="3.3"/><circle cx="190.0" cy="1038.7" r="3.3"/><circle cx="206.1" cy="1034.6" r="3.3"/><circle cx="213.1" cy="1037.7" r="3.3"/><circle cx="221.2" cy="1038.7" r="3.3"/><circle cx="245.4" cy="1036.7" r="3.3"/><circle cx="180.9" cy="1043.7" r="3.3"/><circle cx="176.9" cy="1051.8" r="3.3"/><circle cx="175.9" cy="1057.8" r="3.3"/><circle cx="191.0" cy="1050.8" r="3.3"/><circle cx="191.0" cy="1055.8" r="3.3"/><circle cx="216.2" cy="1048.7" r="3.3"/><circle cx="217.2" cy="1053.8" r="3.3"/><circle cx="210.1" cy="1053.8" r="3.3"/><circle cx="204.1" cy="1057.8" r="3.3"/><circle cx="168.8" cy="1057.8" r="3.3"/><circle cx="210.1" cy="1062.8" r="3.3"/><circle cx="206.1" cy="1068.9" r="3.3"/><circle cx="151.7" cy="1069.9" r="3.3"/><circle cx="189.0" cy="1066.9" r="3.3"/><circle cx="228.2" cy="1067.9" r="3.3"/><circle cx="184.9" cy="1071.9" r="3.3"/><circle cx="184.9" cy="1076.9" r="3.3"/><circle cx="211.1" cy="1072.9" r="3.3"/><circle cx="219.2" cy="1073.9" r="3.3"/><circle cx="226.2" cy="1076.9" r="3.3"/><circle cx="233.3" cy="1073.9" r="3.3"/><circle cx="234.3" cy="1076.9" r="3.3"/><circle cx="153.7" cy="1078.0" r="3.3"/><circle cx="153.7" cy="1082.0" r="3.3"/><circle cx="197.0" cy="1076.9" r="3.3"/><circle cx="198.0" cy="1082.0" r="3.3"/><circle cx="169.8" cy="1082.0" r="3.3"/><circle cx="245.4" cy="1080.0" r="3.3"/><circle cx="242.3" cy="1084.0" r="3.3"/><circle cx="163.8" cy="1090.0" r="3.3"/><circle cx="176.9" cy="1088.0" r="3.3"/><circle cx="208.1" cy="1092.1" r="3.3"/><circle cx="239.3" cy="1090.0" r="3.3"/><circle cx="252.0" cy="944.0" r="3.3"/><circle cx="263.1" cy="943.0" r="3.3"/><circle cx="285.2" cy="944.0" r="3.3"/><circle cx="297.3" cy="944.0" r="3.3"/><circle cx="274.2" cy="950.1" r="3.3"/><circle cx="287.3" cy="949.0" r="3.3"/><circle cx="251.0" cy="964.2" r="3.3"/><circle cx="262.1" cy="965.2" r="3.3"/><circle cx="299.3" cy="972.2" r="3.3"/><circle cx="259.1" cy="979.3" r="3.3"/><circle cx="251.0" cy="983.3" r="3.3"/><circle cx="250.0" cy="988.3" r="3.3"/><circle cx="264.1" cy="985.3" r="3.3"/><circle cx="265.1" cy="996.4" r="3.3"/><circle cx="252.0" cy="998.4" r="3.3"/><circle cx="251.0" cy="1003.4" r="3.3"/><circle cx="255.0" cy="1008.5" r="3.3"/><circle cx="295.3" cy="998.4" r="3.3"/><circle cx="317.5" cy="1004.4" r="3.3"/><circle cx="317.5" cy="1009.5" r="3.3"/><circle cx="313.4" cy="1012.5" r="3.3"/><circle cx="317.5" cy="1014.5" r="3.3"/><circle cx="271.1" cy="1012.5" r="3.3"/><circle cx="259.1" cy="1019.5" r="3.3"/><circle cx="294.3" cy="1016.5" r="3.3"/><circle cx="333.6" cy="1014.5" r="3.3"/><circle cx="333.6" cy="1020.5" r="3.3"/><circle cx="304.4" cy="1028.6" r="3.3"/><circle cx="268.1" cy="1037.7" r="3.3"/><circle cx="272.2" cy="1041.7" r="3.3"/><circle cx="340.6" cy="1038.7" r="3.3"/><circle cx="285.2" cy="1048.7" r="3.3"/><circle cx="328.5" cy="1049.8" r="3.3"/><circle cx="344.7" cy="1056.8" r="3.3"/><circle cx="273.2" cy="1058.8" r="3.3"/><circle cx="263.1" cy="1061.8" r="3.3"/><circle cx="298.3" cy="1059.8" r="3.3"/><circle cx="308.4" cy="1061.8" r="3.3"/><circle cx="305.4" cy="1066.9" r="3.3"/><circle cx="302.4" cy="1069.9" r="3.3"/><circle cx="319.5" cy="1059.8" r="3.3"/><circle cx="315.5" cy="1062.8" r="3.3"/><circle cx="319.5" cy="1065.9" r="3.3"/><circle cx="320.5" cy="1075.9" r="3.3"/><circle cx="315.5" cy="1080.0" r="3.3"/><circle cx="316.5" cy="1087.0" r="3.3"/><circle cx="335.6" cy="1080.0" r="3.3"/><circle cx="337.6" cy="1085.0" r="3.3"/><circle cx="338.6" cy="1090.0" r="3.3"/><circle cx="345.7" cy="1087.0" r="3.3"/><circle cx="253.0" cy="1085.0" r="3.3"/><circle cx="258.1" cy="1089.0" r="3.3"/><circle cx="265.1" cy="1093.1" r="3.3"/><circle cx="423.2" cy="962.1" r="3.3"/><circle cx="416.2" cy="971.2" r="3.3"/><circle cx="408.1" cy="975.2" r="3.3"/><circle cx="414.1" cy="993.4" r="3.3"/><circle cx="431.3" cy="998.4" r="3.3"/><circle cx="439.3" cy="1005.4" r="3.3"/><circle cx="597.0" cy="955.1" r="3.3"/><circle cx="553.7" cy="954.1" r="3.3"/><circle cx="557.8" cy="956.1" r="3.3"/><circle cx="579.9" cy="956.1" r="3.3"/><circle cx="571.9" cy="963.1" r="3.3"/><circle cx="556.7" cy="965.2" r="3.3"/><circle cx="636.3" cy="968.2" r="3.3"/><circle cx="605.1" cy="974.2" r="3.3"/><circle cx="610.1" cy="978.3" r="3.3"/><circle cx="614.1" cy="982.3" r="3.3"/><circle cx="577.9" cy="980.3" r="3.3"/><circle cx="543.7" cy="985.3" r="3.3"/><circle cx="556.7" cy="985.3" r="3.3"/><circle cx="564.8" cy="987.3" r="3.3"/><circle cx="534.6" cy="994.4" r="3.3"/><circle cx="537.6" cy="998.4" r="3.3"/><circle cx="526.5" cy="999.4" r="3.3"/><circle cx="576.9" cy="998.4" r="3.3"/><circle cx="580.9" cy="1000.4" r="3.3"/><circle cx="630.3" cy="1001.4" r="3.3"/><circle cx="579.9" cy="1008.5" r="3.3"/><circle cx="591.0" cy="1008.5" r="3.3"/><circle cx="575.9" cy="1014.5" r="3.3"/><circle cx="570.8" cy="1017.5" r="3.3"/><circle cx="562.8" cy="1020.5" r="3.3"/><circle cx="608.1" cy="1021.6" r="3.3"/><circle cx="518.5" cy="1024.6" r="3.3"/><circle cx="512.4" cy="1027.6" r="3.3"/><circle cx="577.9" cy="1027.6" r="3.3"/><circle cx="586.0" cy="1031.6" r="3.3"/><circle cx="631.3" cy="1028.6" r="3.3"/><circle cx="566.8" cy="1031.6" r="3.3"/><circle cx="575.9" cy="1037.7" r="3.3"/><circle cx="608.1" cy="1044.7" r="3.3"/><circle cx="622.2" cy="1040.7" r="3.3"/><circle cx="615.2" cy="1049.8" r="3.3"/><circle cx="507.4" cy="1050.8" r="3.3"/><circle cx="569.8" cy="1052.8" r="3.3"/><circle cx="563.8" cy="1054.8" r="3.3"/><circle cx="625.2" cy="1059.8" r="3.3"/><circle cx="541.6" cy="1061.8" r="3.3"/><circle cx="561.8" cy="1060.8" r="3.3"/><circle cx="569.8" cy="1065.9" r="3.3"/><circle cx="568.8" cy="1071.9" r="3.3"/><circle cx="570.8" cy="1076.9" r="3.3"/><circle cx="583.9" cy="1070.9" r="3.3"/><circle cx="587.0" cy="1073.9" r="3.3"/><circle cx="631.3" cy="1070.9" r="3.3"/><circle cx="542.6" cy="1079.0" r="3.3"/><circle cx="554.7" cy="1078.0" r="3.3"/><circle cx="562.8" cy="1076.9" r="3.3"/><circle cx="566.8" cy="1081.0" r="3.3"/><circle cx="594.0" cy="1079.0" r="3.3"/><circle cx="548.7" cy="1084.0" r="3.3"/><circle cx="550.7" cy="1089.0" r="3.3"/><circle cx="610.1" cy="1084.0" r="3.3"/><circle cx="638.3" cy="1085.0" r="3.3"/><circle cx="576.9" cy="1093.1" r="3.3"/><circle cx="670.1" cy="1090.0" r="3.3"/><circle cx="163.8" cy="1095.0" r="3.3"/><circle cx="175.9" cy="1095.0" r="3.3"/><circle cx="187.0" cy="1096.0" r="3.3"/><circle cx="222.2" cy="1096.0" r="3.3"/><circle cx="229.3" cy="1096.0" r="3.3"/><circle cx="239.3" cy="1095.0" r="3.3"/><circle cx="170.8" cy="1100.0" r="3.3"/><circle cx="175.9" cy="1101.0" r="3.3"/><circle cx="167.8" cy="1106.1" r="3.3"/><circle cx="132.6" cy="1111.1" r="3.3"/><circle cx="132.6" cy="1115.1" r="3.3"/><circle cx="196.0" cy="1104.1" r="3.3"/><circle cx="190.0" cy="1107.1" r="3.3"/><circle cx="203.1" cy="1104.1" r="3.3"/><circle cx="212.1" cy="1104.1" r="3.3"/><circle cx="224.2" cy="1105.1" r="3.3"/><circle cx="231.3" cy="1105.1" r="3.3"/><circle cx="235.3" cy="1104.1" r="3.3"/><circle cx="243.4" cy="1106.1" r="3.3"/><circle cx="178.9" cy="1112.1" r="3.3"/><circle cx="191.0" cy="1112.1" r="3.3"/><circle cx="187.0" cy="1116.2" r="3.3"/><circle cx="208.1" cy="1120.2" r="3.3"/><circle cx="220.2" cy="1119.2" r="3.3"/><circle cx="234.3" cy="1116.2" r="3.3"/><circle cx="225.2" cy="1128.2" r="3.3"/><circle cx="169.8" cy="1135.3" r="3.3"/><circle cx="175.9" cy="1134.3" r="3.3"/><circle cx="180.9" cy="1134.3" r="3.3"/><circle cx="189.0" cy="1131.3" r="3.3"/><circle cx="169.8" cy="1140.3" r="3.3"/><circle cx="180.9" cy="1142.3" r="3.3"/><circle cx="239.3" cy="1139.3" r="3.3"/><circle cx="188.0" cy="1150.4" r="3.3"/><circle cx="205.1" cy="1144.4" r="3.3"/><circle cx="235.3" cy="1146.4" r="3.3"/><circle cx="145.7" cy="1147.4" r="3.3"/><circle cx="160.8" cy="1148.4" r="3.3"/><circle cx="161.8" cy="1155.4" r="3.3"/><circle cx="173.9" cy="1149.4" r="3.3"/><circle cx="197.0" cy="1154.4" r="3.3"/><circle cx="205.1" cy="1153.4" r="3.3"/><circle cx="212.1" cy="1155.4" r="3.3"/><circle cx="174.9" cy="1157.4" r="3.3"/><circle cx="186.0" cy="1157.4" r="3.3"/><circle cx="159.8" cy="1165.5" r="3.3"/><circle cx="158.8" cy="1168.5" r="3.3"/><circle cx="217.2" cy="1165.5" r="3.3"/><circle cx="223.2" cy="1168.5" r="3.3"/><circle cx="246.4" cy="1167.5" r="3.3"/><circle cx="187.0" cy="1173.6" r="3.3"/><circle cx="191.0" cy="1176.6" r="3.3"/><circle cx="216.2" cy="1173.6" r="3.3"/><circle cx="178.9" cy="1177.6" r="3.3"/><circle cx="233.3" cy="1175.6" r="3.3"/><circle cx="245.4" cy="1178.6" r="3.3"/><circle cx="190.0" cy="1182.6" r="3.3"/><circle cx="207.1" cy="1182.6" r="3.3"/><circle cx="218.2" cy="1186.6" r="3.3"/><circle cx="230.3" cy="1181.6" r="3.3"/><circle cx="235.3" cy="1185.6" r="3.3"/><circle cx="199.0" cy="1202.8" r="3.3"/><circle cx="221.2" cy="1199.7" r="3.3"/><circle cx="209.1" cy="1204.8" r="3.3"/><circle cx="216.2" cy="1203.8" r="3.3"/><circle cx="213.1" cy="1209.8" r="3.3"/><circle cx="243.4" cy="1199.7" r="3.3"/><circle cx="192.0" cy="1206.8" r="3.3"/><circle cx="237.3" cy="1209.8" r="3.3"/><circle cx="179.9" cy="1214.8" r="3.3"/><circle cx="177.9" cy="1217.9" r="3.3"/><circle cx="201.1" cy="1222.9" r="3.3"/><circle cx="203.1" cy="1227.9" r="3.3"/><circle cx="204.1" cy="1233.0" r="3.3"/><circle cx="224.2" cy="1225.9" r="3.3"/><circle cx="225.2" cy="1231.0" r="3.3"/><circle cx="221.2" cy="1238.0" r="3.3"/><circle cx="226.2" cy="1239.0" r="3.3"/><circle cx="230.3" cy="1243.0" r="3.3"/><circle cx="236.3" cy="1243.0" r="3.3"/><circle cx="270.1" cy="1096.0" r="3.3"/><circle cx="330.6" cy="1097.0" r="3.3"/><circle cx="343.7" cy="1100.0" r="3.3"/><circle cx="342.6" cy="1105.1" r="3.3"/><circle cx="339.6" cy="1109.1" r="3.3"/><circle cx="339.6" cy="1113.1" r="3.3"/><circle cx="336.6" cy="1116.2" r="3.3"/><circle cx="333.6" cy="1120.2" r="3.3"/><circle cx="353.7" cy="1105.1" r="3.3"/><circle cx="251.0" cy="1106.1" r="3.3"/><circle cx="263.1" cy="1109.1" r="3.3"/><circle cx="293.3" cy="1108.1" r="3.3"/><circle cx="323.5" cy="1111.1" r="3.3"/><circle cx="326.5" cy="1114.1" r="3.3"/><circle cx="263.1" cy="1117.2" r="3.3"/><circle cx="270.1" cy="1120.2" r="3.3"/><circle cx="284.2" cy="1121.2" r="3.3"/><circle cx="282.2" cy="1125.2" r="3.3"/><circle cx="326.5" cy="1123.2" r="3.3"/><circle cx="331.6" cy="1125.2" r="3.3"/><circle cx="251.0" cy="1129.2" r="3.3"/><circle cx="259.1" cy="1125.2" r="3.3"/><circle cx="265.1" cy="1127.2" r="3.3"/><circle cx="356.7" cy="1125.2" r="3.3"/><circle cx="315.5" cy="1125.2" r="3.3"/><circle cx="315.5" cy="1130.3" r="3.3"/><circle cx="337.6" cy="1129.2" r="3.3"/><circle cx="335.6" cy="1132.3" r="3.3"/><circle cx="340.6" cy="1131.3" r="3.3"/><circle cx="280.2" cy="1134.3" r="3.3"/><circle cx="295.3" cy="1139.3" r="3.3"/><circle cx="305.4" cy="1142.3" r="3.3"/><circle cx="322.5" cy="1144.4" r="3.3"/><circle cx="325.5" cy="1148.4" r="3.3"/><circle cx="329.6" cy="1148.4" r="3.3"/><circle cx="285.2" cy="1147.4" r="3.3"/><circle cx="315.5" cy="1150.4" r="3.3"/><circle cx="267.1" cy="1157.4" r="3.3"/><circle cx="299.3" cy="1157.4" r="3.3"/><circle cx="322.5" cy="1155.4" r="3.3"/><circle cx="319.5" cy="1168.5" r="3.3"/><circle cx="324.5" cy="1172.5" r="3.3"/><circle cx="259.1" cy="1183.6" r="3.3"/><circle cx="354.7" cy="1188.7" r="3.3"/><circle cx="251.0" cy="1195.7" r="3.3"/><circle cx="270.1" cy="1197.7" r="3.3"/><circle cx="316.5" cy="1204.8" r="3.3"/><circle cx="263.1" cy="1205.8" r="3.3"/><circle cx="269.1" cy="1213.8" r="3.3"/><circle cx="274.2" cy="1237.0" r="3.3"/><circle cx="254.0" cy="1243.0" r="3.3"/><circle cx="581.9" cy="1095.0" r="3.3"/><circle cx="629.3" cy="1095.0" r="3.3"/><circle cx="643.4" cy="1096.0" r="3.3"/><circle cx="572.9" cy="1100.0" r="3.3"/><circle cx="567.8" cy="1105.1" r="3.3"/><circle cx="538.6" cy="1104.1" r="3.3"/><circle cx="543.7" cy="1109.1" r="3.3"/><circle cx="551.7" cy="1104.1" r="3.3"/><circle cx="461.1" cy="1112.1" r="3.3"/><circle cx="562.8" cy="1111.1" r="3.3"/><circle cx="587.0" cy="1111.1" r="3.3"/><circle cx="587.0" cy="1117.2" r="3.3"/><circle cx="547.7" cy="1116.2" r="3.3"/><circle cx="638.3" cy="1126.2" r="3.3"/><circle cx="649.4" cy="1126.2" r="3.3"/><circle cx="554.7" cy="1123.2" r="3.3"/><circle cx="549.7" cy="1133.3" r="3.3"/><circle cx="551.7" cy="1139.3" r="3.3"/><circle cx="551.7" cy="1143.3" r="3.3"/><circle cx="600.1" cy="1130.3" r="3.3"/><circle cx="607.1" cy="1131.3" r="3.3"/><circle cx="597.0" cy="1137.3" r="3.3"/><circle cx="624.2" cy="1139.3" r="3.3"/><circle cx="563.8" cy="1147.4" r="3.3"/><circle cx="588.0" cy="1156.4" r="3.3"/><circle cx="623.2" cy="1162.5" r="3.3"/><circle cx="555.7" cy="1158.5" r="3.3"/><circle cx="558.8" cy="1161.5" r="3.3"/><circle cx="577.9" cy="1159.5" r="3.3"/><circle cx="636.3" cy="1162.5" r="3.3"/><circle cx="620.2" cy="1164.5" r="3.3"/><circle cx="633.3" cy="1166.5" r="3.3"/><circle cx="491.3" cy="1171.5" r="3.3"/><circle cx="640.3" cy="1171.5" r="3.3"/><circle cx="589.0" cy="1178.6" r="3.3"/><circle cx="593.0" cy="1180.6" r="3.3"/><circle cx="602.1" cy="1177.6" r="3.3"/><circle cx="627.2" cy="1178.6" r="3.3"/><circle cx="642.3" cy="1181.6" r="3.3"/><circle cx="587.0" cy="1199.7" r="3.3"/><circle cx="593.0" cy="1198.7" r="3.3"/><circle cx="629.3" cy="1201.8" r="3.3"/><circle cx="558.8" cy="1202.8" r="3.3"/><circle cx="543.7" cy="1206.8" r="3.3"/><circle cx="607.1" cy="1205.8" r="3.3"/><circle cx="609.1" cy="1209.8" r="3.3"/><circle cx="565.8" cy="1210.8" r="3.3"/><circle cx="543.7" cy="1213.8" r="3.3"/><circle cx="582.9" cy="1214.8" r="3.3"/><circle cx="586.0" cy="1218.9" r="3.3"/><circle cx="600.1" cy="1232.0" r="3.3"/><circle cx="576.9" cy="1232.0" r="3.3"/><circle cx="539.6" cy="1233.0" r="3.3"/><circle cx="539.6" cy="1238.0" r="3.3"/><circle cx="533.6" cy="1239.0" r="3.3"/><circle cx="577.9" cy="1241.0" r="3.3"/><circle cx="669.5" cy="1106.1" r="3.3"/><circle cx="666.5" cy="1112.1" r="3.3"/><circle cx="659.4" cy="1116.2" r="3.3"/><circle cx="684.6" cy="1116.2" r="3.3"/><circle cx="674.5" cy="1126.2" r="3.3"/><circle cx="684.6" cy="1128.2" r="3.3"/><circle cx="683.6" cy="1132.3" r="3.3"/><circle cx="669.5" cy="1134.3" r="3.3"/><circle cx="673.5" cy="1142.3" r="3.3"/><circle cx="678.5" cy="1142.3" r="3.3"/><circle cx="658.4" cy="1145.4" r="3.3"/><circle cx="679.6" cy="1149.4" r="3.3"/><circle cx="668.5" cy="1244.1" r="3.3"/><circle cx="197.0" cy="1249.0" r="3.3"/><circle cx="196.0" cy="1254.1" r="3.3"/><circle cx="219.2" cy="1250.0" r="3.3"/><circle cx="239.3" cy="1253.0" r="3.3"/><circle cx="216.2" cy="1259.1" r="3.3"/><circle cx="225.2" cy="1261.1" r="3.3"/><circle cx="233.3" cy="1257.1" r="3.3"/><circle cx="224.2" cy="1266.1" r="3.3"/><circle cx="231.3" cy="1264.1" r="3.3"/><circle cx="233.3" cy="1271.2" r="3.3"/><circle cx="247.4" cy="1276.2" r="3.3"/><circle cx="226.2" cy="1279.2" r="3.3"/><circle cx="238.3" cy="1281.2" r="3.3"/><circle cx="207.1" cy="1283.3" r="3.3"/><circle cx="199.0" cy="1287.3" r="3.3"/><circle cx="180.9" cy="1290.3" r="3.3"/><circle cx="209.1" cy="1290.3" r="3.3"/><circle cx="232.3" cy="1291.3" r="3.3"/><circle cx="213.1" cy="1295.3" r="3.3"/><circle cx="199.0" cy="1298.4" r="3.3"/><circle cx="151.7" cy="1300.4" r="3.3"/><circle cx="156.7" cy="1302.4" r="3.3"/><circle cx="172.9" cy="1300.4" r="3.3"/><circle cx="174.9" cy="1305.4" r="3.3"/><circle cx="191.0" cy="1301.4" r="3.3"/><circle cx="215.2" cy="1302.4" r="3.3"/><circle cx="222.2" cy="1302.4" r="3.3"/><circle cx="158.8" cy="1307.4" r="3.3"/><circle cx="163.8" cy="1307.4" r="3.3"/><circle cx="188.0" cy="1311.5" r="3.3"/><circle cx="199.0" cy="1305.4" r="3.3"/><circle cx="204.1" cy="1308.4" r="3.3"/><circle cx="152.7" cy="1315.5" r="3.3"/><circle cx="166.8" cy="1311.5" r="3.3"/><circle cx="179.9" cy="1316.5" r="3.3"/><circle cx="224.2" cy="1310.5" r="3.3"/><circle cx="228.2" cy="1312.5" r="3.3"/><circle cx="218.2" cy="1315.5" r="3.3"/><circle cx="204.1" cy="1315.5" r="3.3"/><circle cx="216.2" cy="1322.5" r="3.3"/><circle cx="216.2" cy="1327.6" r="3.3"/><circle cx="206.1" cy="1326.6" r="3.3"/><circle cx="207.1" cy="1330.6" r="3.3"/><circle cx="225.2" cy="1330.6" r="3.3"/><circle cx="237.3" cy="1329.6" r="3.3"/><circle cx="229.3" cy="1336.6" r="3.3"/><circle cx="209.1" cy="1345.7" r="3.3"/><circle cx="197.0" cy="1350.7" r="3.3"/><circle cx="191.0" cy="1353.8" r="3.3"/><circle cx="190.0" cy="1356.8" r="3.3"/><circle cx="181.9" cy="1360.8" r="3.3"/><circle cx="203.1" cy="1360.8" r="3.3"/><circle cx="209.1" cy="1362.8" r="3.3"/><circle cx="203.1" cy="1367.9" r="3.3"/><circle cx="189.0" cy="1372.9" r="3.3"/><circle cx="197.0" cy="1372.9" r="3.3"/><circle cx="201.1" cy="1370.9" r="3.3"/><circle cx="203.1" cy="1375.9" r="3.3"/><circle cx="208.1" cy="1376.9" r="3.3"/><circle cx="199.0" cy="1383.0" r="3.3"/><circle cx="204.1" cy="1385.0" r="3.3"/><circle cx="223.2" cy="1392.0" r="3.3"/><circle cx="233.3" cy="1394.0" r="3.3"/><circle cx="252.0" cy="1251.0" r="3.3"/><circle cx="282.2" cy="1255.1" r="3.3"/><circle cx="297.3" cy="1270.2" r="3.3"/><circle cx="250.0" cy="1276.2" r="3.3"/><circle cx="254.0" cy="1285.3" r="3.3"/><circle cx="259.1" cy="1293.3" r="3.3"/><circle cx="251.0" cy="1299.4" r="3.3"/><circle cx="284.2" cy="1312.5" r="3.3"/><circle cx="291.3" cy="1316.5" r="3.3"/><circle cx="298.3" cy="1313.5" r="3.3"/><circle cx="310.4" cy="1357.8" r="3.3"/><circle cx="308.4" cy="1365.8" r="3.3"/><circle cx="259.1" cy="1370.9" r="3.3"/><circle cx="301.4" cy="1390.0" r="3.3"/><circle cx="298.3" cy="1394.0" r="3.3"/><circle cx="525.5" cy="1257.1" r="3.3"/><circle cx="560.8" cy="1246.0" r="3.3"/><circle cx="589.0" cy="1259.1" r="3.3"/><circle cx="592.0" cy="1262.1" r="3.3"/><circle cx="574.9" cy="1269.2" r="3.3"/><circle cx="577.9" cy="1273.2" r="3.3"/><circle cx="592.0" cy="1266.1" r="3.3"/><circle cx="495.3" cy="1273.2" r="3.3"/><circle cx="591.0" cy="1273.2" r="3.3"/><circle cx="576.9" cy="1279.2" r="3.3"/><circle cx="484.2" cy="1290.3" r="3.3"/><circle cx="542.6" cy="1295.3" r="3.3"/><circle cx="552.7" cy="1295.3" r="3.3"/><circle cx="581.9" cy="1296.4" r="3.3"/><circle cx="592.0" cy="1296.4" r="3.3"/><circle cx="557.8" cy="1307.4" r="3.3"/><circle cx="527.5" cy="1316.5" r="3.3"/><circle cx="595.0" cy="1315.5" r="3.3"/><circle cx="552.7" cy="1326.6" r="3.3"/><circle cx="558.8" cy="1334.6" r="3.3"/><circle cx="553.7" cy="1338.6" r="3.3"/><circle cx="588.0" cy="1348.7" r="3.3"/><circle cx="539.6" cy="1353.8" r="3.3"/><circle cx="544.7" cy="1356.8" r="3.3"/><circle cx="552.7" cy="1352.7" r="3.3"/><circle cx="543.7" cy="1372.9" r="3.3"/><circle cx="583.9" cy="1383.0" r="3.3"/><circle cx="568.8" cy="1397.1" r="3.3"/><circle cx="604.0" cy="1249.0" r="3.3"/><circle cx="668.5" cy="1247.0" r="3.3"/><circle cx="638.3" cy="1264.1" r="3.3"/><circle cx="667.5" cy="1261.1" r="3.3"/><circle cx="607.0" cy="1271.2" r="3.3"/><circle cx="608.1" cy="1284.3" r="3.3"/><circle cx="628.2" cy="1295.3" r="3.3"/><circle cx="655.4" cy="1299.4" r="3.3"/><circle cx="660.4" cy="1300.4" r="3.3"/><circle cx="638.3" cy="1301.4" r="3.3"/><circle cx="628.2" cy="1320.5" r="3.3"/><circle cx="205.1" cy="1408.3" r="3.3"/><circle cx="247.4" cy="1406.3" r="3.3"/><circle cx="248.4" cy="1412.4" r="3.3"/><circle cx="249.4" cy="1418.4" r="3.3"/><circle cx="239.3" cy="1442.6" r="3.3"/><circle cx="222.2" cy="1448.6" r="3.3"/><circle cx="229.3" cy="1448.6" r="3.3"/><circle cx="225.2" cy="1454.7" r="3.3"/></g>
<g fill="#d6a89f"><circle cx="235.3" cy="806.1" r="3.3"/><circle cx="226.2" cy="826.3" r="3.3"/><circle cx="240.3" cy="830.3" r="3.3"/><circle cx="241.3" cy="833.3" r="3.3"/><circle cx="212.1" cy="833.3" r="3.3"/><circle cx="208.1" cy="839.3" r="3.3"/><circle cx="209.1" cy="843.4" r="3.3"/><circle cx="192.0" cy="860.5" r="3.3"/><circle cx="246.4" cy="866.5" r="3.3"/><circle cx="183.9" cy="871.6" r="3.3"/><circle cx="183.9" cy="877.6" r="3.3"/><circle cx="202.1" cy="886.7" r="3.3"/><circle cx="216.2" cy="915.9" r="3.3"/><circle cx="79.2" cy="928.0" r="3.3"/><circle cx="76.2" cy="932.0" r="3.3"/><circle cx="69.1" cy="938.0" r="3.3"/><circle cx="183.9" cy="938.0" r="3.3"/><circle cx="252.0" cy="822.2" r="3.3"/><circle cx="267.1" cy="822.2" r="3.3"/><circle cx="262.1" cy="872.6" r="3.3"/><circle cx="279.2" cy="889.7" r="3.3"/><circle cx="399.0" cy="940.1" r="3.3"/><circle cx="596.0" cy="827.3" r="3.3"/><circle cx="601.1" cy="833.3" r="3.3"/><circle cx="573.9" cy="844.4" r="3.3"/><circle cx="599.0" cy="872.6" r="3.3"/><circle cx="549.7" cy="876.6" r="3.3"/><circle cx="550.7" cy="919.9" r="3.3"/><circle cx="535.6" cy="932.0" r="3.3"/><circle cx="530.6" cy="941.1" r="3.3"/><circle cx="548.7" cy="941.1" r="3.3"/><circle cx="92.3" cy="964.2" r="3.3"/><circle cx="97.3" cy="964.2" r="3.3"/><circle cx="64.1" cy="985.3" r="3.3"/><circle cx="76.2" cy="990.3" r="3.3"/><circle cx="69.1" cy="995.4" r="3.3"/><circle cx="93.3" cy="997.4" r="3.3"/><circle cx="75.2" cy="1010.5" r="3.3"/><circle cx="208.1" cy="957.1" r="3.3"/><circle cx="217.2" cy="974.2" r="3.3"/><circle cx="177.9" cy="979.3" r="3.3"/><circle cx="240.3" cy="977.2" r="3.3"/><circle cx="214.1" cy="993.4" r="3.3"/><circle cx="182.9" cy="993.4" r="3.3"/><circle cx="204.1" cy="1005.4" r="3.3"/><circle cx="183.9" cy="1082.0" r="3.3"/><circle cx="282.2" cy="1011.5" r="3.3"/><circle cx="262.1" cy="1014.5" r="3.3"/><circle cx="272.2" cy="1071.9" r="3.3"/><circle cx="399.0" cy="943.0" r="3.3"/><circle cx="405.1" cy="944.0" r="3.3"/><circle cx="411.1" cy="945.0" r="3.3"/><circle cx="406.1" cy="949.0" r="3.3"/><circle cx="405.1" cy="953.1" r="3.3"/><circle cx="422.2" cy="955.1" r="3.3"/><circle cx="407.1" cy="966.2" r="3.3"/><circle cx="403.1" cy="971.2" r="3.3"/><circle cx="448.4" cy="1009.5" r="3.3"/><circle cx="414.1" cy="1024.6" r="3.3"/><circle cx="529.6" cy="944.0" r="3.3"/><circle cx="562.8" cy="960.1" r="3.3"/><circle cx="511.4" cy="988.3" r="3.3"/><circle cx="528.5" cy="1010.5" r="3.3"/><circle cx="581.9" cy="1014.5" r="3.3"/><circle cx="571.9" cy="1024.6" r="3.3"/><circle cx="600.1" cy="1033.6" r="3.3"/><circle cx="562.8" cy="1038.7" r="3.3"/><circle cx="586.0" cy="1045.7" r="3.3"/><circle cx="622.2" cy="1046.7" r="3.3"/><circle cx="582.9" cy="1052.8" r="3.3"/><circle cx="548.7" cy="1054.8" r="3.3"/><circle cx="546.7" cy="1059.8" r="3.3"/><circle cx="569.8" cy="1060.8" r="3.3"/><circle cx="665.1" cy="1052.8" r="3.3"/><circle cx="661.1" cy="1060.8" r="3.3"/><circle cx="206.1" cy="1095.0" r="3.3"/><circle cx="151.7" cy="1101.0" r="3.3"/><circle cx="240.3" cy="1124.2" r="3.3"/><circle cx="196.0" cy="1171.5" r="3.3"/><circle cx="245.4" cy="1238.0" r="3.3"/><circle cx="341.6" cy="1096.0" r="3.3"/><circle cx="338.6" cy="1123.2" r="3.3"/><circle cx="302.4" cy="1128.2" r="3.3"/><circle cx="280.2" cy="1131.3" r="3.3"/><circle cx="327.5" cy="1138.3" r="3.3"/><circle cx="310.4" cy="1148.4" r="3.3"/><circle cx="257.0" cy="1153.4" r="3.3"/><circle cx="258.1" cy="1159.5" r="3.3"/><circle cx="302.4" cy="1158.5" r="3.3"/><circle cx="324.5" cy="1154.4" r="3.3"/><circle cx="283.2" cy="1166.5" r="3.3"/><circle cx="275.2" cy="1173.6" r="3.3"/><circle cx="255.0" cy="1189.7" r="3.3"/><circle cx="258.1" cy="1199.7" r="3.3"/><circle cx="636.3" cy="1097.0" r="3.3"/><circle cx="615.2" cy="1099.0" r="3.3"/><circle cx="623.2" cy="1099.0" r="3.3"/><circle cx="591.0" cy="1121.2" r="3.3"/><circle cx="638.3" cy="1163.5" r="3.3"/><circle cx="620.2" cy="1174.6" r="3.3"/><circle cx="583.9" cy="1227.9" r="3.3"/><circle cx="655.4" cy="1116.2" r="3.3"/><circle cx="682.6" cy="1121.2" r="3.3"/><circle cx="665.5" cy="1138.3" r="3.3"/><circle cx="672.5" cy="1177.6" r="3.3"/><circle cx="683.6" cy="1173.6" r="3.3"/><circle cx="683.6" cy="1182.6" r="3.3"/><circle cx="165.8" cy="1278.2" r="3.3"/><circle cx="189.0" cy="1332.6" r="3.3"/><circle cx="249.4" cy="1342.7" r="3.3"/><circle cx="217.2" cy="1349.7" r="3.3"/><circle cx="188.0" cy="1359.8" r="3.3"/><circle cx="225.2" cy="1371.9" r="3.3"/><circle cx="293.3" cy="1291.3" r="3.3"/><circle cx="317.5" cy="1298.4" r="3.3"/><circle cx="297.3" cy="1349.7" r="3.3"/><circle cx="258.1" cy="1365.8" r="3.3"/><circle cx="525.5" cy="1282.3" r="3.3"/><circle cx="536.6" cy="1284.3" r="3.3"/><circle cx="542.6" cy="1300.4" r="3.3"/><circle cx="556.7" cy="1390.0" r="3.3"/><circle cx="560.8" cy="1388.0" r="3.3"/><circle cx="614.1" cy="1254.1" r="3.3"/><circle cx="668.5" cy="1251.0" r="3.3"/><circle cx="615.1" cy="1264.1" r="3.3"/><circle cx="606.0" cy="1268.2" r="3.3"/><circle cx="655.4" cy="1270.2" r="3.3"/><circle cx="650.4" cy="1276.2" r="3.3"/><circle cx="604.0" cy="1282.3" r="3.3"/><circle cx="615.1" cy="1289.3" r="3.3"/><circle cx="626.2" cy="1282.3" r="3.3"/><circle cx="604.0" cy="1294.3" r="3.3"/><circle cx="648.3" cy="1321.5" r="3.3"/><circle cx="614.1" cy="1321.5" r="3.3"/><circle cx="649.3" cy="1329.6" r="3.3"/><circle cx="621.1" cy="1339.7" r="3.3"/><circle cx="616.1" cy="1345.7" r="3.3"/><circle cx="533.6" cy="1404.3" r="3.3"/><circle cx="560.8" cy="1410.4" r="3.3"/><circle cx="588.0" cy="1398.3" r="3.3"/></g>
<g fill="#e58d7a"><circle cx="245.4" cy="808.1" r="3.3"/><circle cx="231.3" cy="853.4" r="3.3"/><circle cx="249.4" cy="871.6" r="3.3"/><circle cx="213.1" cy="885.7" r="3.3"/><circle cx="239.3" cy="892.7" r="3.3"/><circle cx="215.2" cy="909.8" r="3.3"/><circle cx="215.2" cy="920.9" r="3.3"/><circle cx="232.3" cy="941.1" r="3.3"/><circle cx="257.0" cy="837.3" r="3.3"/><circle cx="260.1" cy="843.4" r="3.3"/><circle cx="264.1" cy="843.4" r="3.3"/><circle cx="277.2" cy="845.4" r="3.3"/><circle cx="286.3" cy="883.7" r="3.3"/><circle cx="259.1" cy="920.9" r="3.3"/><circle cx="420.2" cy="932.0" r="3.3"/><circle cx="411.1" cy="937.0" r="3.3"/><circle cx="596.0" cy="837.3" r="3.3"/><circle cx="593.0" cy="843.4" r="3.3"/><circle cx="598.0" cy="845.4" r="3.3"/><circle cx="562.8" cy="848.4" r="3.3"/><circle cx="601.1" cy="854.5" r="3.3"/><circle cx="598.0" cy="857.5" r="3.3"/><circle cx="598.0" cy="862.5" r="3.3"/><circle cx="589.0" cy="864.5" r="3.3"/><circle cx="587.0" cy="868.5" r="3.3"/><circle cx="556.7" cy="874.6" r="3.3"/><circle cx="578.9" cy="883.7" r="3.3"/><circle cx="546.7" cy="902.8" r="3.3"/><circle cx="607.1" cy="900.8" r="3.3"/><circle cx="531.6" cy="909.8" r="3.3"/><circle cx="571.9" cy="914.9" r="3.3"/><circle cx="578.9" cy="915.9" r="3.3"/><circle cx="555.7" cy="917.9" r="3.3"/><circle cx="564.8" cy="915.9" r="3.3"/><circle cx="588.0" cy="921.9" r="3.3"/><circle cx="550.7" cy="930.0" r="3.3"/><circle cx="581.9" cy="937.0" r="3.3"/><circle cx="76.2" cy="944.0" r="3.3"/><circle cx="98.3" cy="950.1" r="3.3"/><circle cx="97.3" cy="954.1" r="3.3"/><circle cx="92.3" cy="955.1" r="3.3"/><circle cx="88.3" cy="957.1" r="3.3"/><circle cx="79.2" cy="956.1" r="3.3"/><circle cx="76.2" cy="963.1" r="3.3"/><circle cx="102.4" cy="963.1" r="3.3"/><circle cx="88.3" cy="974.2" r="3.3"/><circle cx="67.1" cy="987.3" r="3.3"/><circle cx="79.2" cy="992.4" r="3.3"/><circle cx="89.3" cy="988.3" r="3.3"/><circle cx="81.2" cy="999.4" r="3.3"/><circle cx="87.3" cy="1007.5" r="3.3"/><circle cx="86.3" cy="1012.5" r="3.3"/><circle cx="75.2" cy="1018.5" r="3.3"/><circle cx="89.3" cy="1030.6" r="3.3"/><circle cx="211.1" cy="945.0" r="3.3"/><circle cx="245.4" cy="945.0" r="3.3"/><circle cx="197.0" cy="963.1" r="3.3"/><circle cx="231.3" cy="971.2" r="3.3"/><circle cx="177.9" cy="982.3" r="3.3"/><circle cx="210.1" cy="981.3" r="3.3"/><circle cx="232.3" cy="980.3" r="3.3"/><circle cx="227.2" cy="993.4" r="3.3"/><circle cx="201.1" cy="1000.4" r="3.3"/><circle cx="215.2" cy="1010.5" r="3.3"/><circle cx="197.0" cy="1012.5" r="3.3"/><circle cx="202.1" cy="1012.5" r="3.3"/><circle cx="206.1" cy="1016.5" r="3.3"/><circle cx="219.2" cy="1017.5" r="3.3"/><circle cx="198.0" cy="1024.6" r="3.3"/><circle cx="198.0" cy="1029.6" r="3.3"/><circle cx="181.9" cy="1030.6" r="3.3"/><circle cx="175.9" cy="1034.6" r="3.3"/><circle cx="222.2" cy="1034.6" r="3.3"/><circle cx="194.0" cy="1043.7" r="3.3"/><circle cx="208.1" cy="1043.7" r="3.3"/><circle cx="201.1" cy="1047.7" r="3.3"/><circle cx="230.3" cy="1055.8" r="3.3"/><circle cx="150.7" cy="1060.8" r="3.3"/><circle cx="191.0" cy="1061.8" r="3.3"/><circle cx="175.9" cy="1075.9" r="3.3"/><circle cx="194.0" cy="1085.0" r="3.3"/><circle cx="153.7" cy="1088.0" r="3.3"/><circle cx="187.0" cy="1089.0" r="3.3"/><circle cx="258.1" cy="954.1" r="3.3"/><circle cx="251.0" cy="960.1" r="3.3"/><circle cx="297.3" cy="970.2" r="3.3"/><circle cx="302.4" cy="976.2" r="3.3"/><circle cx="309.4" cy="968.2" r="3.3"/><circle cx="290.3" cy="1010.5" r="3.3"/><circle cx="279.2" cy="1020.5" r="3.3"/><circle cx="271.1" cy="1032.6" r="3.3"/><circle cx="277.2" cy="1032.6" r="3.3"/><circle cx="313.4" cy="1044.7" r="3.3"/><circle cx="304.4" cy="1048.7" r="3.3"/><circle cx="333.6" cy="1054.8" r="3.3"/><circle cx="341.6" cy="1060.8" r="3.3"/><circle cx="336.6" cy="1063.9" r="3.3"/><circle cx="273.2" cy="1063.9" r="3.3"/><circle cx="284.2" cy="1069.9" r="3.3"/><circle cx="326.5" cy="1083.0" r="3.3"/><circle cx="280.2" cy="1085.0" r="3.3"/><circle cx="412.1" cy="954.1" r="3.3"/><circle cx="409.1" cy="962.1" r="3.3"/><circle cx="421.2" cy="967.2" r="3.3"/><circle cx="396.0" cy="974.2" r="3.3"/><circle cx="396.0" cy="977.2" r="3.3"/><circle cx="425.2" cy="978.3" r="3.3"/><circle cx="394.0" cy="987.3" r="3.3"/><circle cx="416.2" cy="999.4" r="3.3"/><circle cx="417.2" cy="1015.5" r="3.3"/><circle cx="552.7" cy="945.0" r="3.3"/><circle cx="595.0" cy="950.1" r="3.3"/><circle cx="598.0" cy="960.1" r="3.3"/><circle cx="603.1" cy="962.1" r="3.3"/><circle cx="580.9" cy="961.1" r="3.3"/><circle cx="583.9" cy="967.2" r="3.3"/><circle cx="590.0" cy="966.2" r="3.3"/><circle cx="568.8" cy="969.2" r="3.3"/><circle cx="545.7" cy="967.2" r="3.3"/><circle cx="546.7" cy="972.2" r="3.3"/><circle cx="505.4" cy="976.2" r="3.3"/><circle cx="599.0" cy="977.2" r="3.3"/><circle cx="584.9" cy="977.2" r="3.3"/><circle cx="580.9" cy="980.3" r="3.3"/><circle cx="593.0" cy="988.3" r="3.3"/><circle cx="606.1" cy="987.3" r="3.3"/><circle cx="567.8" cy="991.3" r="3.3"/><circle cx="571.9" cy="993.4" r="3.3"/><circle cx="588.0" cy="997.4" r="3.3"/><circle cx="589.0" cy="1003.4" r="3.3"/><circle cx="596.0" cy="996.4" r="3.3"/><circle cx="601.1" cy="998.4" r="3.3"/><circle cx="601.1" cy="1003.4" r="3.3"/><circle cx="600.1" cy="1008.5" r="3.3"/><circle cx="611.1" cy="1010.5" r="3.3"/><circle cx="544.7" cy="1009.5" r="3.3"/><circle cx="550.7" cy="1009.5" r="3.3"/><circle cx="590.0" cy="1016.5" r="3.3"/><circle cx="594.0" cy="1022.6" r="3.3"/><circle cx="608.1" cy="1016.5" r="3.3"/><circle cx="618.2" cy="1018.5" r="3.3"/><circle cx="622.2" cy="1022.6" r="3.3"/><circle cx="634.3" cy="1017.5" r="3.3"/><circle cx="580.9" cy="1033.6" r="3.3"/><circle cx="622.2" cy="1031.6" r="3.3"/><circle cx="583.9" cy="1038.7" r="3.3"/><circle cx="589.0" cy="1037.7" r="3.3"/><circle cx="567.8" cy="1042.7" r="3.3"/><circle cx="559.8" cy="1043.7" r="3.3"/><circle cx="556.7" cy="1047.7" r="3.3"/><circle cx="572.9" cy="1045.7" r="3.3"/><circle cx="626.2" cy="1050.8" r="3.3"/><circle cx="621.2" cy="1054.8" r="3.3"/><circle cx="608.1" cy="1057.8" r="3.3"/><circle cx="549.7" cy="1064.9" r="3.3"/><circle cx="590.0" cy="1060.8" r="3.3"/><circle cx="576.9" cy="1065.9" r="3.3"/><circle cx="613.1" cy="1066.9" r="3.3"/><circle cx="619.2" cy="1076.9" r="3.3"/><circle cx="649.4" cy="1074.9" r="3.3"/><circle cx="560.8" cy="1088.0" r="3.3"/><circle cx="586.0" cy="1084.0" r="3.3"/><circle cx="582.9" cy="1089.0" r="3.3"/><circle cx="610.1" cy="1088.0" r="3.3"/><circle cx="621.2" cy="1085.0" r="3.3"/><circle cx="625.2" cy="1087.0" r="3.3"/><circle cx="632.3" cy="1088.0" r="3.3"/><circle cx="164.8" cy="1100.0" r="3.3"/><circle cx="216.2" cy="1101.0" r="3.3"/><circle cx="215.2" cy="1110.1" r="3.3"/><circle cx="158.8" cy="1116.2" r="3.3"/><circle cx="180.9" cy="1117.2" r="3.3"/><circle cx="169.8" cy="1121.2" r="3.3"/><circle cx="215.2" cy="1117.2" r="3.3"/><circle cx="175.9" cy="1126.2" r="3.3"/><circle cx="247.4" cy="1126.2" r="3.3"/><circle cx="198.0" cy="1127.2" r="3.3"/><circle cx="202.1" cy="1132.3" r="3.3"/><circle cx="242.3" cy="1142.3" r="3.3"/><circle cx="186.0" cy="1145.4" r="3.3"/><circle cx="196.0" cy="1145.4" r="3.3"/><circle cx="216.2" cy="1145.4" r="3.3"/><circle cx="216.2" cy="1150.4" r="3.3"/><circle cx="229.3" cy="1143.3" r="3.3"/><circle cx="178.9" cy="1152.4" r="3.3"/><circle cx="223.2" cy="1156.4" r="3.3"/><circle cx="192.0" cy="1165.5" r="3.3"/><circle cx="210.1" cy="1165.5" r="3.3"/><circle cx="240.3" cy="1162.5" r="3.3"/><circle cx="238.3" cy="1165.5" r="3.3"/><circle cx="210.1" cy="1174.6" r="3.3"/><circle cx="239.3" cy="1177.6" r="3.3"/><circle cx="169.8" cy="1186.6" r="3.3"/><circle cx="202.1" cy="1187.7" r="3.3"/><circle cx="211.1" cy="1186.6" r="3.3"/><circle cx="226.2" cy="1183.6" r="3.3"/><circle cx="204.1" cy="1193.7" r="3.3"/><circle cx="203.1" cy="1198.7" r="3.3"/><circle cx="234.3" cy="1194.7" r="3.3"/><circle cx="228.2" cy="1204.8" r="3.3"/><circle cx="233.3" cy="1201.8" r="3.3"/><circle cx="239.3" cy="1204.8" r="3.3"/><circle cx="189.0" cy="1205.8" r="3.3"/><circle cx="199.0" cy="1216.9" r="3.3"/><circle cx="155.7" cy="1222.9" r="3.3"/><circle cx="191.0" cy="1221.9" r="3.3"/><circle cx="235.3" cy="1232.0" r="3.3"/><circle cx="235.3" cy="1237.0" r="3.3"/><circle cx="307.4" cy="1103.1" r="3.3"/><circle cx="322.5" cy="1104.1" r="3.3"/><circle cx="336.6" cy="1095.0" r="3.3"/><circle cx="319.5" cy="1120.2" r="3.3"/><circle cx="345.7" cy="1122.2" r="3.3"/><circle cx="252.0" cy="1124.2" r="3.3"/><circle cx="308.4" cy="1126.2" r="3.3"/><circle cx="262.1" cy="1139.3" r="3.3"/><circle cx="313.4" cy="1138.3" r="3.3"/><circle cx="324.5" cy="1137.3" r="3.3"/><circle cx="335.6" cy="1142.3" r="3.3"/><circle cx="342.6" cy="1141.3" r="3.3"/><circle cx="294.3" cy="1148.4" r="3.3"/><circle cx="312.4" cy="1149.4" r="3.3"/><circle cx="271.1" cy="1157.4" r="3.3"/><circle cx="308.4" cy="1156.4" r="3.3"/><circle cx="330.6" cy="1160.5" r="3.3"/><circle cx="334.6" cy="1165.5" r="3.3"/><circle cx="342.6" cy="1161.5" r="3.3"/><circle cx="334.6" cy="1172.5" r="3.3"/><circle cx="306.4" cy="1174.6" r="3.3"/><circle cx="345.7" cy="1179.6" r="3.3"/><circle cx="307.4" cy="1189.7" r="3.3"/><circle cx="282.2" cy="1220.9" r="3.3"/><circle cx="279.2" cy="1228.9" r="3.3"/><circle cx="350.7" cy="1221.9" r="3.3"/><circle cx="350.7" cy="1225.9" r="3.3"/><circle cx="281.2" cy="1238.0" r="3.3"/><circle cx="292.3" cy="1241.0" r="3.3"/><circle cx="580.9" cy="1099.0" r="3.3"/><circle cx="601.1" cy="1100.0" r="3.3"/><circle cx="571.9" cy="1106.1" r="3.3"/><circle cx="599.0" cy="1106.1" r="3.3"/><circle cx="597.0" cy="1111.1" r="3.3"/><circle cx="644.4" cy="1108.1" r="3.3"/><circle cx="639.3" cy="1112.1" r="3.3"/><circle cx="635.3" cy="1116.2" r="3.3"/><circle cx="630.3" cy="1120.2" r="3.3"/><circle cx="597.0" cy="1116.2" r="3.3"/><circle cx="528.5" cy="1122.2" r="3.3"/><circle cx="605.1" cy="1122.2" r="3.3"/><circle cx="553.7" cy="1128.2" r="3.3"/><circle cx="562.8" cy="1123.2" r="3.3"/><circle cx="562.8" cy="1127.2" r="3.3"/><circle cx="606.1" cy="1136.3" r="3.3"/><circle cx="571.9" cy="1143.3" r="3.3"/><circle cx="583.9" cy="1143.3" r="3.3"/><circle cx="603.1" cy="1144.4" r="3.3"/><circle cx="608.1" cy="1143.3" r="3.3"/><circle cx="615.2" cy="1148.4" r="3.3"/><circle cx="550.7" cy="1150.4" r="3.3"/><circle cx="576.9" cy="1154.4" r="3.3"/><circle cx="595.0" cy="1155.4" r="3.3"/><circle cx="601.1" cy="1156.4" r="3.3"/><circle cx="608.1" cy="1155.4" r="3.3"/><circle cx="622.2" cy="1157.4" r="3.3"/><circle cx="600.1" cy="1160.5" r="3.3"/><circle cx="558.8" cy="1166.5" r="3.3"/><circle cx="565.8" cy="1166.5" r="3.3"/><circle cx="574.9" cy="1164.5" r="3.3"/><circle cx="580.9" cy="1165.5" r="3.3"/><circle cx="583.9" cy="1163.5" r="3.3"/><circle cx="593.0" cy="1164.5" r="3.3"/><circle cx="597.0" cy="1166.5" r="3.3"/><circle cx="611.1" cy="1166.5" r="3.3"/><circle cx="538.6" cy="1168.5" r="3.3"/><circle cx="587.0" cy="1170.5" r="3.3"/><circle cx="591.0" cy="1173.6" r="3.3"/><circle cx="597.0" cy="1173.6" r="3.3"/><circle cx="616.2" cy="1172.5" r="3.3"/><circle cx="624.2" cy="1173.6" r="3.3"/><circle cx="633.3" cy="1171.5" r="3.3"/><circle cx="578.9" cy="1176.6" r="3.3"/><circle cx="631.3" cy="1177.6" r="3.3"/><circle cx="554.7" cy="1182.6" r="3.3"/><circle cx="610.1" cy="1183.6" r="3.3"/><circle cx="619.2" cy="1181.6" r="3.3"/><circle cx="621.2" cy="1186.6" r="3.3"/><circle cx="644.4" cy="1187.7" r="3.3"/><circle cx="574.9" cy="1186.6" r="3.3"/><circle cx="580.9" cy="1187.7" r="3.3"/><circle cx="584.9" cy="1184.6" r="3.3"/><circle cx="590.0" cy="1186.6" r="3.3"/><circle cx="594.0" cy="1189.7" r="3.3"/><circle cx="600.1" cy="1188.7" r="3.3"/><circle cx="598.0" cy="1194.7" r="3.3"/><circle cx="608.1" cy="1193.7" r="3.3"/><circle cx="629.3" cy="1194.7" r="3.3"/><circle cx="577.9" cy="1200.7" r="3.3"/><circle cx="574.9" cy="1204.8" r="3.3"/><circle cx="570.8" cy="1206.8" r="3.3"/><circle cx="621.2" cy="1206.8" r="3.3"/><circle cx="600.1" cy="1210.8" r="3.3"/><circle cx="603.1" cy="1212.8" r="3.3"/><circle cx="619.2" cy="1212.8" r="3.3"/><circle cx="624.2" cy="1213.8" r="3.3"/><circle cx="632.3" cy="1212.8" r="3.3"/><circle cx="556.7" cy="1216.9" r="3.3"/><circle cx="594.0" cy="1217.9" r="3.3"/><circle cx="599.0" cy="1216.9" r="3.3"/><circle cx="550.7" cy="1220.9" r="3.3"/><circle cx="579.9" cy="1221.9" r="3.3"/><circle cx="621.2" cy="1221.9" r="3.3"/><circle cx="593.0" cy="1222.9" r="3.3"/><circle cx="560.8" cy="1226.9" r="3.3"/><circle cx="577.9" cy="1226.9" r="3.3"/><circle cx="622.2" cy="1227.9" r="3.3"/><circle cx="630.3" cy="1231.0" r="3.3"/><circle cx="609.1" cy="1230.0" r="3.3"/><circle cx="569.8" cy="1230.0" r="3.3"/><circle cx="567.8" cy="1235.0" r="3.3"/><circle cx="590.0" cy="1236.0" r="3.3"/><circle cx="604.1" cy="1239.0" r="3.3"/><circle cx="615.2" cy="1238.0" r="3.3"/><circle cx="619.2" cy="1241.0" r="3.3"/><circle cx="627.2" cy="1232.0" r="3.3"/><circle cx="649.4" cy="1232.0" r="3.3"/><circle cx="559.8" cy="1238.0" r="3.3"/><circle cx="570.8" cy="1242.0" r="3.3"/><circle cx="524.5" cy="1242.0" r="3.3"/><circle cx="599.0" cy="1243.0" r="3.3"/><circle cx="611.1" cy="1244.1" r="3.3"/><circle cx="677.5" cy="1136.3" r="3.3"/><circle cx="682.6" cy="1139.3" r="3.3"/><circle cx="685.6" cy="1138.3" r="3.3"/><circle cx="668.5" cy="1154.4" r="3.3"/><circle cx="673.5" cy="1154.4" r="3.3"/><circle cx="668.5" cy="1166.5" r="3.3"/><circle cx="667.5" cy="1172.5" r="3.3"/><circle cx="662.4" cy="1196.7" r="3.3"/><circle cx="196.0" cy="1260.1" r="3.3"/><circle cx="224.2" cy="1254.1" r="3.3"/><circle cx="237.3" cy="1248.0" r="3.3"/><circle cx="246.4" cy="1248.0" r="3.3"/><circle cx="229.3" cy="1274.2" r="3.3"/><circle cx="206.1" cy="1276.2" r="3.3"/><circle cx="187.0" cy="1283.3" r="3.3"/><circle cx="184.9" cy="1286.3" r="3.3"/><circle cx="221.2" cy="1282.3" r="3.3"/><circle cx="221.2" cy="1290.3" r="3.3"/><circle cx="205.1" cy="1289.3" r="3.3"/><circle cx="154.7" cy="1294.3" r="3.3"/><circle cx="181.9" cy="1295.3" r="3.3"/><circle cx="146.7" cy="1300.4" r="3.3"/><circle cx="150.7" cy="1306.4" r="3.3"/><circle cx="183.9" cy="1305.4" r="3.3"/><circle cx="152.7" cy="1312.5" r="3.3"/><circle cx="171.9" cy="1312.5" r="3.3"/><circle cx="176.9" cy="1312.5" r="3.3"/><circle cx="162.8" cy="1317.5" r="3.3"/><circle cx="198.0" cy="1315.5" r="3.3"/><circle cx="209.1" cy="1315.5" r="3.3"/><circle cx="211.1" cy="1319.5" r="3.3"/><circle cx="217.2" cy="1330.6" r="3.3"/><circle cx="223.2" cy="1339.7" r="3.3"/><circle cx="235.3" cy="1366.8" r="3.3"/><circle cx="231.3" cy="1375.9" r="3.3"/><circle cx="235.3" cy="1378.9" r="3.3"/><circle cx="212.1" cy="1378.9" r="3.3"/><circle cx="209.1" cy="1387.0" r="3.3"/><circle cx="247.4" cy="1397.1" r="3.3"/><circle cx="280.2" cy="1322.5" r="3.3"/><circle cx="288.3" cy="1337.6" r="3.3"/><circle cx="287.3" cy="1348.7" r="3.3"/><circle cx="323.5" cy="1347.7" r="3.3"/><circle cx="259.1" cy="1354.8" r="3.3"/><circle cx="266.1" cy="1389.0" r="3.3"/><circle cx="250.0" cy="1396.1" r="3.3"/><circle cx="526.5" cy="1247.0" r="3.3"/><circle cx="571.9" cy="1247.0" r="3.3"/><circle cx="576.9" cy="1250.0" r="3.3"/><circle cx="586.0" cy="1249.0" r="3.3"/><circle cx="596.0" cy="1248.0" r="3.3"/><circle cx="597.0" cy="1254.1" r="3.3"/><circle cx="575.9" cy="1259.1" r="3.3"/><circle cx="554.7" cy="1265.1" r="3.3"/><circle cx="559.8" cy="1262.1" r="3.3"/><circle cx="575.9" cy="1264.1" r="3.3"/><circle cx="515.5" cy="1275.2" r="3.3"/><circle cx="565.8" cy="1276.2" r="3.3"/><circle cx="567.8" cy="1281.2" r="3.3"/><circle cx="581.9" cy="1280.2" r="3.3"/><circle cx="507.4" cy="1285.3" r="3.3"/><circle cx="560.8" cy="1288.3" r="3.3"/><circle cx="588.0" cy="1290.3" r="3.3"/><circle cx="594.0" cy="1290.3" r="3.3"/><circle cx="599.0" cy="1289.3" r="3.3"/><circle cx="560.8" cy="1296.4" r="3.3"/><circle cx="598.0" cy="1295.3" r="3.3"/><circle cx="589.0" cy="1301.4" r="3.3"/><circle cx="596.0" cy="1302.4" r="3.3"/><circle cx="519.5" cy="1304.4" r="3.3"/><circle cx="534.6" cy="1310.5" r="3.3"/><circle cx="495.3" cy="1312.5" r="3.3"/><circle cx="558.8" cy="1322.5" r="3.3"/><circle cx="564.8" cy="1321.5" r="3.3"/><circle cx="571.9" cy="1323.5" r="3.3"/><circle cx="566.8" cy="1328.6" r="3.3"/><circle cx="592.0" cy="1327.6" r="3.3"/><circle cx="560.8" cy="1332.6" r="3.3"/><circle cx="567.8" cy="1337.6" r="3.3"/><circle cx="577.9" cy="1341.7" r="3.3"/><circle cx="560.8" cy="1348.7" r="3.3"/><circle cx="577.9" cy="1354.8" r="3.3"/><circle cx="590.0" cy="1352.7" r="3.3"/><circle cx="510.4" cy="1359.8" r="3.3"/><circle cx="567.8" cy="1359.8" r="3.3"/><circle cx="587.0" cy="1360.8" r="3.3"/><circle cx="584.9" cy="1367.9" r="3.3"/><circle cx="549.7" cy="1364.8" r="3.3"/><circle cx="556.7" cy="1365.8" r="3.3"/><circle cx="549.7" cy="1370.9" r="3.3"/><circle cx="552.7" cy="1375.9" r="3.3"/><circle cx="571.9" cy="1375.9" r="3.3"/><circle cx="571.9" cy="1379.9" r="3.3"/><circle cx="562.8" cy="1380.9" r="3.3"/><circle cx="545.7" cy="1386.0" r="3.3"/><circle cx="581.9" cy="1389.0" r="3.3"/><circle cx="594.0" cy="1390.0" r="3.3"/><circle cx="534.6" cy="1397.1" r="3.3"/><circle cx="617.1" cy="1250.0" r="3.3"/><circle cx="628.2" cy="1249.0" r="3.3"/><circle cx="608.1" cy="1254.1" r="3.3"/><circle cx="620.1" cy="1253.0" r="3.3"/><circle cx="625.2" cy="1253.0" r="3.3"/><circle cx="638.3" cy="1255.1" r="3.3"/><circle cx="653.4" cy="1251.0" r="3.3"/><circle cx="655.4" cy="1255.1" r="3.3"/><circle cx="610.1" cy="1261.1" r="3.3"/><circle cx="620.1" cy="1262.1" r="3.3"/><circle cx="620.1" cy="1267.1" r="3.3"/><circle cx="643.3" cy="1264.1" r="3.3"/><circle cx="644.3" cy="1269.2" r="3.3"/><circle cx="666.5" cy="1266.1" r="3.3"/><circle cx="658.4" cy="1262.1" r="3.3"/><circle cx="603.0" cy="1266.1" r="3.3"/><circle cx="622.2" cy="1270.2" r="3.3"/><circle cx="626.2" cy="1272.2" r="3.3"/><circle cx="661.4" cy="1274.2" r="3.3"/><circle cx="633.2" cy="1274.2" r="3.3"/><circle cx="632.2" cy="1279.2" r="3.3"/><circle cx="643.3" cy="1278.2" r="3.3"/><circle cx="646.3" cy="1282.3" r="3.3"/><circle cx="656.4" cy="1279.2" r="3.3"/><circle cx="658.4" cy="1283.3" r="3.3"/><circle cx="661.4" cy="1287.3" r="3.3"/><circle cx="615.1" cy="1284.3" r="3.3"/><circle cx="630.2" cy="1285.3" r="3.3"/><circle cx="604.0" cy="1288.3" r="3.3"/><circle cx="630.2" cy="1289.3" r="3.3"/><circle cx="637.3" cy="1289.3" r="3.3"/><circle cx="647.3" cy="1291.3" r="3.3"/><circle cx="652.4" cy="1293.3" r="3.3"/><circle cx="655.4" cy="1286.3" r="3.3"/><circle cx="643.3" cy="1296.4" r="3.3"/><circle cx="660.4" cy="1295.3" r="3.3"/><circle cx="630.2" cy="1299.4" r="3.3"/><circle cx="633.2" cy="1305.4" r="3.3"/><circle cx="639.3" cy="1305.4" r="3.3"/><circle cx="614.1" cy="1306.4" r="3.3"/><circle cx="657.4" cy="1306.4" r="3.3"/><circle cx="645.3" cy="1309.4" r="3.3"/><circle cx="629.2" cy="1310.5" r="3.3"/><circle cx="621.1" cy="1317.5" r="3.3"/><circle cx="643.3" cy="1318.5" r="3.3"/><circle cx="609.1" cy="1323.5" r="3.3"/><circle cx="636.3" cy="1325.6" r="3.3"/><circle cx="615.1" cy="1331.6" r="3.3"/><circle cx="626.2" cy="1329.6" r="3.3"/><circle cx="631.2" cy="1331.6" r="3.3"/><circle cx="638.3" cy="1335.6" r="3.3"/><circle cx="607.0" cy="1341.7" r="3.3"/><circle cx="602.0" cy="1344.7" r="3.3"/><circle cx="601.0" cy="1349.7" r="3.3"/><circle cx="223.2" cy="1405.3" r="3.3"/><circle cx="232.3" cy="1443.6" r="3.3"/><circle cx="224.2" cy="1465.7" r="3.3"/><circle cx="566.8" cy="1443.6" r="3.3"/></g>
<g fill="#ee604b"><circle cx="107.4" cy="933.0" r="3.3"/><circle cx="214.1" cy="937.0" r="3.3"/><circle cx="95.3" cy="941.1" r="3.3"/><circle cx="102.4" cy="939.0" r="3.3"/><circle cx="272.2" cy="886.7" r="3.3"/><circle cx="261.1" cy="902.8" r="3.3"/><circle cx="417.2" cy="942.1" r="3.3"/><circle cx="508.4" cy="860.5" r="3.3"/><circle cx="566.8" cy="876.6" r="3.3"/><circle cx="541.6" cy="890.7" r="3.3"/><circle cx="566.8" cy="889.7" r="3.3"/><circle cx="634.3" cy="901.8" r="3.3"/><circle cx="598.0" cy="910.8" r="3.3"/><circle cx="587.0" cy="932.0" r="3.3"/><circle cx="562.8" cy="936.0" r="3.3"/><circle cx="90.3" cy="1016.5" r="3.3"/><circle cx="236.3" cy="988.3" r="3.3"/><circle cx="330.6" cy="980.3" r="3.3"/><circle cx="325.5" cy="1033.6" r="3.3"/><circle cx="335.6" cy="1091.0" r="3.3"/><circle cx="423.2" cy="945.0" r="3.3"/><circle cx="422.2" cy="949.0" r="3.3"/><circle cx="432.3" cy="965.2" r="3.3"/><circle cx="429.3" cy="1005.4" r="3.3"/><circle cx="428.2" cy="1009.5" r="3.3"/><circle cx="406.1" cy="1016.5" r="3.3"/><circle cx="445.4" cy="1046.7" r="3.3"/><circle cx="603.1" cy="949.0" r="3.3"/><circle cx="545.7" cy="959.1" r="3.3"/><circle cx="629.3" cy="972.2" r="3.3"/><circle cx="631.3" cy="976.2" r="3.3"/><circle cx="586.0" cy="1021.6" r="3.3"/><circle cx="583.9" cy="1026.6" r="3.3"/><circle cx="577.9" cy="1046.7" r="3.3"/><circle cx="590.0" cy="1049.8" r="3.3"/><circle cx="584.9" cy="1055.8" r="3.3"/><circle cx="496.3" cy="1057.8" r="3.3"/><circle cx="644.4" cy="1080.0" r="3.3"/><circle cx="190.0" cy="1135.3" r="3.3"/><circle cx="208.1" cy="1138.3" r="3.3"/><circle cx="175.9" cy="1143.3" r="3.3"/><circle cx="202.1" cy="1173.6" r="3.3"/><circle cx="197.0" cy="1199.7" r="3.3"/><circle cx="183.9" cy="1207.8" r="3.3"/><circle cx="228.2" cy="1219.9" r="3.3"/><circle cx="244.4" cy="1222.9" r="3.3"/><circle cx="315.5" cy="1099.0" r="3.3"/><circle cx="329.6" cy="1103.1" r="3.3"/><circle cx="253.0" cy="1162.5" r="3.3"/><circle cx="261.1" cy="1189.7" r="3.3"/><circle cx="264.1" cy="1194.7" r="3.3"/><circle cx="261.1" cy="1233.0" r="3.3"/><circle cx="593.0" cy="1100.0" r="3.3"/><circle cx="631.3" cy="1125.2" r="3.3"/><circle cx="533.6" cy="1142.3" r="3.3"/><circle cx="544.7" cy="1144.4" r="3.3"/><circle cx="635.3" cy="1147.4" r="3.3"/><circle cx="606.1" cy="1171.5" r="3.3"/><circle cx="613.1" cy="1176.6" r="3.3"/><circle cx="567.8" cy="1184.6" r="3.3"/><circle cx="621.2" cy="1194.7" r="3.3"/><circle cx="614.1" cy="1201.8" r="3.3"/><circle cx="590.0" cy="1213.8" r="3.3"/><circle cx="613.1" cy="1220.9" r="3.3"/><circle cx="626.2" cy="1220.9" r="3.3"/><circle cx="631.3" cy="1221.9" r="3.3"/><circle cx="600.1" cy="1226.9" r="3.3"/><circle cx="644.4" cy="1235.0" r="3.3"/><circle cx="635.3" cy="1241.0" r="3.3"/><circle cx="565.8" cy="1238.0" r="3.3"/><circle cx="642.3" cy="1243.0" r="3.3"/><circle cx="210.1" cy="1255.1" r="3.3"/><circle cx="217.2" cy="1267.1" r="3.3"/><circle cx="235.3" cy="1275.2" r="3.3"/><circle cx="221.2" cy="1334.6" r="3.3"/><circle cx="192.0" cy="1377.9" r="3.3"/><circle cx="217.2" cy="1383.0" r="3.3"/><circle cx="193.0" cy="1389.0" r="3.3"/><circle cx="194.0" cy="1394.0" r="3.3"/><circle cx="238.3" cy="1394.0" r="3.3"/><circle cx="267.1" cy="1271.2" r="3.3"/><circle cx="311.4" cy="1285.3" r="3.3"/><circle cx="511.4" cy="1250.0" r="3.3"/><circle cx="533.6" cy="1253.0" r="3.3"/><circle cx="568.8" cy="1273.2" r="3.3"/><circle cx="592.0" cy="1282.3" r="3.3"/><circle cx="484.2" cy="1283.3" r="3.3"/><circle cx="509.4" cy="1296.4" r="3.3"/><circle cx="478.2" cy="1302.4" r="3.3"/><circle cx="566.8" cy="1304.4" r="3.3"/><circle cx="489.3" cy="1313.5" r="3.3"/><circle cx="494.3" cy="1317.5" r="3.3"/><circle cx="554.7" cy="1318.5" r="3.3"/><circle cx="535.6" cy="1328.6" r="3.3"/><circle cx="589.0" cy="1331.6" r="3.3"/><circle cx="584.9" cy="1334.6" r="3.3"/><circle cx="579.9" cy="1345.7" r="3.3"/><circle cx="580.9" cy="1351.7" r="3.3"/><circle cx="596.0" cy="1360.8" r="3.3"/><circle cx="579.9" cy="1363.8" r="3.3"/><circle cx="598.0" cy="1365.8" r="3.3"/><circle cx="593.0" cy="1368.9" r="3.3"/><circle cx="565.8" cy="1366.8" r="3.3"/><circle cx="516.5" cy="1371.9" r="3.3"/><circle cx="598.0" cy="1386.0" r="3.3"/><circle cx="588.0" cy="1393.0" r="3.3"/><circle cx="577.9" cy="1396.1" r="3.3"/><circle cx="635.2" cy="1248.0" r="3.3"/><circle cx="614.1" cy="1257.1" r="3.3"/><circle cx="620.1" cy="1257.1" r="3.3"/><circle cx="643.3" cy="1258.1" r="3.3"/><circle cx="630.2" cy="1261.1" r="3.3"/><circle cx="634.2" cy="1260.1" r="3.3"/><circle cx="655.4" cy="1265.1" r="3.3"/><circle cx="610.1" cy="1276.2" r="3.3"/><circle cx="638.3" cy="1278.2" r="3.3"/><circle cx="623.2" cy="1290.3" r="3.3"/><circle cx="617.1" cy="1296.4" r="3.3"/><circle cx="649.3" cy="1301.4" r="3.3"/><circle cx="653.4" cy="1312.5" r="3.3"/><circle cx="657.4" cy="1317.5" r="3.3"/><circle cx="632.2" cy="1339.7" r="3.3"/><circle cx="218.2" cy="1443.6" r="3.3"/><circle cx="548.7" cy="1402.3" r="3.3"/></g>
<defs><linearGradient id="cb" x1="0" y1="1" x2="0" y2="0"><stop offset="0" stop-color="#bdbdbd"/><stop offset="0.06" stop-color="#bdbdbd"/><stop offset="0.2" stop-color="#cfa39a"/><stop offset="0.393" stop-color="#e18c7a"/><stop offset="0.583" stop-color="#eb6e5a"/><stop offset="0.771" stop-color="#f04637"/><stop offset="0.93" stop-color="#f7001b"/><stop offset="1" stop-color="#f7001b"/></linearGradient></defs>
<rect x="724" y="815" width="31" height="182.7" fill="url(#cb)"/>
<line x1="724" y1="821.9" x2="732" y2="821.9" stroke="#fff" stroke-width="2.2" stroke-linecap="butt"/>
<line x1="747" y1="821.9" x2="755" y2="821.9" stroke="#fff" stroke-width="2.2" stroke-linecap="butt"/>
<text font-size="20" transform="translate(762.3 829.1) scale(0.9 1)">4</text>
<line x1="724" y1="856.9" x2="732" y2="856.9" stroke="#fff" stroke-width="2.2" stroke-linecap="butt"/>
<line x1="747" y1="856.9" x2="755" y2="856.9" stroke="#fff" stroke-width="2.2" stroke-linecap="butt"/>
<text font-size="20" transform="translate(762.3 864.1) scale(0.9 1)">3</text>
<line x1="724" y1="891.2" x2="732" y2="891.2" stroke="#fff" stroke-width="2.2" stroke-linecap="butt"/>
<line x1="747" y1="891.2" x2="755" y2="891.2" stroke="#fff" stroke-width="2.2" stroke-linecap="butt"/>
<text font-size="20" transform="translate(762.3 898.4000000000001) scale(0.9 1)">2</text>
<line x1="724" y1="926" x2="732" y2="926" stroke="#fff" stroke-width="2.2" stroke-linecap="butt"/>
<line x1="747" y1="926" x2="755" y2="926" stroke="#fff" stroke-width="2.2" stroke-linecap="butt"/>
<text font-size="20" transform="translate(762.3 933.2) scale(0.9 1)">1</text>
<line x1="724" y1="960.9" x2="732" y2="960.9" stroke="#fff" stroke-width="2.2" stroke-linecap="butt"/>
<line x1="747" y1="960.9" x2="755" y2="960.9" stroke="#fff" stroke-width="2.2" stroke-linecap="butt"/>
<text font-size="20" transform="translate(762.3 968.1) scale(0.9 1)">0</text>
<text x="724" y="800" font-size="21" fill="#000" textLength="159" lengthAdjust="spacingAndGlyphs">Scaled Expression</text>
</g>
</svg>
</body></html>
